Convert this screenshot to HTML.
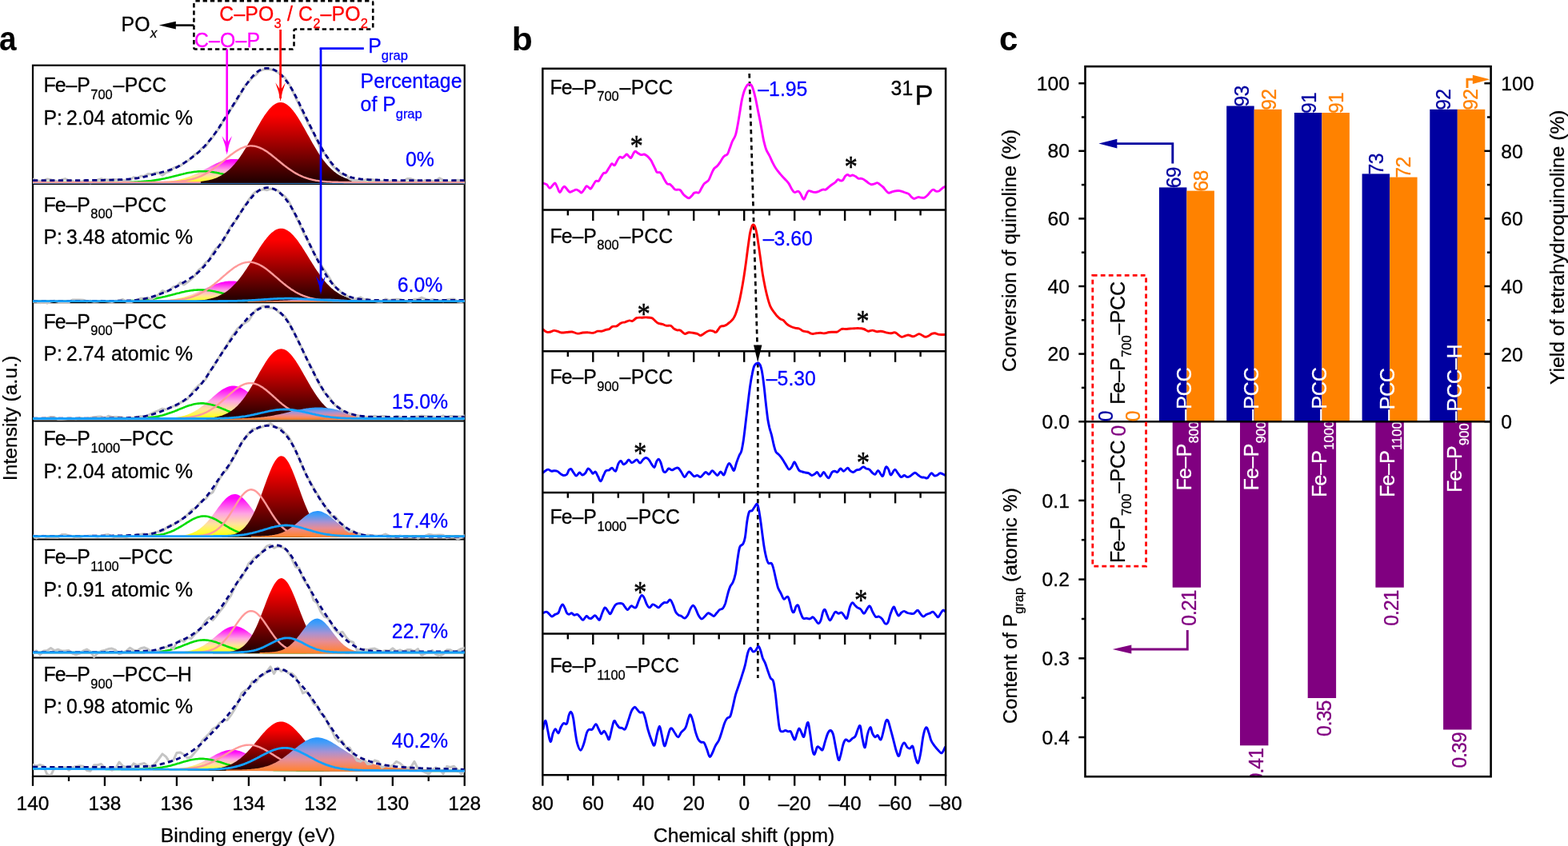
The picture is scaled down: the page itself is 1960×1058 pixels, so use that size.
<!DOCTYPE html>
<html lang="en"><head><meta charset="utf-8"><title>Figure</title>
<style>
html,body{margin:0;padding:0;background:#fff;}
body{width:1960px;height:1058px;overflow:hidden;}
svg{display:block;font-family:"Liberation Sans",Arial,Helvetica,sans-serif;}
svg text{stroke-linejoin:round;}
</style></head><body>
<svg xmlns="http://www.w3.org/2000/svg" width="1960" height="1058" viewBox="0 0 1960 1058">
<defs><linearGradient id="gR" x1="0" y1="0" x2="0" y2="1"><stop offset="0" stop-color="#ff0000"/><stop offset="0.15" stop-color="#ff0000"/><stop offset="1" stop-color="#1c0000"/></linearGradient>
<linearGradient id="gM" x1="0" y1="0" x2="0" y2="1"><stop offset="0" stop-color="#ff00ff"/><stop offset="0.1" stop-color="#ff08fa"/><stop offset="0.45" stop-color="#ffa4e2"/><stop offset="0.7" stop-color="#ffe49a"/><stop offset="0.88" stop-color="#ffff38"/><stop offset="1" stop-color="#ffff00"/></linearGradient>
<linearGradient id="gB" x1="0" y1="0" x2="0" y2="1"><stop offset="0" stop-color="#2496ff"/><stop offset="0.15" stop-color="#469cf8"/><stop offset="0.42" stop-color="#a892d2"/><stop offset="0.66" stop-color="#e88c92"/><stop offset="0.86" stop-color="#fa8650"/><stop offset="1" stop-color="#ff8228"/></linearGradient>
<clipPath id="clipA"><rect x="41" y="82.8" width="539.7" height="886.9"/></clipPath>
<clipPath id="clipB"><rect x="678.3" y="85.8" width="503.8" height="883.4"/></clipPath>
<clipPath id="clipC"><rect x="1356.5" y="83.1" width="507.1" height="886.9"/></clipPath></defs>
<rect width="1960" height="1058" fill="#fff"/>
<rect x="41" y="81.7" width="539.7" height="889.1" fill="none" stroke="#000" stroke-width="2.2"/>
<line x1="41" y1="229.9" x2="580.7" y2="229.9" stroke="#000" stroke-width="2.2"/>
<line x1="41" y1="378.2" x2="580.7" y2="378.2" stroke="#000" stroke-width="2.2"/>
<line x1="41" y1="526.5" x2="580.7" y2="526.5" stroke="#000" stroke-width="2.2"/>
<line x1="41" y1="674.5" x2="580.7" y2="674.5" stroke="#000" stroke-width="2.2"/>
<line x1="41" y1="822.5" x2="580.7" y2="822.5" stroke="#000" stroke-width="2.2"/>
<g id="panel-a" clip-path="url(#clipA)">
<path d="M170 229.3 L170 228.1 L171.5 228.1 L173 228.1 L174.5 228 L176 228 L177.5 228 L179 228 L180.5 228 L182 228 L183.5 228 L185 227.9 L186.5 227.9 L188 227.9 L189.5 227.9 L191 227.8 L192.5 227.8 L194 227.7 L195.5 227.7 L197 227.6 L198.5 227.6 L200 227.5 L201.5 227.4 L203 227.3 L204.5 227.2 L206 227.1 L207.5 227 L209 226.8 L210.5 226.7 L212 226.5 L213.5 226.3 L215 226.1 L216.5 225.9 L218 225.7 L219.5 225.4 L221 225.2 L222.5 224.9 L224 224.5 L225.5 224.2 L227 223.8 L228.5 223.4 L230 223 L231.5 222.6 L233 222.1 L234.5 221.6 L236 221.1 L237.5 220.5 L239 219.9 L240.5 219.3 L242 218.7 L243.5 218.1 L245 217.4 L246.5 216.7 L248 215.9 L249.5 215.2 L251 214.5 L252.5 213.7 L254 212.9 L255.5 212.1 L257 211.3 L258.5 210.5 L260 209.7 L261.5 208.9 L263 208.1 L264.5 207.3 L266 206.5 L267.5 205.8 L269 205.1 L270.5 204.3 L272 203.7 L273.5 203 L275 202.4 L276.5 201.8 L278 201.3 L279.5 200.8 L281 200.4 L282.5 200 L284 199.7 L285.5 199.4 L287 199.2 L288.5 199 L290 198.9 L291.5 198.9 L293 198.9 L294.5 199 L296 199.1 L297.5 199.3 L299 199.6 L300.5 199.9 L302 200.3 L303.5 200.7 L305 201.2 L306.5 201.7 L308 202.3 L309.5 202.9 L311 203.5 L312.5 204.2 L314 204.9 L315.5 205.6 L317 206.3 L318.5 207.1 L320 207.9 L321.5 208.7 L323 209.5 L324.5 210.3 L326 211.1 L327.5 211.9 L329 212.7 L330.5 213.5 L332 214.2 L333.5 215 L335 215.8 L336.5 216.5 L338 217.2 L339.5 217.9 L341 218.5 L342.5 219.2 L344 219.8 L345.5 220.4 L347 220.9 L348.5 221.5 L350 222 L351.5 222.4 L353 222.9 L354.5 223.3 L356 223.7 L357.5 224.1 L359 224.5 L360.5 224.8 L362 225.1 L363.5 225.4 L365 225.6 L366.5 225.9 L368 226.1 L369.5 226.3 L371 226.5 L372.5 226.6 L374 226.8 L375.5 226.9 L377 227.1 L378.5 227.2 L380 227.3 L381.5 227.4 L383 227.5 L384.5 227.5 L386 227.6 L387.5 227.7 L389 227.7 L390.5 227.8 L392 227.8 L393.5 227.8 L395 227.9 L396.5 227.9 L398 227.9 L399.5 228 L401 228 L402.5 228 L404 228 L405.5 228 L407 228 L408.5 228 L410 228.1 L411.5 228.1 L413 228.1 L413 229.3 Z" fill="url(#gM)"/>
<path d="M41 228.1 L42.5 228.1 L44 228.1 L45.5 228.1 L47 228.1 L48.5 228.1 L50 228.1 L51.5 228.1 L53 228.1 L54.5 228.1 L56 228.1 L57.5 228.1 L59 228.1 L60.5 228.1 L62 228.1 L63.5 228.1 L65 228.1 L66.5 228.1 L68 228.1 L69.5 228.1 L71 228.1 L72.5 228.1 L74 228.1 L75.5 228.1 L77 228.1 L78.5 228.1 L80 228.1 L81.5 228.1 L83 228.1 L84.5 228.1 L86 228.1 L87.5 228.1 L89 228.1 L90.5 228.1 L92 228.1 L93.5 228.1 L95 228.1 L96.5 228.1 L98 228.1 L99.5 228.1 L101 228.1 L102.5 228.1 L104 228.1 L105.5 228.1 L107 228.1 L108.5 228.1 L110 228.1 L111.5 228.1 L113 228.1 L114.5 228.1 L116 228.1 L117.5 228.1 L119 228.1 L120.5 228.1 L122 228.1 L123.5 228.1 L125 228.1 L126.5 228.1 L128 228.1 L129.5 228.1 L131 228.1 L132.5 228.1 L134 228.1 L135.5 228.1 L137 228.1 L138.5 228.1 L140 228.1 L141.5 228.1 L143 228 L144.5 228 L146 228 L147.5 228 L149 228 L150.5 228 L152 228 L153.5 228 L155 227.9 L156.5 227.9 L158 227.9 L159.5 227.9 L161 227.8 L162.5 227.8 L164 227.7 L165.5 227.7 L167 227.7 L168.5 227.6 L170 227.5 L171.5 227.5 L173 227.4 L174.5 227.3 L176 227.2 L177.5 227.1 L179 227 L180.5 226.9 L182 226.8 L183.5 226.6 L185 226.5 L186.5 226.3 L188 226.2 L189.5 226 L191 225.8 L192.5 225.6 L194 225.4 L195.5 225.1 L197 224.9 L198.5 224.6 L200 224.4 L201.5 224.1 L203 223.8 L204.5 223.5 L206 223.2 L207.5 222.8 L209 222.5 L210.5 222.2 L212 221.8 L213.5 221.4 L215 221.1 L216.5 220.7 L218 220.3 L219.5 219.9 L221 219.5 L222.5 219.2 L224 218.8 L225.5 218.4 L227 218 L228.5 217.7 L230 217.3 L231.5 217 L233 216.6 L234.5 216.3 L236 216 L237.5 215.7 L239 215.5 L240.5 215.2 L242 215 L243.5 214.8 L245 214.7 L246.5 214.5 L248 214.4 L249.5 214.3 L251 214.2 L252.5 214.2 L254 214.2 L255.5 214.2 L257 214.3 L258.5 214.4 L260 214.5 L261.5 214.6 L263 214.8 L264.5 215 L266 215.2 L267.5 215.4 L269 215.7 L270.5 215.9 L272 216.2 L273.5 216.5 L275 216.9 L276.5 217.2 L278 217.5 L279.5 217.9 L281 218.3 L282.5 218.7 L284 219 L285.5 219.4 L287 219.8 L288.5 220.2 L290 220.6 L291.5 220.9 L293 221.3 L294.5 221.7 L296 222 L297.5 222.4 L299 222.7 L300.5 223.1 L302 223.4 L303.5 223.7 L305 224 L306.5 224.3 L308 224.5 L309.5 224.8 L311 225.1 L312.5 225.3 L314 225.5 L315.5 225.7 L317 225.9 L318.5 226.1 L320 226.3 L321.5 226.4 L323 226.6 L324.5 226.7 L326 226.9 L327.5 227 L329 227.1 L330.5 227.2 L332 227.3 L333.5 227.4 L335 227.4 L336.5 227.5 L338 227.6 L339.5 227.6 L341 227.7 L342.5 227.7 L344 227.8 L345.5 227.8 L347 227.8 L348.5 227.9 L350 227.9 L351.5 227.9 L353 228 L354.5 228 L356 228 L357.5 228 L359 228 L360.5 228 L362 228 L363.5 228 L365 228.1 L366.5 228.1 L368 228.1 L369.5 228.1 L371 228.1 L372.5 228.1 L374 228.1 L375.5 228.1 L377 228.1 L378.5 228.1 L380 228.1 L381.5 228.1 L383 228.1 L384.5 228.1 L386 228.1 L387.5 228.1 L389 228.1 L390.5 228.1 L392 228.1 L393.5 228.1 L395 228.1 L396.5 228.1 L398 228.1 L399.5 228.1 L401 228.1 L402.5 228.1 L404 228.1 L405.5 228.1 L407 228.1 L408.5 228.1 L410 228.1 L411.5 228.1 L413 228.1 L414.5 228.1 L416 228.1 L417.5 228.1 L419 228.1 L420.5 228.1 L422 228.1 L423.5 228.1 L425 228.1 L426.5 228.1 L428 228.1 L429.5 228.1 L431 228.1 L432.5 228.1 L434 228.1 L435.5 228.1 L437 228.1 L438.5 228.1 L440 228.1 L441.5 228.1 L443 228.1 L444.5 228.1 L446 228.1 L447.5 228.1 L449 228.1 L450.5 228.1 L452 228.1 L453.5 228.1 L455 228.1 L456.5 228.1 L458 228.1 L459.5 228.1 L461 228.1 L462.5 228.1 L464 228.1 L465.5 228.1 L467 228.1 L468.5 228.1 L470 228.1 L471.5 228.1 L473 228.1 L474.5 228.1 L476 228.1 L477.5 228.1 L479 228.1 L480.5 228.1 L482 228.1 L483.5 228.1 L485 228.1 L486.5 228.1 L488 228.1 L489.5 228.1 L491 228.1 L492.5 228.1 L494 228.1 L495.5 228.1 L497 228.1 L498.5 228.1 L500 228.1 L501.5 228.1 L503 228.1 L504.5 228.1 L506 228.1 L507.5 228.1 L509 228.1 L510.5 228.1 L512 228.1 L513.5 228.1 L515 228.1 L516.5 228.1 L518 228.1 L519.5 228.1 L521 228.1 L522.5 228.1 L524 228.1 L525.5 228.1 L527 228.1 L528.5 228.1 L530 228.1 L531.5 228.1 L533 228.1 L534.5 228.1 L536 228.1 L537.5 228.1 L539 228.1 L540.5 228.1 L542 228.1 L543.5 228.1 L545 228.1 L546.5 228.1 L548 228.1 L549.5 228.1 L551 228.1 L552.5 228.1 L554 228.1 L555.5 228.1 L557 228.1 L558.5 228.1 L560 228.1 L561.5 228.1 L563 228.1 L564.5 228.1 L566 228.1 L567.5 228.1 L569 228.1 L570.5 228.1 L572 228.1 L573.5 228.1 L575 228.1 L576.5 228.1 L578 228.1 L579.5 228.1 L580.7 228.1" fill="none" stroke="#00dc00" stroke-width="2.6" stroke-linejoin="round" stroke-linecap="round"/>
<path d="M216.5 229.3 L216.5 228.1 L218 228.1 L219.5 228.1 L221 228 L222.5 228 L224 228 L225.5 228 L227 228 L228.5 228 L230 227.9 L231.5 227.9 L233 227.9 L234.5 227.9 L236 227.8 L237.5 227.8 L239 227.7 L240.5 227.7 L242 227.6 L243.5 227.5 L245 227.4 L246.5 227.3 L248 227.2 L249.5 227.1 L251 226.9 L252.5 226.7 L254 226.5 L255.5 226.3 L257 226.1 L258.5 225.8 L260 225.5 L261.5 225.2 L263 224.8 L264.5 224.4 L266 224 L267.5 223.5 L269 223 L270.5 222.4 L272 221.8 L273.5 221.1 L275 220.3 L276.5 219.5 L278 218.6 L279.5 217.6 L281 216.6 L282.5 215.5 L284 214.3 L285.5 213 L287 211.7 L288.5 210.2 L290 208.7 L291.5 207.1 L293 205.4 L294.5 203.6 L296 201.7 L297.5 199.7 L299 197.7 L300.5 195.5 L302 193.3 L303.5 191 L305 188.6 L306.5 186.2 L308 183.7 L309.5 181.1 L311 178.5 L312.5 175.9 L314 173.2 L315.5 170.5 L317 167.7 L318.5 165 L320 162.3 L321.5 159.6 L323 157 L324.5 154.4 L326 151.8 L327.5 149.3 L329 146.9 L330.5 144.6 L332 142.4 L333.5 140.4 L335 138.4 L336.5 136.6 L338 134.9 L339.5 133.4 L341 132.1 L342.5 131 L344 130 L345.5 129.2 L347 128.6 L348.5 128.2 L350 128 L351.5 128 L353 128.2 L354.5 128.6 L356 129.2 L357.5 130 L359 131 L360.5 132.2 L362 133.5 L363.5 135 L365 136.7 L366.5 138.5 L368 140.5 L369.5 142.6 L371 144.8 L372.5 147.1 L374 149.5 L375.5 152 L377 154.5 L378.5 157.2 L380 159.8 L381.5 162.5 L383 165.2 L384.5 167.9 L386 170.6 L387.5 173.3 L389 176 L390.5 178.7 L392 181.3 L393.5 183.8 L395 186.3 L396.5 188.8 L398 191.2 L399.5 193.5 L401 195.7 L402.5 197.8 L404 199.9 L405.5 201.8 L407 203.7 L408.5 205.5 L410 207.2 L411.5 208.8 L413 210.3 L414.5 211.8 L416 213.1 L417.5 214.4 L419 215.6 L420.5 216.7 L422 217.7 L423.5 218.7 L425 219.5 L426.5 220.4 L428 221.1 L429.5 221.8 L431 222.4 L432.5 223 L434 223.6 L435.5 224 L437 224.5 L438.5 224.9 L440 225.2 L441.5 225.6 L443 225.9 L444.5 226.1 L446 226.3 L447.5 226.6 L449 226.7 L450.5 226.9 L452 227.1 L453.5 227.2 L455 227.3 L456.5 227.4 L458 227.5 L459.5 227.6 L461 227.7 L462.5 227.7 L464 227.8 L465.5 227.8 L467 227.9 L468.5 227.9 L470 227.9 L471.5 227.9 L473 228 L474.5 228 L476 228 L477.5 228 L479 228 L480.5 228 L482 228.1 L483.5 228.1 L485 228.1 L485 229.3 Z" fill="url(#gR)"/>
<path d="M41 228.1 L42.5 228.1 L44 228.1 L45.5 228.1 L47 228.1 L48.5 228.1 L50 228.1 L51.5 228.1 L53 228.1 L54.5 228.1 L56 228.1 L57.5 228.1 L59 228.1 L60.5 228.1 L62 228.1 L63.5 228.1 L65 228.1 L66.5 228.1 L68 228.1 L69.5 228.1 L71 228.1 L72.5 228.1 L74 228.1 L75.5 228.1 L77 228.1 L78.5 228.1 L80 228.1 L81.5 228.1 L83 228.1 L84.5 228.1 L86 228.1 L87.5 228.1 L89 228.1 L90.5 228.1 L92 228.1 L93.5 228.1 L95 228.1 L96.5 228.1 L98 228.1 L99.5 228.1 L101 228.1 L102.5 228.1 L104 228.1 L105.5 228.1 L107 228.1 L108.5 228.1 L110 228.1 L111.5 228.1 L113 228.1 L114.5 228.1 L116 228.1 L117.5 228.1 L119 228.1 L120.5 228.1 L122 228.1 L123.5 228.1 L125 228.1 L126.5 228.1 L128 228.1 L129.5 228.1 L131 228.1 L132.5 228.1 L134 228.1 L135.5 228.1 L137 228.1 L138.5 228.1 L140 228.1 L141.5 228.1 L143 228.1 L144.5 228.1 L146 228.1 L147.5 228.1 L149 228.1 L150.5 228.1 L152 228.1 L153.5 228.1 L155 228.1 L156.5 228.1 L158 228.1 L159.5 228.1 L161 228.1 L162.5 228.1 L164 228.1 L165.5 228.1 L167 228.1 L168.5 228.1 L170 228.1 L171.5 228.1 L173 228.1 L174.5 228.1 L176 228.1 L177.5 228.1 L179 228.1 L180.5 228.1 L182 228.1 L183.5 228.1 L185 228.1 L186.5 228.1 L188 228.1 L189.5 228.1 L191 228 L192.5 228 L194 228 L195.5 228 L197 228 L198.5 228 L200 228 L201.5 227.9 L203 227.9 L204.5 227.9 L206 227.8 L207.5 227.8 L209 227.8 L210.5 227.7 L212 227.7 L213.5 227.6 L215 227.5 L216.5 227.4 L218 227.3 L219.5 227.2 L221 227.1 L222.5 227 L224 226.9 L225.5 226.7 L227 226.5 L228.5 226.3 L230 226.1 L231.5 225.9 L233 225.6 L234.5 225.3 L236 225 L237.5 224.7 L239 224.3 L240.5 224 L242 223.5 L243.5 223.1 L245 222.6 L246.5 222.1 L248 221.5 L249.5 220.9 L251 220.3 L252.5 219.6 L254 218.9 L255.5 218.1 L257 217.3 L258.5 216.5 L260 215.6 L261.5 214.7 L263 213.7 L264.5 212.7 L266 211.7 L267.5 210.6 L269 209.5 L270.5 208.4 L272 207.2 L273.5 206 L275 204.8 L276.5 203.6 L278 202.4 L279.5 201.1 L281 199.9 L282.5 198.6 L284 197.4 L285.5 196.2 L287 195 L288.5 193.8 L290 192.7 L291.5 191.6 L293 190.5 L294.5 189.5 L296 188.5 L297.5 187.6 L299 186.7 L300.5 185.9 L302 185.2 L303.5 184.6 L305 184 L306.5 183.5 L308 183.1 L309.5 182.8 L311 182.6 L312.5 182.4 L314 182.4 L315.5 182.5 L317 182.6 L318.5 182.8 L320 183.2 L321.5 183.6 L323 184.1 L324.5 184.6 L326 185.3 L327.5 186 L329 186.8 L330.5 187.7 L332 188.6 L333.5 189.6 L335 190.6 L336.5 191.7 L338 192.8 L339.5 194 L341 195.2 L342.5 196.4 L344 197.6 L345.5 198.8 L347 200.1 L348.5 201.3 L350 202.5 L351.5 203.8 L353 205 L354.5 206.2 L356 207.4 L357.5 208.5 L359 209.6 L360.5 210.7 L362 211.8 L363.5 212.8 L365 213.8 L366.5 214.8 L368 215.7 L369.5 216.6 L371 217.4 L372.5 218.2 L374 219 L375.5 219.7 L377 220.3 L378.5 221 L380 221.6 L381.5 222.1 L383 222.7 L384.5 223.1 L386 223.6 L387.5 224 L389 224.4 L390.5 224.8 L392 225.1 L393.5 225.4 L395 225.7 L396.5 225.9 L398 226.1 L399.5 226.4 L401 226.5 L402.5 226.7 L404 226.9 L405.5 227 L407 227.1 L408.5 227.3 L410 227.4 L411.5 227.4 L413 227.5 L414.5 227.6 L416 227.7 L417.5 227.7 L419 227.8 L420.5 227.8 L422 227.8 L423.5 227.9 L425 227.9 L426.5 227.9 L428 228 L429.5 228 L431 228 L432.5 228 L434 228 L435.5 228 L437 228 L438.5 228.1 L440 228.1 L441.5 228.1 L443 228.1 L444.5 228.1 L446 228.1 L447.5 228.1 L449 228.1 L450.5 228.1 L452 228.1 L453.5 228.1 L455 228.1 L456.5 228.1 L458 228.1 L459.5 228.1 L461 228.1 L462.5 228.1 L464 228.1 L465.5 228.1 L467 228.1 L468.5 228.1 L470 228.1 L471.5 228.1 L473 228.1 L474.5 228.1 L476 228.1 L477.5 228.1 L479 228.1 L480.5 228.1 L482 228.1 L483.5 228.1 L485 228.1 L486.5 228.1 L488 228.1 L489.5 228.1 L491 228.1 L492.5 228.1 L494 228.1 L495.5 228.1 L497 228.1 L498.5 228.1 L500 228.1 L501.5 228.1 L503 228.1 L504.5 228.1 L506 228.1 L507.5 228.1 L509 228.1 L510.5 228.1 L512 228.1 L513.5 228.1 L515 228.1 L516.5 228.1 L518 228.1 L519.5 228.1 L521 228.1 L522.5 228.1 L524 228.1 L525.5 228.1 L527 228.1 L528.5 228.1 L530 228.1 L531.5 228.1 L533 228.1 L534.5 228.1 L536 228.1 L537.5 228.1 L539 228.1 L540.5 228.1 L542 228.1 L543.5 228.1 L545 228.1 L546.5 228.1 L548 228.1 L549.5 228.1 L551 228.1 L552.5 228.1 L554 228.1 L555.5 228.1 L557 228.1 L558.5 228.1 L560 228.1 L561.5 228.1 L563 228.1 L564.5 228.1 L566 228.1 L567.5 228.1 L569 228.1 L570.5 228.1 L572 228.1 L573.5 228.1 L575 228.1 L576.5 228.1 L578 228.1 L579.5 228.1 L580.7 228.1" fill="none" stroke="#ff9a9a" stroke-width="2.4" stroke-linejoin="round" stroke-linecap="round"/>
<path d="M41 224.1 L45.5 225.5 L50 226.9 L54.5 225.6 L59 223.9 L63.5 224.8 L68 225.9 L72.5 227.2 L77 224.8 L81.5 223.6 L86 225.7 L90.5 226.3 L95 227.9 L99.5 227.9 L104 226.5 L108.5 225.6 L113 228.8 L117.5 226.6 L122 224.9 L126.5 223.6 L131 224.6 L135.5 225.1 L140 224.6 L144.5 224.6 L149 224.9 L153.5 225.5 L158 226.1 L162.5 225 L167 221.6 L171.5 222.9 L176 220.2 L180.5 220 L185 217.6 L189.5 217.8 L194 216.2 L198.5 216 L203 219.3 L207.5 215.8 L212 214.6 L216.5 210.3 L221 208.4 L225.5 207.3 L230 204 L234.5 201.3 L239 197.9 L243.5 193.1 L248 190.8 L252.5 185.3 L257 183.4 L261.5 176.4 L266 171.5 L270.5 164.8 L275 159.1 L279.5 150.3 L284 144.5 L288.5 136.4 L293 130.6 L297.5 123.1 L302 115.3 L306.5 107.1 L311 102.2 L315.5 96.8 L320 93.8 L324.5 88.6 L329 87 L333.5 86.5 L338 86.7 L342.5 88 L347 90.5 L351.5 93.2 L356 97.1 L360.5 103.5 L365 112.1 L369.5 122.2 L374 131.4 L378.5 140.9 L383 149.9 L387.5 158.7 L392 166.9 L396.5 176.2 L401 186.2 L405.5 191.9 L410 197.4 L414.5 206.3 L419 210.4 L423.5 215.2 L428 218.7 L432.5 218.7 L437 224 L441.5 226 L446 225.2 L450.5 225.7 L455 225.4 L459.5 224 L464 224.4 L468.5 225.3 L473 226.6 L477.5 226.8 L482 226.1 L486.5 227.5 L491 225.4 L495.5 226.6 L500 227.5 L504.5 226.2 L509 223.6 L513.5 223.6 L518 225.1 L522.5 226.1 L527 227.9 L531.5 225.4 L536 225.6 L540.5 226.5 L545 225.8 L549.5 222.7 L554 225.4 L558.5 228.6 L563 228.3 L567.5 225.7 L572 225.2 L576.5 225.7 L580.7 229" fill="none" stroke="#c4c4c4" stroke-width="3" stroke-linejoin="round" stroke-linecap="round"/>
<path d="M41 225.7 L42.5 225.7 L44 225.7 L45.5 225.7 L47 225.7 L48.5 225.7 L50 225.7 L51.5 225.7 L53 225.7 L54.5 225.7 L56 225.7 L57.5 225.7 L59 225.7 L60.5 225.7 L62 225.7 L63.5 225.7 L65 225.7 L66.5 225.7 L68 225.7 L69.5 225.7 L71 225.7 L72.5 225.7 L74 225.7 L75.5 225.7 L77 225.7 L78.5 225.7 L80 225.7 L81.5 225.7 L83 225.7 L84.5 225.7 L86 225.7 L87.5 225.7 L89 225.7 L90.5 225.7 L92 225.6 L93.5 225.6 L95 225.6 L96.5 225.6 L98 225.6 L99.5 225.6 L101 225.6 L102.5 225.6 L104 225.6 L105.5 225.6 L107 225.5 L108.5 225.5 L110 225.5 L111.5 225.5 L113 225.5 L114.5 225.5 L116 225.4 L117.5 225.4 L119 225.4 L120.5 225.4 L122 225.4 L123.5 225.4 L125 225.3 L126.5 225.3 L128 225.3 L129.5 225.3 L131 225.2 L132.5 225.2 L134 225.2 L135.5 225.2 L137 225.1 L138.5 225.1 L140 225.1 L141.5 225 L143 225 L144.5 224.9 L146 224.9 L147.5 224.8 L149 224.7 L150.5 224.7 L152 224.6 L153.5 224.5 L155 224.4 L156.5 224.3 L158 224.2 L159.5 224.1 L161 224 L162.5 223.8 L164 223.7 L165.5 223.6 L167 223.4 L168.5 223.2 L170 223 L171.5 222.8 L173 222.6 L174.5 222.3 L176 222 L177.5 221.7 L179 221.4 L180.5 221.1 L182 220.7 L183.5 220.4 L185 220 L186.5 219.6 L188 219.2 L189.5 218.8 L191 218.4 L192.5 218 L194 217.6 L195.5 217.2 L197 216.8 L198.5 216.4 L200 216 L201.5 215.6 L203 215.2 L204.5 214.8 L206 214.4 L207.5 214 L209 213.6 L210.5 213.2 L212 212.7 L213.5 212.2 L215 211.7 L216.5 211.1 L218 210.5 L219.5 209.9 L221 209.2 L222.5 208.4 L224 207.6 L225.5 206.8 L227 205.9 L228.5 204.9 L230 203.9 L231.5 202.9 L233 201.8 L234.5 200.8 L236 199.7 L237.5 198.7 L239 197.6 L240.5 196.5 L242 195.3 L243.5 194.2 L245 193 L246.5 191.8 L248 190.5 L249.5 189.2 L251 187.8 L252.5 186.3 L254 184.7 L255.5 183.1 L257 181.4 L258.5 179.7 L260 177.9 L261.5 176.1 L263 174.3 L264.5 172.4 L266 170.5 L267.5 168.5 L269 166.5 L270.5 164.4 L272 162.2 L273.5 160 L275 157.6 L276.5 155.3 L278 152.9 L279.5 150.5 L281 148.1 L282.5 145.7 L284 143.3 L285.5 140.9 L287 138.4 L288.5 136 L290 133.6 L291.5 131.2 L293 128.8 L294.5 126.3 L296 123.9 L297.5 121.5 L299 119 L300.5 116.7 L302 114.4 L303.5 112.1 L305 109.8 L306.5 107.7 L308 105.5 L309.5 103.5 L311 101.5 L312.5 99.5 L314 97.7 L315.5 95.9 L317 94.2 L318.5 92.7 L320 91.3 L321.5 90 L323 88.9 L324.5 88 L326 87.2 L327.5 86.5 L329 86 L330.5 85.7 L332 85.4 L333.5 85.3 L335 85.4 L336.5 85.5 L338 85.8 L339.5 86.2 L341 86.7 L342.5 87.3 L344 88 L345.5 88.9 L347 90 L348.5 91.1 L350 92.4 L351.5 93.7 L353 95.3 L354.5 96.9 L356 98.7 L357.5 100.6 L359 102.6 L360.5 104.7 L362 107 L363.5 109.3 L365 111.8 L366.5 114.5 L368 117.3 L369.5 120.2 L371 123.1 L372.5 126.1 L374 129.2 L375.5 132.3 L377 135.4 L378.5 138.5 L380 141.6 L381.5 144.8 L383 147.8 L384.5 150.9 L386 153.9 L387.5 156.9 L389 159.9 L390.5 162.9 L392 165.9 L393.5 168.9 L395 171.8 L396.5 174.7 L398 177.6 L399.5 180.4 L401 183.2 L402.5 185.9 L404 188.5 L405.5 191 L407 193.4 L408.5 195.7 L410 197.9 L411.5 200 L413 202 L414.5 204 L416 205.8 L417.5 207.5 L419 209.1 L420.5 210.6 L422 212 L423.5 213.3 L425 214.5 L426.5 215.6 L428 216.7 L429.5 217.6 L431 218.5 L432.5 219.3 L434 220 L435.5 220.6 L437 221.1 L438.5 221.6 L440 222.1 L441.5 222.4 L443 222.8 L444.5 223.1 L446 223.3 L447.5 223.5 L449 223.7 L450.5 223.9 L452 224.1 L453.5 224.2 L455 224.4 L456.5 224.5 L458 224.6 L459.5 224.7 L461 224.8 L462.5 224.8 L464 224.9 L465.5 224.9 L467 224.9 L468.5 225 L470 225 L471.5 225 L473 225.1 L474.5 225.1 L476 225.1 L477.5 225.2 L479 225.2 L480.5 225.2 L482 225.3 L483.5 225.3 L485 225.3 L486.5 225.4 L488 225.4 L489.5 225.4 L491 225.5 L492.5 225.5 L494 225.5 L495.5 225.6 L497 225.6 L498.5 225.6 L500 225.6 L501.5 225.6 L503 225.7 L504.5 225.7 L506 225.7 L507.5 225.7 L509 225.7 L510.5 225.7 L512 225.7 L513.5 225.7 L515 225.7 L516.5 225.7 L518 225.7 L519.5 225.7 L521 225.7 L522.5 225.7 L524 225.7 L525.5 225.7 L527 225.7 L528.5 225.7 L530 225.7 L531.5 225.7 L533 225.7 L534.5 225.7 L536 225.7 L537.5 225.7 L539 225.7 L540.5 225.7 L542 225.7 L543.5 225.7 L545 225.7 L546.5 225.7 L548 225.7 L549.5 225.7 L551 225.7 L552.5 225.7 L554 225.7 L555.5 225.7 L557 225.7 L558.5 225.7 L560 225.7 L561.5 225.7 L563 225.7 L564.5 225.7 L566 225.7 L567.5 225.7 L569 225.7 L570.5 225.7 L572 225.7 L573.5 225.7 L575 225.7 L576.5 225.7 L578 225.7 L579.5 225.7 L580.7 225.7" fill="none" stroke="#000080" stroke-width="2.8" stroke-linejoin="round" stroke-linecap="butt" stroke-dasharray="6.2 4.4"/>
<path d="M41 229.4 L580.7 229.4" fill="none" stroke="#3a7fd0" stroke-width="1" stroke-linejoin="round" stroke-linecap="round"/>
<path d="M41 228.1 L250 228.1" fill="none" stroke="#ff9a9a" stroke-width="2.4" stroke-linejoin="round" stroke-linecap="round"/>
<path d="M430 228.1 L580.7 228.1" fill="none" stroke="#ff9a9a" stroke-width="2.4" stroke-linejoin="round" stroke-linecap="round"/>
<path d="M168.5 377.8 L168.5 376.6 L170 376.6 L171.5 376.6 L173 376.5 L174.5 376.5 L176 376.5 L177.5 376.5 L179 376.5 L180.5 376.5 L182 376.5 L183.5 376.4 L185 376.4 L186.5 376.4 L188 376.4 L189.5 376.3 L191 376.3 L192.5 376.2 L194 376.2 L195.5 376.1 L197 376.1 L198.5 376 L200 375.9 L201.5 375.8 L203 375.7 L204.5 375.6 L206 375.5 L207.5 375.4 L209 375.2 L210.5 375.1 L212 374.9 L213.5 374.7 L215 374.5 L216.5 374.3 L218 374.1 L219.5 373.8 L221 373.5 L222.5 373.2 L224 372.9 L225.5 372.6 L227 372.2 L228.5 371.8 L230 371.4 L231.5 371 L233 370.5 L234.5 370.1 L236 369.6 L237.5 369 L239 368.5 L240.5 367.9 L242 367.3 L243.5 366.7 L245 366.1 L246.5 365.5 L248 364.8 L249.5 364.2 L251 363.5 L252.5 362.8 L254 362.1 L255.5 361.4 L257 360.7 L258.5 360 L260 359.3 L261.5 358.7 L263 358 L264.5 357.3 L266 356.7 L267.5 356.1 L269 355.5 L270.5 355 L272 354.4 L273.5 353.9 L275 353.5 L276.5 353.1 L278 352.7 L279.5 352.4 L281 352.1 L282.5 351.8 L284 351.7 L285.5 351.5 L287 351.4 L288.5 351.4 L290 351.4 L291.5 351.5 L293 351.6 L294.5 351.8 L296 352 L297.5 352.3 L299 352.6 L300.5 353 L302 353.4 L303.5 353.8 L305 354.3 L306.5 354.8 L308 355.4 L309.5 355.9 L311 356.5 L312.5 357.2 L314 357.8 L315.5 358.5 L317 359.2 L318.5 359.8 L320 360.5 L321.5 361.2 L323 361.9 L324.5 362.6 L326 363.3 L327.5 364 L329 364.6 L330.5 365.3 L332 365.9 L333.5 366.6 L335 367.2 L336.5 367.8 L338 368.3 L339.5 368.9 L341 369.4 L342.5 369.9 L344 370.4 L345.5 370.9 L347 371.3 L348.5 371.7 L350 372.1 L351.5 372.5 L353 372.8 L354.5 373.1 L356 373.5 L357.5 373.7 L359 374 L360.5 374.2 L362 374.5 L363.5 374.7 L365 374.9 L366.5 375 L368 375.2 L369.5 375.3 L371 375.5 L372.5 375.6 L374 375.7 L375.5 375.8 L377 375.9 L378.5 376 L380 376.1 L381.5 376.1 L383 376.2 L384.5 376.2 L386 376.3 L387.5 376.3 L389 376.4 L390.5 376.4 L392 376.4 L393.5 376.4 L395 376.5 L396.5 376.5 L398 376.5 L399.5 376.5 L401 376.5 L402.5 376.5 L404 376.5 L405.5 376.6 L407 376.6 L408.5 376.6 L408.5 377.8 Z" fill="url(#gM)"/>
<path d="M41 376.6 L42.5 376.6 L44 376.6 L45.5 376.6 L47 376.6 L48.5 376.6 L50 376.6 L51.5 376.6 L53 376.6 L54.5 376.6 L56 376.6 L57.5 376.6 L59 376.6 L60.5 376.6 L62 376.6 L63.5 376.6 L65 376.6 L66.5 376.6 L68 376.6 L69.5 376.6 L71 376.6 L72.5 376.6 L74 376.6 L75.5 376.6 L77 376.6 L78.5 376.6 L80 376.6 L81.5 376.6 L83 376.6 L84.5 376.6 L86 376.6 L87.5 376.6 L89 376.6 L90.5 376.6 L92 376.6 L93.5 376.6 L95 376.6 L96.5 376.6 L98 376.6 L99.5 376.6 L101 376.6 L102.5 376.6 L104 376.6 L105.5 376.6 L107 376.6 L108.5 376.6 L110 376.6 L111.5 376.6 L113 376.6 L114.5 376.6 L116 376.6 L117.5 376.6 L119 376.6 L120.5 376.6 L122 376.6 L123.5 376.6 L125 376.6 L126.5 376.6 L128 376.6 L129.5 376.6 L131 376.6 L132.5 376.6 L134 376.6 L135.5 376.6 L137 376.6 L138.5 376.6 L140 376.5 L141.5 376.5 L143 376.5 L144.5 376.5 L146 376.5 L147.5 376.5 L149 376.5 L150.5 376.5 L152 376.4 L153.5 376.4 L155 376.4 L156.5 376.4 L158 376.3 L159.5 376.3 L161 376.2 L162.5 376.2 L164 376.1 L165.5 376.1 L167 376 L168.5 376 L170 375.9 L171.5 375.8 L173 375.7 L174.5 375.6 L176 375.5 L177.5 375.4 L179 375.2 L180.5 375.1 L182 375 L183.5 374.8 L185 374.6 L186.5 374.4 L188 374.2 L189.5 374 L191 373.8 L192.5 373.6 L194 373.3 L195.5 373.1 L197 372.8 L198.5 372.5 L200 372.2 L201.5 371.9 L203 371.6 L204.5 371.2 L206 370.9 L207.5 370.5 L209 370.2 L210.5 369.8 L212 369.4 L213.5 369.1 L215 368.7 L216.5 368.3 L218 367.9 L219.5 367.5 L221 367.1 L222.5 366.7 L224 366.4 L225.5 366 L227 365.6 L228.5 365.3 L230 365 L231.5 364.6 L233 364.3 L234.5 364 L236 363.8 L237.5 363.5 L239 363.3 L240.5 363.1 L242 362.9 L243.5 362.8 L245 362.7 L246.5 362.6 L248 362.5 L249.5 362.5 L251 362.5 L252.5 362.5 L254 362.6 L255.5 362.7 L257 362.8 L258.5 362.9 L260 363.1 L261.5 363.3 L263 363.5 L264.5 363.7 L266 364 L267.5 364.3 L269 364.6 L270.5 364.9 L272 365.2 L273.5 365.6 L275 365.9 L276.5 366.3 L278 366.7 L279.5 367 L281 367.4 L282.5 367.8 L284 368.2 L285.5 368.6 L287 369 L288.5 369.4 L290 369.7 L291.5 370.1 L293 370.5 L294.5 370.8 L296 371.2 L297.5 371.5 L299 371.8 L300.5 372.1 L302 372.4 L303.5 372.7 L305 373 L306.5 373.3 L308 373.5 L309.5 373.8 L311 374 L312.5 374.2 L314 374.4 L315.5 374.6 L317 374.8 L318.5 374.9 L320 375.1 L321.5 375.2 L323 375.3 L324.5 375.5 L326 375.6 L327.5 375.7 L329 375.8 L330.5 375.9 L332 375.9 L333.5 376 L335 376.1 L336.5 376.1 L338 376.2 L339.5 376.2 L341 376.3 L342.5 376.3 L344 376.3 L345.5 376.4 L347 376.4 L348.5 376.4 L350 376.5 L351.5 376.5 L353 376.5 L354.5 376.5 L356 376.5 L357.5 376.5 L359 376.5 L360.5 376.5 L362 376.6 L363.5 376.6 L365 376.6 L366.5 376.6 L368 376.6 L369.5 376.6 L371 376.6 L372.5 376.6 L374 376.6 L375.5 376.6 L377 376.6 L378.5 376.6 L380 376.6 L381.5 376.6 L383 376.6 L384.5 376.6 L386 376.6 L387.5 376.6 L389 376.6 L390.5 376.6 L392 376.6 L393.5 376.6 L395 376.6 L396.5 376.6 L398 376.6 L399.5 376.6 L401 376.6 L402.5 376.6 L404 376.6 L405.5 376.6 L407 376.6 L408.5 376.6 L410 376.6 L411.5 376.6 L413 376.6 L414.5 376.6 L416 376.6 L417.5 376.6 L419 376.6 L420.5 376.6 L422 376.6 L423.5 376.6 L425 376.6 L426.5 376.6 L428 376.6 L429.5 376.6 L431 376.6 L432.5 376.6 L434 376.6 L435.5 376.6 L437 376.6 L438.5 376.6 L440 376.6 L441.5 376.6 L443 376.6 L444.5 376.6 L446 376.6 L447.5 376.6 L449 376.6 L450.5 376.6 L452 376.6 L453.5 376.6 L455 376.6 L456.5 376.6 L458 376.6 L459.5 376.6 L461 376.6 L462.5 376.6 L464 376.6 L465.5 376.6 L467 376.6 L468.5 376.6 L470 376.6 L471.5 376.6 L473 376.6 L474.5 376.6 L476 376.6 L477.5 376.6 L479 376.6 L480.5 376.6 L482 376.6 L483.5 376.6 L485 376.6 L486.5 376.6 L488 376.6 L489.5 376.6 L491 376.6 L492.5 376.6 L494 376.6 L495.5 376.6 L497 376.6 L498.5 376.6 L500 376.6 L501.5 376.6 L503 376.6 L504.5 376.6 L506 376.6 L507.5 376.6 L509 376.6 L510.5 376.6 L512 376.6 L513.5 376.6 L515 376.6 L516.5 376.6 L518 376.6 L519.5 376.6 L521 376.6 L522.5 376.6 L524 376.6 L525.5 376.6 L527 376.6 L528.5 376.6 L530 376.6 L531.5 376.6 L533 376.6 L534.5 376.6 L536 376.6 L537.5 376.6 L539 376.6 L540.5 376.6 L542 376.6 L543.5 376.6 L545 376.6 L546.5 376.6 L548 376.6 L549.5 376.6 L551 376.6 L552.5 376.6 L554 376.6 L555.5 376.6 L557 376.6 L558.5 376.6 L560 376.6 L561.5 376.6 L563 376.6 L564.5 376.6 L566 376.6 L567.5 376.6 L569 376.6 L570.5 376.6 L572 376.6 L573.5 376.6 L575 376.6 L576.5 376.6 L578 376.6 L579.5 376.6 L580.7 376.6" fill="none" stroke="#00dc00" stroke-width="2.6" stroke-linejoin="round" stroke-linecap="round"/>
<path d="M216.5 377.8 L216.5 376.6 L218 376.6 L219.5 376.6 L221 376.5 L222.5 376.5 L224 376.5 L225.5 376.5 L227 376.5 L228.5 376.5 L230 376.4 L231.5 376.4 L233 376.4 L234.5 376.4 L236 376.3 L237.5 376.3 L239 376.2 L240.5 376.2 L242 376.1 L243.5 376 L245 375.9 L246.5 375.8 L248 375.7 L249.5 375.6 L251 375.4 L252.5 375.3 L254 375.1 L255.5 374.9 L257 374.7 L258.5 374.4 L260 374.1 L261.5 373.8 L263 373.5 L264.5 373.1 L266 372.7 L267.5 372.3 L269 371.8 L270.5 371.2 L272 370.7 L273.5 370 L275 369.3 L276.5 368.6 L278 367.8 L279.5 366.9 L281 365.9 L282.5 364.9 L284 363.9 L285.5 362.7 L287 361.5 L288.5 360.2 L290 358.8 L291.5 357.3 L293 355.8 L294.5 354.2 L296 352.5 L297.5 350.7 L299 348.9 L300.5 347 L302 345 L303.5 342.9 L305 340.8 L306.5 338.6 L308 336.4 L309.5 334.1 L311 331.7 L312.5 329.4 L314 327 L315.5 324.5 L317 322.1 L318.5 319.7 L320 317.3 L321.5 314.9 L323 312.5 L324.5 310.1 L326 307.8 L327.5 305.6 L329 303.4 L330.5 301.3 L332 299.4 L333.5 297.5 L335 295.7 L336.5 294 L338 292.5 L339.5 291.1 L341 289.9 L342.5 288.8 L344 287.8 L345.5 287.1 L347 286.5 L348.5 286 L350 285.8 L351.5 285.7 L353 285.8 L354.5 286.1 L356 286.5 L357.5 287.2 L359 287.9 L360.5 288.9 L362 290 L363.5 291.3 L365 292.7 L366.5 294.2 L368 295.9 L369.5 297.7 L371 299.6 L372.5 301.6 L374 303.7 L375.5 305.9 L377 308.1 L378.5 310.4 L380 312.8 L381.5 315.2 L383 317.6 L384.5 320 L386 322.4 L387.5 324.9 L389 327.3 L390.5 329.7 L392 332 L393.5 334.4 L395 336.7 L396.5 338.9 L398 341.1 L399.5 343.2 L401 345.2 L402.5 347.2 L404 349.1 L405.5 351 L407 352.7 L408.5 354.4 L410 356 L411.5 357.5 L413 359 L414.5 360.4 L416 361.6 L417.5 362.9 L419 364 L420.5 365.1 L422 366.1 L423.5 367 L425 367.9 L426.5 368.7 L428 369.4 L429.5 370.1 L431 370.7 L432.5 371.3 L434 371.8 L435.5 372.3 L437 372.8 L438.5 373.2 L440 373.6 L441.5 373.9 L443 374.2 L444.5 374.5 L446 374.7 L447.5 374.9 L449 375.1 L450.5 375.3 L452 375.5 L453.5 375.6 L455 375.7 L456.5 375.8 L458 375.9 L459.5 376 L461 376.1 L462.5 376.2 L464 376.2 L465.5 376.3 L467 376.3 L468.5 376.4 L470 376.4 L471.5 376.4 L473 376.4 L474.5 376.5 L476 376.5 L477.5 376.5 L479 376.5 L480.5 376.5 L482 376.5 L483.5 376.6 L485 376.6 L486.5 376.6 L486.5 377.8 Z" fill="url(#gR)"/>
<path d="M41 376.6 L42.5 376.6 L44 376.6 L45.5 376.6 L47 376.6 L48.5 376.6 L50 376.6 L51.5 376.6 L53 376.6 L54.5 376.6 L56 376.6 L57.5 376.6 L59 376.6 L60.5 376.6 L62 376.6 L63.5 376.6 L65 376.6 L66.5 376.6 L68 376.6 L69.5 376.6 L71 376.6 L72.5 376.6 L74 376.6 L75.5 376.6 L77 376.6 L78.5 376.6 L80 376.6 L81.5 376.6 L83 376.6 L84.5 376.6 L86 376.6 L87.5 376.6 L89 376.6 L90.5 376.6 L92 376.6 L93.5 376.6 L95 376.6 L96.5 376.6 L98 376.6 L99.5 376.6 L101 376.6 L102.5 376.6 L104 376.6 L105.5 376.6 L107 376.6 L108.5 376.6 L110 376.6 L111.5 376.6 L113 376.6 L114.5 376.6 L116 376.6 L117.5 376.6 L119 376.6 L120.5 376.6 L122 376.6 L123.5 376.6 L125 376.6 L126.5 376.6 L128 376.6 L129.5 376.6 L131 376.6 L132.5 376.6 L134 376.6 L135.5 376.6 L137 376.6 L138.5 376.6 L140 376.6 L141.5 376.6 L143 376.6 L144.5 376.6 L146 376.6 L147.5 376.6 L149 376.6 L150.5 376.6 L152 376.6 L153.5 376.6 L155 376.6 L156.5 376.6 L158 376.6 L159.5 376.6 L161 376.6 L162.5 376.6 L164 376.6 L165.5 376.6 L167 376.6 L168.5 376.6 L170 376.6 L171.5 376.6 L173 376.6 L174.5 376.6 L176 376.6 L177.5 376.6 L179 376.6 L180.5 376.6 L182 376.6 L183.5 376.6 L185 376.6 L186.5 376.5 L188 376.5 L189.5 376.5 L191 376.5 L192.5 376.5 L194 376.5 L195.5 376.5 L197 376.4 L198.5 376.4 L200 376.4 L201.5 376.3 L203 376.3 L204.5 376.3 L206 376.2 L207.5 376.2 L209 376.1 L210.5 376 L212 375.9 L213.5 375.8 L215 375.7 L216.5 375.6 L218 375.5 L219.5 375.4 L221 375.2 L222.5 375 L224 374.8 L225.5 374.6 L227 374.4 L228.5 374.1 L230 373.9 L231.5 373.6 L233 373.2 L234.5 372.9 L236 372.5 L237.5 372.1 L239 371.6 L240.5 371.1 L242 370.6 L243.5 370 L245 369.4 L246.5 368.8 L248 368.1 L249.5 367.4 L251 366.6 L252.5 365.8 L254 365 L255.5 364.1 L257 363.2 L258.5 362.2 L260 361.2 L261.5 360.1 L263 359 L264.5 357.9 L266 356.7 L267.5 355.6 L269 354.3 L270.5 353.1 L272 351.8 L273.5 350.6 L275 349.3 L276.5 348 L278 346.7 L279.5 345.3 L281 344.1 L282.5 342.8 L284 341.5 L285.5 340.3 L287 339 L288.5 337.9 L290 336.7 L291.5 335.6 L293 334.6 L294.5 333.6 L296 332.7 L297.5 331.8 L299 331 L300.5 330.3 L302 329.7 L303.5 329.2 L305 328.7 L306.5 328.3 L308 328.1 L309.5 327.9 L311 327.8 L312.5 327.8 L314 327.9 L315.5 328.1 L317 328.4 L318.5 328.8 L320 329.3 L321.5 329.8 L323 330.5 L324.5 331.2 L326 332 L327.5 332.9 L329 333.8 L330.5 334.8 L332 335.8 L333.5 336.9 L335 338.1 L336.5 339.3 L338 340.5 L339.5 341.8 L341 343 L342.5 344.3 L344 345.6 L345.5 346.9 L347 348.2 L348.5 349.5 L350 350.8 L351.5 352.1 L353 353.3 L354.5 354.6 L356 355.8 L357.5 357 L359 358.1 L360.5 359.3 L362 360.3 L363.5 361.4 L365 362.4 L366.5 363.3 L368 364.3 L369.5 365.2 L371 366 L372.5 366.8 L374 367.5 L375.5 368.3 L377 368.9 L378.5 369.6 L380 370.1 L381.5 370.7 L383 371.2 L384.5 371.7 L386 372.1 L387.5 372.6 L389 372.9 L390.5 373.3 L392 373.6 L393.5 373.9 L395 374.2 L396.5 374.4 L398 374.7 L399.5 374.9 L401 375.1 L402.5 375.2 L404 375.4 L405.5 375.5 L407 375.6 L408.5 375.8 L410 375.9 L411.5 375.9 L413 376 L414.5 376.1 L416 376.2 L417.5 376.2 L419 376.3 L420.5 376.3 L422 376.3 L423.5 376.4 L425 376.4 L426.5 376.4 L428 376.5 L429.5 376.5 L431 376.5 L432.5 376.5 L434 376.5 L435.5 376.5 L437 376.5 L438.5 376.6 L440 376.6 L441.5 376.6 L443 376.6 L444.5 376.6 L446 376.6 L447.5 376.6 L449 376.6 L450.5 376.6 L452 376.6 L453.5 376.6 L455 376.6 L456.5 376.6 L458 376.6 L459.5 376.6 L461 376.6 L462.5 376.6 L464 376.6 L465.5 376.6 L467 376.6 L468.5 376.6 L470 376.6 L471.5 376.6 L473 376.6 L474.5 376.6 L476 376.6 L477.5 376.6 L479 376.6 L480.5 376.6 L482 376.6 L483.5 376.6 L485 376.6 L486.5 376.6 L488 376.6 L489.5 376.6 L491 376.6 L492.5 376.6 L494 376.6 L495.5 376.6 L497 376.6 L498.5 376.6 L500 376.6 L501.5 376.6 L503 376.6 L504.5 376.6 L506 376.6 L507.5 376.6 L509 376.6 L510.5 376.6 L512 376.6 L513.5 376.6 L515 376.6 L516.5 376.6 L518 376.6 L519.5 376.6 L521 376.6 L522.5 376.6 L524 376.6 L525.5 376.6 L527 376.6 L528.5 376.6 L530 376.6 L531.5 376.6 L533 376.6 L534.5 376.6 L536 376.6 L537.5 376.6 L539 376.6 L540.5 376.6 L542 376.6 L543.5 376.6 L545 376.6 L546.5 376.6 L548 376.6 L549.5 376.6 L551 376.6 L552.5 376.6 L554 376.6 L555.5 376.6 L557 376.6 L558.5 376.6 L560 376.6 L561.5 376.6 L563 376.6 L564.5 376.6 L566 376.6 L567.5 376.6 L569 376.6 L570.5 376.6 L572 376.6 L573.5 376.6 L575 376.6 L576.5 376.6 L578 376.6 L579.5 376.6 L580.7 376.6" fill="none" stroke="#ff9a9a" stroke-width="2.4" stroke-linejoin="round" stroke-linecap="round"/>
<path d="M309.5 377.8 L309.5 376.6 L311 376.6 L312.5 376.6 L314 376.6 L315.5 376.5 L317 376.5 L318.5 376.5 L320 376.5 L321.5 376.5 L323 376.5 L324.5 376.5 L326 376.5 L327.5 376.4 L329 376.4 L330.5 376.4 L332 376.4 L333.5 376.3 L335 376.3 L336.5 376.3 L338 376.2 L339.5 376.2 L341 376.2 L342.5 376.1 L344 376.1 L345.5 376 L347 376 L348.5 375.9 L350 375.8 L351.5 375.8 L353 375.7 L354.5 375.6 L356 375.6 L357.5 375.5 L359 375.4 L360.5 375.3 L362 375.2 L363.5 375.1 L365 375 L366.5 374.9 L368 374.9 L369.5 374.8 L371 374.7 L372.5 374.6 L374 374.5 L375.5 374.4 L377 374.3 L378.5 374.2 L380 374.1 L381.5 374 L383 373.9 L384.5 373.8 L386 373.8 L387.5 373.7 L389 373.6 L390.5 373.6 L392 373.5 L393.5 373.5 L395 373.5 L396.5 373.4 L398 373.4 L399.5 373.4 L401 373.4 L402.5 373.4 L404 373.4 L405.5 373.4 L407 373.5 L408.5 373.5 L410 373.5 L411.5 373.6 L413 373.6 L414.5 373.7 L416 373.8 L417.5 373.8 L419 373.9 L420.5 374 L422 374.1 L423.5 374.2 L425 374.3 L426.5 374.4 L428 374.5 L429.5 374.6 L431 374.7 L432.5 374.8 L434 374.9 L435.5 374.9 L437 375 L438.5 375.1 L440 375.2 L441.5 375.3 L443 375.4 L444.5 375.5 L446 375.6 L447.5 375.6 L449 375.7 L450.5 375.8 L452 375.8 L453.5 375.9 L455 376 L456.5 376 L458 376.1 L459.5 376.1 L461 376.2 L462.5 376.2 L464 376.2 L465.5 376.3 L467 376.3 L468.5 376.3 L470 376.4 L471.5 376.4 L473 376.4 L474.5 376.4 L476 376.5 L477.5 376.5 L479 376.5 L480.5 376.5 L482 376.5 L483.5 376.5 L485 376.5 L486.5 376.5 L488 376.6 L489.5 376.6 L491 376.6 L492.5 376.6 L492.5 377.8 Z" fill="url(#gB)"/>
<path d="M41 377.3 L45.5 377.1 L50 378.7 L54.5 377.4 L59 379.2 L63.5 377 L68 376.2 L72.5 377.3 L77 378.6 L81.5 378.3 L86 377.8 L90.5 374.9 L95 375 L99.5 375.1 L104 375.3 L108.5 376.7 L113 376.2 L117.5 377.3 L122 377 L126.5 376.3 L131 376.5 L135.5 376.9 L140 377.6 L144.5 376.3 L149 375.9 L153.5 374.4 L158 377.2 L162.5 378.2 L167 376.5 L171.5 375 L176 373 L180.5 373.2 L185 372.6 L189.5 374 L194 371.4 L198.5 368.1 L203 363.5 L207.5 365.1 L212 363.2 L216.5 358.8 L221 357.6 L225.5 353.4 L230 356.1 L234.5 352.9 L239 349.1 L243.5 344.7 L248 338 L252.5 334.7 L257 328.4 L261.5 324.8 L266 316.4 L270.5 310.4 L275 306.3 L279.5 301.1 L284 291.4 L288.5 282.7 L293 277.8 L297.5 271.8 L302 263.3 L306.5 256.3 L311 249.9 L315.5 243.7 L320 239.4 L324.5 238.4 L329 236.7 L333.5 237.7 L338 236.3 L342.5 237 L347 238.2 L351.5 242.2 L356 245.7 L360.5 250.5 L365 260.1 L369.5 270.2 L374 279.2 L378.5 289.3 L383 298 L387.5 306 L392 315.5 L396.5 323.9 L401 331.2 L405.5 337.8 L410 344.5 L414.5 352.3 L419 358.3 L423.5 362.2 L428 367.6 L432.5 369.7 L437 372 L441.5 374.4 L446 373.4 L450.5 371.8 L455 374.5 L459.5 374.1 L464 376.4 L468.5 376.4 L473 377.2 L477.5 377.2 L482 373.9 L486.5 375.7 L491 374.8 L495.5 374.3 L500 374.4 L504.5 375.9 L509 376.8 L513.5 377.3 L518 374.3 L522.5 374.3 L527 372.1 L531.5 373.8 L536 375.5 L540.5 374.6 L545 375.4 L549.5 375.7 L554 376.8 L558.5 375.1 L563 374.3 L567.5 374.1 L572 377 L576.5 377.5 L580.7 376.2" fill="none" stroke="#c4c4c4" stroke-width="3" stroke-linejoin="round" stroke-linecap="round"/>
<path d="M41 376.6 L42.5 376.6 L44 376.6 L45.5 376.6 L47 376.6 L48.5 376.6 L50 376.6 L51.5 376.6 L53 376.6 L54.5 376.6 L56 376.6 L57.5 376.6 L59 376.6 L60.5 376.6 L62 376.6 L63.5 376.6 L65 376.6 L66.5 376.6 L68 376.6 L69.5 376.6 L71 376.6 L72.5 376.6 L74 376.6 L75.5 376.6 L77 376.6 L78.5 376.6 L80 376.6 L81.5 376.6 L83 376.6 L84.5 376.6 L86 376.6 L87.5 376.6 L89 376.6 L90.5 376.6 L92 376.6 L93.5 376.6 L95 376.6 L96.5 376.6 L98 376.6 L99.5 376.6 L101 376.6 L102.5 376.6 L104 376.6 L105.5 376.6 L107 376.6 L108.5 376.6 L110 376.6 L111.5 376.6 L113 376.6 L114.5 376.5 L116 376.5 L117.5 376.5 L119 376.5 L120.5 376.5 L122 376.5 L123.5 376.5 L125 376.5 L126.5 376.5 L128 376.5 L129.5 376.5 L131 376.4 L132.5 376.4 L134 376.4 L135.5 376.4 L137 376.4 L138.5 376.4 L140 376.4 L141.5 376.3 L143 376.3 L144.5 376.3 L146 376.3 L147.5 376.2 L149 376.2 L150.5 376.2 L152 376.2 L153.5 376.1 L155 376.1 L156.5 376.1 L158 376.1 L159.5 376 L161 376 L162.5 375.9 L164 375.8 L165.5 375.8 L167 375.7 L168.5 375.5 L170 375.4 L171.5 375.2 L173 375 L174.5 374.8 L176 374.6 L177.5 374.3 L179 374 L180.5 373.7 L182 373.3 L183.5 373 L185 372.6 L186.5 372.2 L188 371.8 L189.5 371.3 L191 370.9 L192.5 370.4 L194 369.9 L195.5 369.4 L197 368.9 L198.5 368.3 L200 367.8 L201.5 367.2 L203 366.6 L204.5 366 L206 365.4 L207.5 364.8 L209 364.1 L210.5 363.5 L212 362.8 L213.5 362.1 L215 361.4 L216.5 360.6 L218 359.8 L219.5 359 L221 358.2 L222.5 357.4 L224 356.5 L225.5 355.6 L227 354.7 L228.5 353.8 L230 352.9 L231.5 352 L233 351.1 L234.5 350.1 L236 349.2 L237.5 348.2 L239 347.2 L240.5 346.2 L242 345.1 L243.5 344 L245 342.8 L246.5 341.6 L248 340.3 L249.5 338.9 L251 337.4 L252.5 335.8 L254 334.2 L255.5 332.6 L257 330.8 L258.5 329 L260 327.1 L261.5 325.2 L263 323.2 L264.5 321.2 L266 319.1 L267.5 317 L269 314.9 L270.5 312.7 L272 310.5 L273.5 308.2 L275 305.9 L276.5 303.6 L278 301.3 L279.5 298.9 L281 296.6 L282.5 294.2 L284 291.9 L285.5 289.5 L287 287.1 L288.5 284.7 L290 282.4 L291.5 280 L293 277.7 L294.5 275.4 L296 273 L297.5 270.8 L299 268.5 L300.5 266.2 L302 264 L303.5 261.8 L305 259.6 L306.5 257.4 L308 255.3 L309.5 253.3 L311 251.3 L312.5 249.4 L314 247.5 L315.5 245.8 L317 244.1 L318.5 242.6 L320 241.2 L321.5 239.9 L323 238.7 L324.5 237.7 L326 236.8 L327.5 236.1 L329 235.5 L330.5 235.1 L332 234.8 L333.5 234.7 L335 234.7 L336.5 234.8 L338 235.1 L339.5 235.5 L341 236 L342.5 236.6 L344 237.3 L345.5 238.2 L347 239.2 L348.5 240.2 L350 241.4 L351.5 242.8 L353 244.2 L354.5 245.8 L356 247.5 L357.5 249.4 L359 251.4 L360.5 253.5 L362 255.7 L363.5 258.1 L365 260.6 L366.5 263.2 L368 265.9 L369.5 268.7 L371 271.5 L372.5 274.5 L374 277.5 L375.5 280.6 L377 283.7 L378.5 286.9 L380 290.2 L381.5 293.4 L383 296.6 L384.5 299.9 L386 303.1 L387.5 306.3 L389 309.4 L390.5 312.5 L392 315.6 L393.5 318.5 L395 321.5 L396.5 324.4 L398 327.2 L399.5 330 L401 332.7 L402.5 335.4 L404 338 L405.5 340.5 L407 342.9 L408.5 345.3 L410 347.5 L411.5 349.7 L413 351.7 L414.5 353.7 L416 355.5 L417.5 357.2 L419 358.8 L420.5 360.2 L422 361.6 L423.5 362.9 L425 364.1 L426.5 365.2 L428 366.3 L429.5 367.2 L431 368.1 L432.5 368.9 L434 369.6 L435.5 370.3 L437 371 L438.5 371.5 L440 372 L441.5 372.5 L443 372.9 L444.5 373.2 L446 373.5 L447.5 373.8 L449 374 L450.5 374.2 L452 374.4 L453.5 374.6 L455 374.7 L456.5 374.8 L458 374.9 L459.5 375 L461 375.1 L462.5 375.2 L464 375.3 L465.5 375.3 L467 375.4 L468.5 375.4 L470 375.5 L471.5 375.5 L473 375.5 L474.5 375.6 L476 375.6 L477.5 375.6 L479 375.6 L480.5 375.6 L482 375.6 L483.5 375.6 L485 375.6 L486.5 375.6 L488 375.6 L489.5 375.6 L491 375.6 L492.5 375.6 L494 375.6 L495.5 375.5 L497 375.5 L498.5 375.5 L500 375.5 L501.5 375.5 L503 375.5 L504.5 375.5 L506 375.5 L507.5 375.5 L509 375.5 L510.5 375.5 L512 375.5 L513.5 375.5 L515 375.5 L516.5 375.5 L518 375.5 L519.5 375.5 L521 375.5 L522.5 375.5 L524 375.5 L525.5 375.5 L527 375.5 L528.5 375.5 L530 375.5 L531.5 375.5 L533 375.5 L534.5 375.5 L536 375.5 L537.5 375.5 L539 375.5 L540.5 375.5 L542 375.5 L543.5 375.5 L545 375.5 L546.5 375.5 L548 375.5 L549.5 375.5 L551 375.5 L552.5 375.5 L554 375.5 L555.5 375.5 L557 375.5 L558.5 375.5 L560 375.5 L561.5 375.5 L563 375.5 L564.5 375.5 L566 375.5 L567.5 375.5 L569 375.5 L570.5 375.5 L572 375.5 L573.5 375.5 L575 375.5 L576.5 375.5 L578 375.5 L579.5 375.5 L580.7 375.5" fill="none" stroke="#000080" stroke-width="2.8" stroke-linejoin="round" stroke-linecap="butt" stroke-dasharray="6.2 4.4"/>
<path d="M41 376.6 L42.5 376.6 L44 376.6 L45.5 376.6 L47 376.6 L48.5 376.6 L50 376.6 L51.5 376.6 L53 376.6 L54.5 376.6 L56 376.6 L57.5 376.6 L59 376.6 L60.5 376.6 L62 376.6 L63.5 376.6 L65 376.6 L66.5 376.6 L68 376.6 L69.5 376.6 L71 376.6 L72.5 376.6 L74 376.6 L75.5 376.6 L77 376.6 L78.5 376.6 L80 376.6 L81.5 376.6 L83 376.6 L84.5 376.6 L86 376.6 L87.5 376.6 L89 376.6 L90.5 376.6 L92 376.6 L93.5 376.6 L95 376.6 L96.5 376.6 L98 376.6 L99.5 376.6 L101 376.6 L102.5 376.6 L104 376.6 L105.5 376.6 L107 376.6 L108.5 376.6 L110 376.6 L111.5 376.6 L113 376.6 L114.5 376.6 L116 376.6 L117.5 376.6 L119 376.6 L120.5 376.6 L122 376.6 L123.5 376.6 L125 376.6 L126.5 376.6 L128 376.6 L129.5 376.6 L131 376.6 L132.5 376.6 L134 376.6 L135.5 376.6 L137 376.6 L138.5 376.6 L140 376.6 L141.5 376.6 L143 376.6 L144.5 376.6 L146 376.6 L147.5 376.6 L149 376.6 L150.5 376.6 L152 376.6 L153.5 376.6 L155 376.6 L156.5 376.6 L158 376.6 L159.5 376.6 L161 376.6 L162.5 376.6 L164 376.6 L165.5 376.6 L167 376.6 L168.5 376.6 L170 376.6 L171.5 376.6 L173 376.6 L174.5 376.6 L176 376.6 L177.5 376.6 L179 376.6 L180.5 376.6 L182 376.6 L183.5 376.6 L185 376.6 L186.5 376.6 L188 376.6 L189.5 376.6 L191 376.6 L192.5 376.6 L194 376.6 L195.5 376.6 L197 376.6 L198.5 376.6 L200 376.6 L201.5 376.6 L203 376.6 L204.5 376.6 L206 376.6 L207.5 376.6 L209 376.6 L210.5 376.6 L212 376.6 L213.5 376.6 L215 376.6 L216.5 376.6 L218 376.6 L219.5 376.6 L221 376.6 L222.5 376.6 L224 376.6 L225.5 376.6 L227 376.6 L228.5 376.6 L230 376.6 L231.5 376.6 L233 376.6 L234.5 376.6 L236 376.6 L237.5 376.6 L239 376.6 L240.5 376.6 L242 376.6 L243.5 376.6 L245 376.6 L246.5 376.6 L248 376.6 L249.5 376.6 L251 376.6 L252.5 376.6 L254 376.6 L255.5 376.6 L257 376.6 L258.5 376.6 L260 376.6 L261.5 376.6 L263 376.6 L264.5 376.6 L266 376.6 L267.5 376.6 L269 376.6 L270.5 376.6 L272 376.6 L273.5 376.5 L275 376.5 L276.5 376.5 L278 376.5 L279.5 376.5 L281 376.5 L282.5 376.5 L284 376.5 L285.5 376.4 L287 376.4 L288.5 376.4 L290 376.4 L291.5 376.3 L293 376.3 L294.5 376.3 L296 376.3 L297.5 376.2 L299 376.2 L300.5 376.1 L302 376.1 L303.5 376 L305 376 L306.5 375.9 L308 375.8 L309.5 375.8 L311 375.7 L312.5 375.6 L314 375.6 L315.5 375.5 L317 375.4 L318.5 375.3 L320 375.2 L321.5 375.1 L323 375 L324.5 374.9 L326 374.8 L327.5 374.7 L329 374.6 L330.5 374.5 L332 374.4 L333.5 374.3 L335 374.2 L336.5 374.1 L338 374 L339.5 373.9 L341 373.8 L342.5 373.7 L344 373.7 L345.5 373.6 L347 373.5 L348.5 373.4 L350 373.4 L351.5 373.3 L353 373.3 L354.5 373.3 L356 373.2 L357.5 373.2 L359 373.2 L360.5 373.2 L362 373.2 L363.5 373.2 L365 373.2 L366.5 373.3 L368 373.3 L369.5 373.4 L371 373.4 L372.5 373.5 L374 373.6 L375.5 373.6 L377 373.7 L378.5 373.8 L380 373.9 L381.5 374 L383 374.1 L384.5 374.2 L386 374.3 L387.5 374.4 L389 374.5 L390.5 374.6 L392 374.7 L393.5 374.8 L395 374.9 L396.5 375 L398 375.1 L399.5 375.2 L401 375.3 L402.5 375.4 L404 375.4 L405.5 375.5 L407 375.6 L408.5 375.7 L410 375.8 L411.5 375.8 L413 375.9 L414.5 375.9 L416 376 L417.5 376.1 L419 376.1 L420.5 376.2 L422 376.2 L423.5 376.2 L425 376.3 L426.5 376.3 L428 376.3 L429.5 376.4 L431 376.4 L432.5 376.4 L434 376.4 L435.5 376.5 L437 376.5 L438.5 376.5 L440 376.5 L441.5 376.5 L443 376.5 L444.5 376.5 L446 376.5 L447.5 376.6 L449 376.6 L450.5 376.6 L452 376.6 L453.5 376.6 L455 376.6 L456.5 376.6 L458 376.6 L459.5 376.6 L461 376.6 L462.5 376.6 L464 376.6 L465.5 376.6 L467 376.6 L468.5 376.6 L470 376.6 L471.5 376.6 L473 376.6 L474.5 376.6 L476 376.6 L477.5 376.6 L479 376.6 L480.5 376.6 L482 376.6 L483.5 376.6 L485 376.6 L486.5 376.6 L488 376.6 L489.5 376.6 L491 376.6 L492.5 376.6 L494 376.6 L495.5 376.6 L497 376.6 L498.5 376.6 L500 376.6 L501.5 376.6 L503 376.6 L504.5 376.6 L506 376.6 L507.5 376.6 L509 376.6 L510.5 376.6 L512 376.6 L513.5 376.6 L515 376.6 L516.5 376.6 L518 376.6 L519.5 376.6 L521 376.6 L522.5 376.6 L524 376.6 L525.5 376.6 L527 376.6 L528.5 376.6 L530 376.6 L531.5 376.6 L533 376.6 L534.5 376.6 L536 376.6 L537.5 376.6 L539 376.6 L540.5 376.6 L542 376.6 L543.5 376.6 L545 376.6 L546.5 376.6 L548 376.6 L549.5 376.6 L551 376.6 L552.5 376.6 L554 376.6 L555.5 376.6 L557 376.6 L558.5 376.6 L560 376.6 L561.5 376.6 L563 376.6 L564.5 376.6 L566 376.6 L567.5 376.6 L569 376.6 L570.5 376.6 L572 376.6 L573.5 376.6 L575 376.6 L576.5 376.6 L578 376.6 L579.5 376.6 L580.7 376.6" fill="none" stroke="#14a0ff" stroke-width="2.8" stroke-linejoin="round" stroke-linecap="round"/>
<path d="M186.5 524.7 L186.5 523.5 L188 523.5 L189.5 523.4 L191 523.4 L192.5 523.4 L194 523.4 L195.5 523.4 L197 523.4 L198.5 523.3 L200 523.3 L201.5 523.3 L203 523.2 L204.5 523.2 L206 523.1 L207.5 523.1 L209 523 L210.5 522.9 L212 522.8 L213.5 522.7 L215 522.5 L216.5 522.4 L218 522.2 L219.5 522 L221 521.8 L222.5 521.6 L224 521.3 L225.5 521 L227 520.7 L228.5 520.3 L230 519.9 L231.5 519.4 L233 518.9 L234.5 518.4 L236 517.8 L237.5 517.2 L239 516.5 L240.5 515.8 L242 515 L243.5 514.2 L245 513.3 L246.5 512.4 L248 511.4 L249.5 510.3 L251 509.2 L252.5 508.1 L254 506.9 L255.5 505.7 L257 504.5 L258.5 503.2 L260 501.9 L261.5 500.6 L263 499.3 L264.5 497.9 L266 496.6 L267.5 495.3 L269 494 L270.5 492.7 L272 491.5 L273.5 490.3 L275 489.2 L276.5 488.1 L278 487.1 L279.5 486.2 L281 485.4 L282.5 484.7 L284 484 L285.5 483.5 L287 483.1 L288.5 482.8 L290 482.6 L291.5 482.5 L293 482.5 L294.5 482.7 L296 483 L297.5 483.4 L299 483.9 L300.5 484.5 L302 485.2 L303.5 486 L305 486.9 L306.5 487.8 L308 488.9 L309.5 490 L311 491.2 L312.5 492.4 L314 493.6 L315.5 494.9 L317 496.2 L318.5 497.6 L320 498.9 L321.5 500.2 L323 501.5 L324.5 502.9 L326 504.1 L327.5 505.4 L329 506.6 L330.5 507.8 L332 508.9 L333.5 510 L335 511.1 L336.5 512.1 L338 513.1 L339.5 514 L341 514.8 L342.5 515.6 L344 516.3 L345.5 517 L347 517.7 L348.5 518.3 L350 518.8 L351.5 519.3 L353 519.8 L354.5 520.2 L356 520.6 L357.5 520.9 L359 521.2 L360.5 521.5 L362 521.7 L363.5 522 L365 522.2 L366.5 522.3 L368 522.5 L369.5 522.6 L371 522.8 L372.5 522.9 L374 523 L375.5 523 L377 523.1 L378.5 523.2 L380 523.2 L381.5 523.3 L383 523.3 L384.5 523.3 L386 523.4 L387.5 523.4 L389 523.4 L390.5 523.4 L392 523.4 L393.5 523.4 L395 523.5 L396.5 523.5 L398 523.5 L398 524.7 Z" fill="url(#gM)"/>
<path d="M41 523.5 L42.5 523.5 L44 523.5 L45.5 523.5 L47 523.5 L48.5 523.5 L50 523.5 L51.5 523.5 L53 523.5 L54.5 523.5 L56 523.5 L57.5 523.5 L59 523.5 L60.5 523.5 L62 523.5 L63.5 523.5 L65 523.5 L66.5 523.5 L68 523.5 L69.5 523.5 L71 523.5 L72.5 523.5 L74 523.5 L75.5 523.5 L77 523.5 L78.5 523.5 L80 523.5 L81.5 523.5 L83 523.5 L84.5 523.5 L86 523.5 L87.5 523.5 L89 523.5 L90.5 523.5 L92 523.5 L93.5 523.5 L95 523.5 L96.5 523.5 L98 523.5 L99.5 523.5 L101 523.5 L102.5 523.5 L104 523.5 L105.5 523.5 L107 523.5 L108.5 523.5 L110 523.5 L111.5 523.5 L113 523.5 L114.5 523.5 L116 523.5 L117.5 523.5 L119 523.5 L120.5 523.5 L122 523.5 L123.5 523.5 L125 523.5 L126.5 523.5 L128 523.5 L129.5 523.5 L131 523.5 L132.5 523.5 L134 523.5 L135.5 523.5 L137 523.5 L138.5 523.5 L140 523.5 L141.5 523.5 L143 523.5 L144.5 523.5 L146 523.5 L147.5 523.5 L149 523.5 L150.5 523.5 L152 523.5 L153.5 523.5 L155 523.5 L156.5 523.4 L158 523.4 L159.5 523.4 L161 523.4 L162.5 523.4 L164 523.4 L165.5 523.3 L167 523.3 L168.5 523.3 L170 523.2 L171.5 523.2 L173 523.1 L174.5 523.1 L176 523 L177.5 522.9 L179 522.9 L180.5 522.8 L182 522.7 L183.5 522.5 L185 522.4 L186.5 522.3 L188 522.1 L189.5 521.9 L191 521.7 L192.5 521.5 L194 521.3 L195.5 521 L197 520.7 L198.5 520.4 L200 520.1 L201.5 519.7 L203 519.4 L204.5 519 L206 518.5 L207.5 518.1 L209 517.6 L210.5 517.1 L212 516.6 L213.5 516.1 L215 515.5 L216.5 514.9 L218 514.4 L219.5 513.8 L221 513.2 L222.5 512.5 L224 511.9 L225.5 511.3 L227 510.7 L228.5 510.1 L230 509.5 L231.5 508.9 L233 508.3 L234.5 507.8 L236 507.3 L237.5 506.8 L239 506.4 L240.5 505.9 L242 505.6 L243.5 505.3 L245 505 L246.5 504.8 L248 504.6 L249.5 504.5 L251 504.4 L252.5 504.4 L254 504.4 L255.5 504.5 L257 504.7 L258.5 504.9 L260 505.2 L261.5 505.5 L263 505.8 L264.5 506.2 L266 506.6 L267.5 507.1 L269 507.6 L270.5 508.1 L272 508.7 L273.5 509.3 L275 509.9 L276.5 510.5 L278 511.1 L279.5 511.7 L281 512.3 L282.5 512.9 L284 513.6 L285.5 514.2 L287 514.8 L288.5 515.3 L290 515.9 L291.5 516.4 L293 517 L294.5 517.5 L296 517.9 L297.5 518.4 L299 518.8 L300.5 519.2 L302 519.6 L303.5 520 L305 520.3 L306.5 520.6 L308 520.9 L309.5 521.2 L311 521.4 L312.5 521.6 L314 521.9 L315.5 522 L317 522.2 L318.5 522.4 L320 522.5 L321.5 522.6 L323 522.7 L324.5 522.8 L326 522.9 L327.5 523 L329 523.1 L330.5 523.1 L332 523.2 L333.5 523.2 L335 523.3 L336.5 523.3 L338 523.3 L339.5 523.4 L341 523.4 L342.5 523.4 L344 523.4 L345.5 523.4 L347 523.4 L348.5 523.4 L350 523.5 L351.5 523.5 L353 523.5 L354.5 523.5 L356 523.5 L357.5 523.5 L359 523.5 L360.5 523.5 L362 523.5 L363.5 523.5 L365 523.5 L366.5 523.5 L368 523.5 L369.5 523.5 L371 523.5 L372.5 523.5 L374 523.5 L375.5 523.5 L377 523.5 L378.5 523.5 L380 523.5 L381.5 523.5 L383 523.5 L384.5 523.5 L386 523.5 L387.5 523.5 L389 523.5 L390.5 523.5 L392 523.5 L393.5 523.5 L395 523.5 L396.5 523.5 L398 523.5 L399.5 523.5 L401 523.5 L402.5 523.5 L404 523.5 L405.5 523.5 L407 523.5 L408.5 523.5 L410 523.5 L411.5 523.5 L413 523.5 L414.5 523.5 L416 523.5 L417.5 523.5 L419 523.5 L420.5 523.5 L422 523.5 L423.5 523.5 L425 523.5 L426.5 523.5 L428 523.5 L429.5 523.5 L431 523.5 L432.5 523.5 L434 523.5 L435.5 523.5 L437 523.5 L438.5 523.5 L440 523.5 L441.5 523.5 L443 523.5 L444.5 523.5 L446 523.5 L447.5 523.5 L449 523.5 L450.5 523.5 L452 523.5 L453.5 523.5 L455 523.5 L456.5 523.5 L458 523.5 L459.5 523.5 L461 523.5 L462.5 523.5 L464 523.5 L465.5 523.5 L467 523.5 L468.5 523.5 L470 523.5 L471.5 523.5 L473 523.5 L474.5 523.5 L476 523.5 L477.5 523.5 L479 523.5 L480.5 523.5 L482 523.5 L483.5 523.5 L485 523.5 L486.5 523.5 L488 523.5 L489.5 523.5 L491 523.5 L492.5 523.5 L494 523.5 L495.5 523.5 L497 523.5 L498.5 523.5 L500 523.5 L501.5 523.5 L503 523.5 L504.5 523.5 L506 523.5 L507.5 523.5 L509 523.5 L510.5 523.5 L512 523.5 L513.5 523.5 L515 523.5 L516.5 523.5 L518 523.5 L519.5 523.5 L521 523.5 L522.5 523.5 L524 523.5 L525.5 523.5 L527 523.5 L528.5 523.5 L530 523.5 L531.5 523.5 L533 523.5 L534.5 523.5 L536 523.5 L537.5 523.5 L539 523.5 L540.5 523.5 L542 523.5 L543.5 523.5 L545 523.5 L546.5 523.5 L548 523.5 L549.5 523.5 L551 523.5 L552.5 523.5 L554 523.5 L555.5 523.5 L557 523.5 L558.5 523.5 L560 523.5 L561.5 523.5 L563 523.5 L564.5 523.5 L566 523.5 L567.5 523.5 L569 523.5 L570.5 523.5 L572 523.5 L573.5 523.5 L575 523.5 L576.5 523.5 L578 523.5 L579.5 523.5 L580.7 523.5" fill="none" stroke="#00dc00" stroke-width="2.6" stroke-linejoin="round" stroke-linecap="round"/>
<path d="M233 524.7 L233 523.5 L234.5 523.5 L236 523.5 L237.5 523.4 L239 523.4 L240.5 523.4 L242 523.4 L243.5 523.4 L245 523.4 L246.5 523.3 L248 523.3 L249.5 523.3 L251 523.2 L252.5 523.2 L254 523.1 L255.5 523 L257 522.9 L258.5 522.8 L260 522.7 L261.5 522.6 L263 522.5 L264.5 522.3 L266 522.1 L267.5 521.9 L269 521.6 L270.5 521.4 L272 521.1 L273.5 520.7 L275 520.3 L276.5 519.9 L278 519.4 L279.5 518.8 L281 518.2 L282.5 517.6 L284 516.9 L285.5 516.1 L287 515.2 L288.5 514.2 L290 513.2 L291.5 512.1 L293 510.9 L294.5 509.6 L296 508.2 L297.5 506.7 L299 505.1 L300.5 503.4 L302 501.6 L303.5 499.7 L305 497.8 L306.5 495.7 L308 493.5 L309.5 491.3 L311 488.9 L312.5 486.5 L314 484 L315.5 481.5 L317 478.9 L318.5 476.3 L320 473.6 L321.5 471 L323 468.3 L324.5 465.6 L326 463 L327.5 460.4 L329 457.9 L330.5 455.4 L332 453.1 L333.5 450.8 L335 448.6 L336.5 446.6 L338 444.7 L339.5 443 L341 441.5 L342.5 440.1 L344 439 L345.5 438 L347 437.3 L348.5 436.7 L350 436.4 L351.5 436.3 L353 436.4 L354.5 436.8 L356 437.3 L357.5 438.1 L359 439.1 L360.5 440.3 L362 441.7 L363.5 443.2 L365 445 L366.5 446.9 L368 448.9 L369.5 451.1 L371 453.4 L372.5 455.7 L374 458.2 L375.5 460.8 L377 463.4 L378.5 466 L380 468.7 L381.5 471.3 L383 474 L384.5 476.6 L386 479.3 L387.5 481.8 L389 484.4 L390.5 486.8 L392 489.2 L393.5 491.6 L395 493.8 L396.5 496 L398 498 L399.5 500 L401 501.9 L402.5 503.7 L404 505.3 L405.5 506.9 L407 508.4 L408.5 509.8 L410 511.1 L411.5 512.2 L413 513.4 L414.5 514.4 L416 515.3 L417.5 516.2 L419 517 L420.5 517.7 L422 518.3 L423.5 518.9 L425 519.5 L426.5 519.9 L428 520.4 L429.5 520.8 L431 521.1 L432.5 521.4 L434 521.7 L435.5 521.9 L437 522.1 L438.5 522.3 L440 522.5 L441.5 522.6 L443 522.8 L444.5 522.9 L446 523 L447.5 523 L449 523.1 L450.5 523.2 L452 523.2 L453.5 523.3 L455 523.3 L456.5 523.3 L458 523.4 L459.5 523.4 L461 523.4 L462.5 523.4 L464 523.4 L465.5 523.4 L467 523.5 L468.5 523.5 L470 523.5 L470 524.7 Z" fill="url(#gR)"/>
<path d="M41 523.5 L42.5 523.5 L44 523.5 L45.5 523.5 L47 523.5 L48.5 523.5 L50 523.5 L51.5 523.5 L53 523.5 L54.5 523.5 L56 523.5 L57.5 523.5 L59 523.5 L60.5 523.5 L62 523.5 L63.5 523.5 L65 523.5 L66.5 523.5 L68 523.5 L69.5 523.5 L71 523.5 L72.5 523.5 L74 523.5 L75.5 523.5 L77 523.5 L78.5 523.5 L80 523.5 L81.5 523.5 L83 523.5 L84.5 523.5 L86 523.5 L87.5 523.5 L89 523.5 L90.5 523.5 L92 523.5 L93.5 523.5 L95 523.5 L96.5 523.5 L98 523.5 L99.5 523.5 L101 523.5 L102.5 523.5 L104 523.5 L105.5 523.5 L107 523.5 L108.5 523.5 L110 523.5 L111.5 523.5 L113 523.5 L114.5 523.5 L116 523.5 L117.5 523.5 L119 523.5 L120.5 523.5 L122 523.5 L123.5 523.5 L125 523.5 L126.5 523.5 L128 523.5 L129.5 523.5 L131 523.5 L132.5 523.5 L134 523.5 L135.5 523.5 L137 523.5 L138.5 523.5 L140 523.5 L141.5 523.5 L143 523.5 L144.5 523.5 L146 523.5 L147.5 523.5 L149 523.5 L150.5 523.5 L152 523.5 L153.5 523.5 L155 523.5 L156.5 523.5 L158 523.5 L159.5 523.5 L161 523.5 L162.5 523.5 L164 523.5 L165.5 523.5 L167 523.5 L168.5 523.5 L170 523.5 L171.5 523.5 L173 523.5 L174.5 523.5 L176 523.5 L177.5 523.5 L179 523.5 L180.5 523.5 L182 523.5 L183.5 523.5 L185 523.5 L186.5 523.5 L188 523.5 L189.5 523.5 L191 523.5 L192.5 523.5 L194 523.5 L195.5 523.5 L197 523.5 L198.5 523.5 L200 523.5 L201.5 523.5 L203 523.5 L204.5 523.4 L206 523.4 L207.5 523.4 L209 523.4 L210.5 523.4 L212 523.4 L213.5 523.3 L215 523.3 L216.5 523.3 L218 523.2 L219.5 523.2 L221 523.1 L222.5 523.1 L224 523 L225.5 522.9 L227 522.8 L228.5 522.7 L230 522.6 L231.5 522.5 L233 522.3 L234.5 522.1 L236 522 L237.5 521.7 L239 521.5 L240.5 521.2 L242 521 L243.5 520.6 L245 520.3 L246.5 519.9 L248 519.5 L249.5 519 L251 518.5 L252.5 517.9 L254 517.3 L255.5 516.7 L257 516 L258.5 515.3 L260 514.5 L261.5 513.6 L263 512.7 L264.5 511.8 L266 510.8 L267.5 509.8 L269 508.7 L270.5 507.6 L272 506.4 L273.5 505.2 L275 503.9 L276.5 502.6 L278 501.3 L279.5 500 L281 498.7 L282.5 497.3 L284 495.9 L285.5 494.6 L287 493.2 L288.5 491.9 L290 490.6 L291.5 489.3 L293 488.1 L294.5 486.9 L296 485.8 L297.5 484.8 L299 483.8 L300.5 482.9 L302 482 L303.5 481.3 L305 480.7 L306.5 480.2 L308 479.7 L309.5 479.4 L311 479.2 L312.5 479.1 L314 479.1 L315.5 479.3 L317 479.5 L318.5 479.9 L320 480.3 L321.5 480.9 L323 481.5 L324.5 482.3 L326 483.2 L327.5 484.1 L329 485.1 L330.5 486.2 L332 487.3 L333.5 488.5 L335 489.8 L336.5 491 L338 492.3 L339.5 493.7 L341 495 L342.5 496.4 L344 497.7 L345.5 499.1 L347 500.4 L348.5 501.8 L350 503.1 L351.5 504.3 L353 505.6 L354.5 506.8 L356 507.9 L357.5 509 L359 510.1 L360.5 511.1 L362 512.1 L363.5 513 L365 513.9 L366.5 514.7 L368 515.5 L369.5 516.2 L371 516.9 L372.5 517.5 L374 518.1 L375.5 518.6 L377 519.1 L378.5 519.6 L380 520 L381.5 520.4 L383 520.7 L384.5 521.1 L386 521.3 L387.5 521.6 L389 521.8 L390.5 522 L392 522.2 L393.5 522.4 L395 522.5 L396.5 522.6 L398 522.8 L399.5 522.9 L401 522.9 L402.5 523 L404 523.1 L405.5 523.2 L407 523.2 L408.5 523.2 L410 523.3 L411.5 523.3 L413 523.3 L414.5 523.4 L416 523.4 L417.5 523.4 L419 523.4 L420.5 523.4 L422 523.4 L423.5 523.5 L425 523.5 L426.5 523.5 L428 523.5 L429.5 523.5 L431 523.5 L432.5 523.5 L434 523.5 L435.5 523.5 L437 523.5 L438.5 523.5 L440 523.5 L441.5 523.5 L443 523.5 L444.5 523.5 L446 523.5 L447.5 523.5 L449 523.5 L450.5 523.5 L452 523.5 L453.5 523.5 L455 523.5 L456.5 523.5 L458 523.5 L459.5 523.5 L461 523.5 L462.5 523.5 L464 523.5 L465.5 523.5 L467 523.5 L468.5 523.5 L470 523.5 L471.5 523.5 L473 523.5 L474.5 523.5 L476 523.5 L477.5 523.5 L479 523.5 L480.5 523.5 L482 523.5 L483.5 523.5 L485 523.5 L486.5 523.5 L488 523.5 L489.5 523.5 L491 523.5 L492.5 523.5 L494 523.5 L495.5 523.5 L497 523.5 L498.5 523.5 L500 523.5 L501.5 523.5 L503 523.5 L504.5 523.5 L506 523.5 L507.5 523.5 L509 523.5 L510.5 523.5 L512 523.5 L513.5 523.5 L515 523.5 L516.5 523.5 L518 523.5 L519.5 523.5 L521 523.5 L522.5 523.5 L524 523.5 L525.5 523.5 L527 523.5 L528.5 523.5 L530 523.5 L531.5 523.5 L533 523.5 L534.5 523.5 L536 523.5 L537.5 523.5 L539 523.5 L540.5 523.5 L542 523.5 L543.5 523.5 L545 523.5 L546.5 523.5 L548 523.5 L549.5 523.5 L551 523.5 L552.5 523.5 L554 523.5 L555.5 523.5 L557 523.5 L558.5 523.5 L560 523.5 L561.5 523.5 L563 523.5 L564.5 523.5 L566 523.5 L567.5 523.5 L569 523.5 L570.5 523.5 L572 523.5 L573.5 523.5 L575 523.5 L576.5 523.5 L578 523.5 L579.5 523.5 L580.7 523.5" fill="none" stroke="#ff9a9a" stroke-width="2.4" stroke-linejoin="round" stroke-linecap="round"/>
<path d="M275 524.7 L275 523.5 L276.5 523.5 L278 523.5 L279.5 523.5 L281 523.4 L282.5 523.4 L284 523.4 L285.5 523.4 L287 523.4 L288.5 523.4 L290 523.4 L291.5 523.4 L293 523.3 L294.5 523.3 L296 523.3 L297.5 523.3 L299 523.2 L300.5 523.2 L302 523.2 L303.5 523.1 L305 523.1 L306.5 523 L308 523 L309.5 522.9 L311 522.8 L312.5 522.8 L314 522.7 L315.5 522.6 L317 522.5 L318.5 522.4 L320 522.3 L321.5 522.2 L323 522 L324.5 521.9 L326 521.8 L327.5 521.6 L329 521.4 L330.5 521.2 L332 521.1 L333.5 520.9 L335 520.6 L336.5 520.4 L338 520.2 L339.5 519.9 L341 519.7 L342.5 519.4 L344 519.1 L345.5 518.8 L347 518.5 L348.5 518.2 L350 517.9 L351.5 517.6 L353 517.2 L354.5 516.9 L356 516.5 L357.5 516.2 L359 515.8 L360.5 515.5 L362 515.1 L363.5 514.7 L365 514.4 L366.5 514 L368 513.7 L369.5 513.3 L371 513 L372.5 512.6 L374 512.3 L375.5 512 L377 511.7 L378.5 511.4 L380 511.1 L381.5 510.9 L383 510.6 L384.5 510.4 L386 510.2 L387.5 510 L389 509.9 L390.5 509.8 L392 509.7 L393.5 509.6 L395 509.5 L396.5 509.5 L398 509.5 L399.5 509.5 L401 509.6 L402.5 509.6 L404 509.7 L405.5 509.9 L407 510 L408.5 510.2 L410 510.4 L411.5 510.6 L413 510.8 L414.5 511.1 L416 511.3 L417.5 511.6 L419 511.9 L420.5 512.2 L422 512.6 L423.5 512.9 L425 513.2 L426.5 513.6 L428 513.9 L429.5 514.3 L431 514.7 L432.5 515 L434 515.4 L435.5 515.8 L437 516.1 L438.5 516.5 L440 516.8 L441.5 517.2 L443 517.5 L444.5 517.8 L446 518.2 L447.5 518.5 L449 518.8 L450.5 519.1 L452 519.4 L453.5 519.6 L455 519.9 L456.5 520.1 L458 520.4 L459.5 520.6 L461 520.8 L462.5 521 L464 521.2 L465.5 521.4 L467 521.6 L468.5 521.7 L470 521.9 L471.5 522 L473 522.1 L474.5 522.3 L476 522.4 L477.5 522.5 L479 522.6 L480.5 522.7 L482 522.7 L483.5 522.8 L485 522.9 L486.5 523 L488 523 L489.5 523.1 L491 523.1 L492.5 523.2 L494 523.2 L495.5 523.2 L497 523.3 L498.5 523.3 L500 523.3 L501.5 523.3 L503 523.4 L504.5 523.4 L506 523.4 L507.5 523.4 L509 523.4 L510.5 523.4 L512 523.4 L513.5 523.4 L515 523.5 L516.5 523.5 L518 523.5 L519.5 523.5 L519.5 524.7 Z" fill="url(#gB)"/>
<path d="M41 523.5 L45.5 523.5 L50 523.6 L54.5 523.1 L59 522.8 L63.5 521.5 L68 521.7 L72.5 524.5 L77 524.5 L81.5 523.9 L86 523.3 L90.5 523.3 L95 523.7 L99.5 522.6 L104 523.2 L108.5 523.4 L113 522.4 L117.5 521.8 L122 521.3 L126.5 521 L131 523.2 L135.5 520.2 L140 521.4 L144.5 521.4 L149 521.4 L153.5 522.2 L158 523.7 L162.5 523.1 L167 522.3 L171.5 521.2 L176 520.8 L180.5 521.5 L185 519.6 L189.5 517.1 L194 515.1 L198.5 513.3 L203 511.2 L207.5 512.1 L212 510.6 L216.5 508 L221 507.6 L225.5 503.5 L230 501.7 L234.5 498.9 L239 492.4 L243.5 486.9 L248 482.2 L252.5 479.1 L257 474.5 L261.5 465.4 L266 460.1 L270.5 452.2 L275 444.9 L279.5 437.7 L284 431.1 L288.5 422.8 L293 416.7 L297.5 410.3 L302 406.4 L306.5 403.7 L311 400.7 L315.5 393.8 L320 387.4 L324.5 384.9 L329 382.6 L333.5 385.1 L338 385.3 L342.5 385.2 L347 389.1 L351.5 393 L356 395.6 L360.5 402.2 L365 410.4 L369.5 419.5 L374 429 L378.5 438 L383 447.9 L387.5 456.4 L392 464.7 L396.5 475.8 L401 483.6 L405.5 490.9 L410 494.9 L414.5 501 L419 507.1 L423.5 508.8 L428 513.8 L432.5 515.2 L437 517.5 L441.5 518.4 L446 519.7 L450.5 521.7 L455 520.9 L459.5 523 L464 521.2 L468.5 520.2 L473 521.8 L477.5 520.4 L482 520.6 L486.5 522.2 L491 523.3 L495.5 520.2 L500 521.5 L504.5 523.8 L509 524 L513.5 522.3 L518 521.2 L522.5 521 L527 519.9 L531.5 520.5 L536 520.8 L540.5 521 L545 522.7 L549.5 521.8 L554 519.9 L558.5 522 L563 520.5 L567.5 520.5 L572 520.9 L576.5 520.8 L580.7 520" fill="none" stroke="#c4c4c4" stroke-width="3" stroke-linejoin="round" stroke-linecap="round"/>
<path d="M41 523.2 L42.5 523.2 L44 523.2 L45.5 523.2 L47 523.2 L48.5 523.2 L50 523.2 L51.5 523.2 L53 523.2 L54.5 523.2 L56 523.2 L57.5 523.2 L59 523.2 L60.5 523.2 L62 523.2 L63.5 523.2 L65 523.2 L66.5 523.2 L68 523.2 L69.5 523.2 L71 523.2 L72.5 523.2 L74 523.2 L75.5 523.2 L77 523.2 L78.5 523.2 L80 523.2 L81.5 523.2 L83 523.2 L84.5 523.2 L86 523.2 L87.5 523.2 L89 523.2 L90.5 523.2 L92 523.2 L93.5 523.2 L95 523.2 L96.5 523.2 L98 523.2 L99.5 523.2 L101 523.2 L102.5 523.2 L104 523.2 L105.5 523.2 L107 523.2 L108.5 523.2 L110 523.2 L111.5 523.2 L113 523.2 L114.5 523.1 L116 523.1 L117.5 523.1 L119 523.1 L120.5 523.1 L122 523.1 L123.5 523.1 L125 523.1 L126.5 523.1 L128 523.1 L129.5 523.1 L131 523 L132.5 523 L134 523 L135.5 523 L137 523 L138.5 523 L140 523 L141.5 522.9 L143 522.9 L144.5 522.9 L146 522.9 L147.5 522.8 L149 522.8 L150.5 522.8 L152 522.8 L153.5 522.7 L155 522.7 L156.5 522.7 L158 522.6 L159.5 522.6 L161 522.5 L162.5 522.5 L164 522.4 L165.5 522.3 L167 522.2 L168.5 522.1 L170 522 L171.5 521.8 L173 521.7 L174.5 521.5 L176 521.3 L177.5 521.1 L179 520.8 L180.5 520.6 L182 520.3 L183.5 520 L185 519.7 L186.5 519.3 L188 518.9 L189.5 518.5 L191 518.1 L192.5 517.7 L194 517.2 L195.5 516.7 L197 516.2 L198.5 515.6 L200 515.1 L201.5 514.5 L203 513.9 L204.5 513.3 L206 512.6 L207.5 512 L209 511.4 L210.5 510.8 L212 510.1 L213.5 509.4 L215 508.8 L216.5 508.1 L218 507.4 L219.5 506.7 L221 505.9 L222.5 505.2 L224 504.4 L225.5 503.5 L227 502.7 L228.5 501.8 L230 500.8 L231.5 499.7 L233 498.7 L234.5 497.5 L236 496.3 L237.5 495 L239 493.7 L240.5 492.3 L242 490.8 L243.5 489.3 L245 487.7 L246.5 486.1 L248 484.4 L249.5 482.7 L251 480.9 L252.5 479 L254 477 L255.5 475 L257 472.9 L258.5 470.7 L260 468.4 L261.5 466.2 L263 463.8 L264.5 461.5 L266 459.2 L267.5 456.9 L269 454.5 L270.5 452.2 L272 449.9 L273.5 447.6 L275 445.4 L276.5 443.1 L278 440.8 L279.5 438.6 L281 436.3 L282.5 434.1 L284 431.9 L285.5 429.7 L287 427.5 L288.5 425.3 L290 423.2 L291.5 421.1 L293 419 L294.5 416.9 L296 414.9 L297.5 412.9 L299 410.9 L300.5 408.9 L302 407 L303.5 405.1 L305 403.2 L306.5 401.4 L308 399.7 L309.5 398 L311 396.4 L312.5 395 L314 393.6 L315.5 392.2 L317 391 L318.5 389.8 L320 388.7 L321.5 387.7 L323 386.8 L324.5 386 L326 385.3 L327.5 384.7 L329 384.3 L330.5 383.9 L332 383.6 L333.5 383.5 L335 383.5 L336.5 383.6 L338 383.8 L339.5 384.2 L341 384.8 L342.5 385.4 L344 386.2 L345.5 387.1 L347 388.1 L348.5 389.2 L350 390.5 L351.5 391.9 L353 393.5 L354.5 395.2 L356 397.1 L357.5 399.1 L359 401.2 L360.5 403.5 L362 406 L363.5 408.5 L365 411.2 L366.5 414 L368 416.9 L369.5 419.9 L371 422.9 L372.5 425.9 L374 429 L375.5 432.1 L377 435.3 L378.5 438.4 L380 441.6 L381.5 444.7 L383 447.8 L384.5 450.9 L386 454 L387.5 457.1 L389 460.1 L390.5 463.1 L392 466 L393.5 468.9 L395 471.8 L396.5 474.6 L398 477.3 L399.5 480 L401 482.6 L402.5 485.1 L404 487.5 L405.5 489.9 L407 492.2 L408.5 494.3 L410 496.4 L411.5 498.3 L413 500.2 L414.5 501.9 L416 503.5 L417.5 505 L419 506.5 L420.5 507.8 L422 509 L423.5 510.1 L425 511.2 L426.5 512.1 L428 513 L429.5 513.9 L431 514.6 L432.5 515.3 L434 516 L435.5 516.5 L437 517.1 L438.5 517.6 L440 518 L441.5 518.4 L443 518.8 L444.5 519.1 L446 519.4 L447.5 519.7 L449 520 L450.5 520.2 L452 520.4 L453.5 520.5 L455 520.7 L456.5 520.8 L458 520.9 L459.5 521 L461 521.1 L462.5 521.2 L464 521.2 L465.5 521.3 L467 521.3 L468.5 521.4 L470 521.4 L471.5 521.4 L473 521.5 L474.5 521.5 L476 521.5 L477.5 521.5 L479 521.5 L480.5 521.5 L482 521.5 L483.5 521.5 L485 521.5 L486.5 521.5 L488 521.5 L489.5 521.5 L491 521.5 L492.5 521.5 L494 521.5 L495.5 521.5 L497 521.5 L498.5 521.5 L500 521.5 L501.5 521.5 L503 521.5 L504.5 521.5 L506 521.5 L507.5 521.5 L509 521.5 L510.5 521.5 L512 521.5 L513.5 521.5 L515 521.5 L516.5 521.5 L518 521.5 L519.5 521.5 L521 521.5 L522.5 521.5 L524 521.5 L525.5 521.5 L527 521.5 L528.5 521.5 L530 521.5 L531.5 521.5 L533 521.5 L534.5 521.5 L536 521.5 L537.5 521.5 L539 521.5 L540.5 521.5 L542 521.5 L543.5 521.5 L545 521.5 L546.5 521.5 L548 521.5 L549.5 521.5 L551 521.5 L552.5 521.5 L554 521.5 L555.5 521.5 L557 521.5 L558.5 521.5 L560 521.5 L561.5 521.5 L563 521.5 L564.5 521.5 L566 521.5 L567.5 521.5 L569 521.5 L570.5 521.5 L572 521.5 L573.5 521.5 L575 521.5 L576.5 521.5 L578 521.5 L579.5 521.5 L580.7 521.5" fill="none" stroke="#000080" stroke-width="2.8" stroke-linejoin="round" stroke-linecap="butt" stroke-dasharray="6.2 4.4"/>
<path d="M41 523.5 L42.5 523.5 L44 523.5 L45.5 523.5 L47 523.5 L48.5 523.5 L50 523.5 L51.5 523.5 L53 523.5 L54.5 523.5 L56 523.5 L57.5 523.5 L59 523.5 L60.5 523.5 L62 523.5 L63.5 523.5 L65 523.5 L66.5 523.5 L68 523.5 L69.5 523.5 L71 523.5 L72.5 523.5 L74 523.5 L75.5 523.5 L77 523.5 L78.5 523.5 L80 523.5 L81.5 523.5 L83 523.5 L84.5 523.5 L86 523.5 L87.5 523.5 L89 523.5 L90.5 523.5 L92 523.5 L93.5 523.5 L95 523.5 L96.5 523.5 L98 523.5 L99.5 523.5 L101 523.5 L102.5 523.5 L104 523.5 L105.5 523.5 L107 523.5 L108.5 523.5 L110 523.5 L111.5 523.5 L113 523.5 L114.5 523.5 L116 523.5 L117.5 523.5 L119 523.5 L120.5 523.5 L122 523.5 L123.5 523.5 L125 523.5 L126.5 523.5 L128 523.5 L129.5 523.5 L131 523.5 L132.5 523.5 L134 523.5 L135.5 523.5 L137 523.5 L138.5 523.5 L140 523.5 L141.5 523.5 L143 523.5 L144.5 523.5 L146 523.5 L147.5 523.5 L149 523.5 L150.5 523.5 L152 523.5 L153.5 523.5 L155 523.5 L156.5 523.5 L158 523.5 L159.5 523.5 L161 523.5 L162.5 523.5 L164 523.5 L165.5 523.5 L167 523.5 L168.5 523.5 L170 523.5 L171.5 523.5 L173 523.5 L174.5 523.5 L176 523.5 L177.5 523.5 L179 523.5 L180.5 523.5 L182 523.5 L183.5 523.5 L185 523.5 L186.5 523.5 L188 523.5 L189.5 523.5 L191 523.5 L192.5 523.5 L194 523.5 L195.5 523.5 L197 523.5 L198.5 523.5 L200 523.5 L201.5 523.5 L203 523.5 L204.5 523.5 L206 523.5 L207.5 523.5 L209 523.5 L210.5 523.5 L212 523.5 L213.5 523.5 L215 523.5 L216.5 523.5 L218 523.5 L219.5 523.5 L221 523.5 L222.5 523.5 L224 523.5 L225.5 523.5 L227 523.5 L228.5 523.5 L230 523.5 L231.5 523.5 L233 523.5 L234.5 523.5 L236 523.5 L237.5 523.5 L239 523.5 L240.5 523.5 L242 523.5 L243.5 523.5 L245 523.5 L246.5 523.5 L248 523.5 L249.5 523.5 L251 523.5 L252.5 523.5 L254 523.5 L255.5 523.5 L257 523.5 L258.5 523.4 L260 523.4 L261.5 523.4 L263 523.4 L264.5 523.4 L266 523.4 L267.5 523.4 L269 523.3 L270.5 523.3 L272 523.3 L273.5 523.2 L275 523.2 L276.5 523.2 L278 523.1 L279.5 523.1 L281 523 L282.5 522.9 L284 522.9 L285.5 522.8 L287 522.7 L288.5 522.6 L290 522.5 L291.5 522.4 L293 522.2 L294.5 522.1 L296 521.9 L297.5 521.8 L299 521.6 L300.5 521.4 L302 521.2 L303.5 521 L305 520.8 L306.5 520.6 L308 520.3 L309.5 520 L311 519.8 L312.5 519.5 L314 519.2 L315.5 518.9 L317 518.6 L318.5 518.2 L320 517.9 L321.5 517.6 L323 517.2 L324.5 516.9 L326 516.5 L327.5 516.2 L329 515.8 L330.5 515.5 L332 515.1 L333.5 514.8 L335 514.5 L336.5 514.2 L338 513.9 L339.5 513.6 L341 513.4 L342.5 513.1 L344 512.9 L345.5 512.7 L347 512.5 L348.5 512.4 L350 512.2 L351.5 512.1 L353 512.1 L354.5 512 L356 512 L357.5 512 L359 512.1 L360.5 512.1 L362 512.2 L363.5 512.4 L365 512.5 L366.5 512.7 L368 512.9 L369.5 513.1 L371 513.4 L372.5 513.6 L374 513.9 L375.5 514.2 L377 514.5 L378.5 514.8 L380 515.1 L381.5 515.5 L383 515.8 L384.5 516.2 L386 516.5 L387.5 516.9 L389 517.2 L390.5 517.6 L392 517.9 L393.5 518.2 L395 518.6 L396.5 518.9 L398 519.2 L399.5 519.5 L401 519.8 L402.5 520 L404 520.3 L405.5 520.6 L407 520.8 L408.5 521 L410 521.2 L411.5 521.4 L413 521.6 L414.5 521.8 L416 521.9 L417.5 522.1 L419 522.2 L420.5 522.4 L422 522.5 L423.5 522.6 L425 522.7 L426.5 522.8 L428 522.9 L429.5 522.9 L431 523 L432.5 523.1 L434 523.1 L435.5 523.2 L437 523.2 L438.5 523.2 L440 523.3 L441.5 523.3 L443 523.3 L444.5 523.4 L446 523.4 L447.5 523.4 L449 523.4 L450.5 523.4 L452 523.4 L453.5 523.4 L455 523.5 L456.5 523.5 L458 523.5 L459.5 523.5 L461 523.5 L462.5 523.5 L464 523.5 L465.5 523.5 L467 523.5 L468.5 523.5 L470 523.5 L471.5 523.5 L473 523.5 L474.5 523.5 L476 523.5 L477.5 523.5 L479 523.5 L480.5 523.5 L482 523.5 L483.5 523.5 L485 523.5 L486.5 523.5 L488 523.5 L489.5 523.5 L491 523.5 L492.5 523.5 L494 523.5 L495.5 523.5 L497 523.5 L498.5 523.5 L500 523.5 L501.5 523.5 L503 523.5 L504.5 523.5 L506 523.5 L507.5 523.5 L509 523.5 L510.5 523.5 L512 523.5 L513.5 523.5 L515 523.5 L516.5 523.5 L518 523.5 L519.5 523.5 L521 523.5 L522.5 523.5 L524 523.5 L525.5 523.5 L527 523.5 L528.5 523.5 L530 523.5 L531.5 523.5 L533 523.5 L534.5 523.5 L536 523.5 L537.5 523.5 L539 523.5 L540.5 523.5 L542 523.5 L543.5 523.5 L545 523.5 L546.5 523.5 L548 523.5 L549.5 523.5 L551 523.5 L552.5 523.5 L554 523.5 L555.5 523.5 L557 523.5 L558.5 523.5 L560 523.5 L561.5 523.5 L563 523.5 L564.5 523.5 L566 523.5 L567.5 523.5 L569 523.5 L570.5 523.5 L572 523.5 L573.5 523.5 L575 523.5 L576.5 523.5 L578 523.5 L579.5 523.5 L580.7 523.5" fill="none" stroke="#14a0ff" stroke-width="2.8" stroke-linejoin="round" stroke-linecap="round"/>
<path d="M203 671.8 L203 670.6 L204.5 670.6 L206 670.6 L207.5 670.5 L209 670.5 L210.5 670.5 L212 670.5 L213.5 670.4 L215 670.4 L216.5 670.4 L218 670.3 L219.5 670.2 L221 670.2 L222.5 670.1 L224 669.9 L225.5 669.8 L227 669.6 L228.5 669.5 L230 669.2 L231.5 669 L233 668.7 L234.5 668.4 L236 668 L237.5 667.5 L239 667 L240.5 666.5 L242 665.8 L243.5 665.1 L245 664.4 L246.5 663.5 L248 662.5 L249.5 661.5 L251 660.3 L252.5 659.1 L254 657.8 L255.5 656.3 L257 654.8 L258.5 653.2 L260 651.5 L261.5 649.7 L263 647.9 L264.5 645.9 L266 644 L267.5 642 L269 639.9 L270.5 637.9 L272 635.8 L273.5 633.8 L275 631.9 L276.5 630 L278 628.1 L279.5 626.4 L281 624.8 L282.5 623.3 L284 622 L285.5 620.8 L287 619.9 L288.5 619.1 L290 618.5 L291.5 618.2 L293 618 L294.5 618.1 L296 618.3 L297.5 618.8 L299 619.5 L300.5 620.4 L302 621.5 L303.5 622.8 L305 624.2 L306.5 625.7 L308 627.4 L309.5 629.2 L311 631.1 L312.5 633 L314 635 L315.5 637.1 L317 639.1 L318.5 641.1 L320 643.2 L321.5 645.2 L323 647.1 L324.5 649 L326 650.8 L327.5 652.5 L329 654.2 L330.5 655.7 L332 657.2 L333.5 658.6 L335 659.9 L336.5 661 L338 662.1 L339.5 663.1 L341 664 L342.5 664.8 L344 665.6 L345.5 666.2 L347 666.8 L348.5 667.3 L350 667.8 L351.5 668.2 L353 668.6 L354.5 668.9 L356 669.1 L357.5 669.4 L359 669.6 L360.5 669.7 L362 669.9 L363.5 670 L365 670.1 L366.5 670.2 L368 670.3 L369.5 670.3 L371 670.4 L372.5 670.4 L374 670.5 L375.5 670.5 L377 670.5 L378.5 670.5 L380 670.5 L381.5 670.6 L383 670.6 L383 671.8 Z" fill="url(#gM)"/>
<path d="M41 670.6 L42.5 670.6 L44 670.6 L45.5 670.6 L47 670.6 L48.5 670.6 L50 670.6 L51.5 670.6 L53 670.6 L54.5 670.6 L56 670.6 L57.5 670.6 L59 670.6 L60.5 670.6 L62 670.6 L63.5 670.6 L65 670.6 L66.5 670.6 L68 670.6 L69.5 670.6 L71 670.6 L72.5 670.6 L74 670.6 L75.5 670.6 L77 670.6 L78.5 670.6 L80 670.6 L81.5 670.6 L83 670.6 L84.5 670.6 L86 670.6 L87.5 670.6 L89 670.6 L90.5 670.6 L92 670.6 L93.5 670.6 L95 670.6 L96.5 670.6 L98 670.6 L99.5 670.6 L101 670.6 L102.5 670.6 L104 670.6 L105.5 670.6 L107 670.6 L108.5 670.6 L110 670.6 L111.5 670.6 L113 670.6 L114.5 670.6 L116 670.6 L117.5 670.6 L119 670.6 L120.5 670.6 L122 670.6 L123.5 670.6 L125 670.6 L126.5 670.6 L128 670.6 L129.5 670.6 L131 670.6 L132.5 670.6 L134 670.6 L135.5 670.6 L137 670.6 L138.5 670.6 L140 670.6 L141.5 670.6 L143 670.6 L144.5 670.6 L146 670.6 L147.5 670.6 L149 670.6 L150.5 670.6 L152 670.6 L153.5 670.6 L155 670.6 L156.5 670.6 L158 670.6 L159.5 670.6 L161 670.6 L162.5 670.6 L164 670.6 L165.5 670.6 L167 670.6 L168.5 670.6 L170 670.6 L171.5 670.5 L173 670.5 L174.5 670.5 L176 670.5 L177.5 670.5 L179 670.4 L180.5 670.4 L182 670.4 L183.5 670.3 L185 670.2 L186.5 670.2 L188 670.1 L189.5 670 L191 669.9 L192.5 669.8 L194 669.6 L195.5 669.4 L197 669.2 L198.5 669 L200 668.8 L201.5 668.5 L203 668.2 L204.5 667.9 L206 667.5 L207.5 667.1 L209 666.6 L210.5 666.1 L212 665.6 L213.5 665 L215 664.3 L216.5 663.7 L218 663 L219.5 662.2 L221 661.4 L222.5 660.6 L224 659.7 L225.5 658.8 L227 657.9 L228.5 657 L230 656 L231.5 655.1 L233 654.1 L234.5 653.2 L236 652.3 L237.5 651.4 L239 650.5 L240.5 649.7 L242 648.9 L243.5 648.2 L245 647.6 L246.5 647 L248 646.5 L249.5 646.2 L251 645.8 L252.5 645.6 L254 645.5 L255.5 645.5 L257 645.6 L258.5 645.8 L260 646 L261.5 646.4 L263 646.9 L264.5 647.4 L266 648 L267.5 648.7 L269 649.4 L270.5 650.2 L272 651.1 L273.5 652 L275 652.9 L276.5 653.8 L278 654.7 L279.5 655.7 L281 656.6 L282.5 657.6 L284 658.5 L285.5 659.4 L287 660.3 L288.5 661.1 L290 661.9 L291.5 662.7 L293 663.4 L294.5 664.1 L296 664.8 L297.5 665.4 L299 665.9 L300.5 666.4 L302 666.9 L303.5 667.3 L305 667.7 L306.5 668.1 L308 668.4 L309.5 668.7 L311 669 L312.5 669.2 L314 669.4 L315.5 669.6 L317 669.7 L318.5 669.8 L320 670 L321.5 670.1 L323 670.1 L324.5 670.2 L326 670.3 L327.5 670.3 L329 670.4 L330.5 670.4 L332 670.5 L333.5 670.5 L335 670.5 L336.5 670.5 L338 670.5 L339.5 670.5 L341 670.6 L342.5 670.6 L344 670.6 L345.5 670.6 L347 670.6 L348.5 670.6 L350 670.6 L351.5 670.6 L353 670.6 L354.5 670.6 L356 670.6 L357.5 670.6 L359 670.6 L360.5 670.6 L362 670.6 L363.5 670.6 L365 670.6 L366.5 670.6 L368 670.6 L369.5 670.6 L371 670.6 L372.5 670.6 L374 670.6 L375.5 670.6 L377 670.6 L378.5 670.6 L380 670.6 L381.5 670.6 L383 670.6 L384.5 670.6 L386 670.6 L387.5 670.6 L389 670.6 L390.5 670.6 L392 670.6 L393.5 670.6 L395 670.6 L396.5 670.6 L398 670.6 L399.5 670.6 L401 670.6 L402.5 670.6 L404 670.6 L405.5 670.6 L407 670.6 L408.5 670.6 L410 670.6 L411.5 670.6 L413 670.6 L414.5 670.6 L416 670.6 L417.5 670.6 L419 670.6 L420.5 670.6 L422 670.6 L423.5 670.6 L425 670.6 L426.5 670.6 L428 670.6 L429.5 670.6 L431 670.6 L432.5 670.6 L434 670.6 L435.5 670.6 L437 670.6 L438.5 670.6 L440 670.6 L441.5 670.6 L443 670.6 L444.5 670.6 L446 670.6 L447.5 670.6 L449 670.6 L450.5 670.6 L452 670.6 L453.5 670.6 L455 670.6 L456.5 670.6 L458 670.6 L459.5 670.6 L461 670.6 L462.5 670.6 L464 670.6 L465.5 670.6 L467 670.6 L468.5 670.6 L470 670.6 L471.5 670.6 L473 670.6 L474.5 670.6 L476 670.6 L477.5 670.6 L479 670.6 L480.5 670.6 L482 670.6 L483.5 670.6 L485 670.6 L486.5 670.6 L488 670.6 L489.5 670.6 L491 670.6 L492.5 670.6 L494 670.6 L495.5 670.6 L497 670.6 L498.5 670.6 L500 670.6 L501.5 670.6 L503 670.6 L504.5 670.6 L506 670.6 L507.5 670.6 L509 670.6 L510.5 670.6 L512 670.6 L513.5 670.6 L515 670.6 L516.5 670.6 L518 670.6 L519.5 670.6 L521 670.6 L522.5 670.6 L524 670.6 L525.5 670.6 L527 670.6 L528.5 670.6 L530 670.6 L531.5 670.6 L533 670.6 L534.5 670.6 L536 670.6 L537.5 670.6 L539 670.6 L540.5 670.6 L542 670.6 L543.5 670.6 L545 670.6 L546.5 670.6 L548 670.6 L549.5 670.6 L551 670.6 L552.5 670.6 L554 670.6 L555.5 670.6 L557 670.6 L558.5 670.6 L560 670.6 L561.5 670.6 L563 670.6 L564.5 670.6 L566 670.6 L567.5 670.6 L569 670.6 L570.5 670.6 L572 670.6 L573.5 670.6 L575 670.6 L576.5 670.6 L578 670.6 L579.5 670.6 L580.7 670.6" fill="none" stroke="#00dc00" stroke-width="2.6" stroke-linejoin="round" stroke-linecap="round"/>
<path d="M264.5 671.8 L264.5 670.6 L266 670.6 L267.5 670.5 L269 670.5 L270.5 670.5 L272 670.5 L273.5 670.4 L275 670.4 L276.5 670.3 L278 670.3 L279.5 670.2 L281 670.1 L282.5 669.9 L284 669.8 L285.5 669.6 L287 669.4 L288.5 669.1 L290 668.8 L291.5 668.4 L293 667.9 L294.5 667.4 L296 666.8 L297.5 666 L299 665.2 L300.5 664.2 L302 663.1 L303.5 661.9 L305 660.5 L306.5 658.9 L308 657.1 L309.5 655.2 L311 653 L312.5 650.7 L314 648.1 L315.5 645.3 L317 642.3 L318.5 639.1 L320 635.7 L321.5 632.1 L323 628.4 L324.5 624.5 L326 620.5 L327.5 616.4 L329 612.2 L330.5 608 L332 603.9 L333.5 599.7 L335 595.7 L336.5 591.9 L338 588.2 L339.5 584.8 L341 581.6 L342.5 578.8 L344 576.3 L345.5 574.2 L347 572.5 L348.5 571.3 L350 570.5 L351.5 570.2 L353 570.4 L354.5 571 L356 572.1 L357.5 573.7 L359 575.7 L360.5 578.1 L362 580.8 L363.5 583.9 L365 587.2 L366.5 590.9 L368 594.7 L369.5 598.7 L371 602.8 L372.5 606.9 L374 611.1 L375.5 615.3 L377 619.4 L378.5 623.4 L380 627.4 L381.5 631.2 L383 634.8 L384.5 638.2 L386 641.5 L387.5 644.5 L389 647.4 L390.5 650 L392 652.4 L393.5 654.6 L395 656.6 L396.5 658.4 L398 660.1 L399.5 661.5 L401 662.8 L402.5 664 L404 665 L405.5 665.8 L407 666.6 L408.5 667.2 L410 667.8 L411.5 668.3 L413 668.7 L414.5 669 L416 669.3 L417.5 669.5 L419 669.7 L420.5 669.9 L422 670 L423.5 670.2 L425 670.2 L426.5 670.3 L428 670.4 L429.5 670.4 L431 670.5 L432.5 670.5 L434 670.5 L435.5 670.5 L437 670.6 L438.5 670.6 L438.5 671.8 Z" fill="url(#gR)"/>
<path d="M41 670.6 L42.5 670.6 L44 670.6 L45.5 670.6 L47 670.6 L48.5 670.6 L50 670.6 L51.5 670.6 L53 670.6 L54.5 670.6 L56 670.6 L57.5 670.6 L59 670.6 L60.5 670.6 L62 670.6 L63.5 670.6 L65 670.6 L66.5 670.6 L68 670.6 L69.5 670.6 L71 670.6 L72.5 670.6 L74 670.6 L75.5 670.6 L77 670.6 L78.5 670.6 L80 670.6 L81.5 670.6 L83 670.6 L84.5 670.6 L86 670.6 L87.5 670.6 L89 670.6 L90.5 670.6 L92 670.6 L93.5 670.6 L95 670.6 L96.5 670.6 L98 670.6 L99.5 670.6 L101 670.6 L102.5 670.6 L104 670.6 L105.5 670.6 L107 670.6 L108.5 670.6 L110 670.6 L111.5 670.6 L113 670.6 L114.5 670.6 L116 670.6 L117.5 670.6 L119 670.6 L120.5 670.6 L122 670.6 L123.5 670.6 L125 670.6 L126.5 670.6 L128 670.6 L129.5 670.6 L131 670.6 L132.5 670.6 L134 670.6 L135.5 670.6 L137 670.6 L138.5 670.6 L140 670.6 L141.5 670.6 L143 670.6 L144.5 670.6 L146 670.6 L147.5 670.6 L149 670.6 L150.5 670.6 L152 670.6 L153.5 670.6 L155 670.6 L156.5 670.6 L158 670.6 L159.5 670.6 L161 670.6 L162.5 670.6 L164 670.6 L165.5 670.6 L167 670.6 L168.5 670.6 L170 670.6 L171.5 670.6 L173 670.6 L174.5 670.6 L176 670.6 L177.5 670.6 L179 670.6 L180.5 670.6 L182 670.6 L183.5 670.6 L185 670.6 L186.5 670.6 L188 670.6 L189.5 670.6 L191 670.6 L192.5 670.6 L194 670.6 L195.5 670.6 L197 670.6 L198.5 670.6 L200 670.6 L201.5 670.6 L203 670.6 L204.5 670.6 L206 670.6 L207.5 670.6 L209 670.6 L210.5 670.6 L212 670.6 L213.5 670.6 L215 670.6 L216.5 670.6 L218 670.6 L219.5 670.6 L221 670.6 L222.5 670.6 L224 670.6 L225.5 670.6 L227 670.6 L228.5 670.6 L230 670.6 L231.5 670.6 L233 670.6 L234.5 670.5 L236 670.5 L237.5 670.5 L239 670.5 L240.5 670.4 L242 670.4 L243.5 670.3 L245 670.3 L246.5 670.2 L248 670.1 L249.5 669.9 L251 669.8 L252.5 669.6 L254 669.4 L255.5 669.1 L257 668.8 L258.5 668.5 L260 668.1 L261.5 667.6 L263 667.1 L264.5 666.4 L266 665.7 L267.5 664.9 L269 664 L270.5 663 L272 661.9 L273.5 660.6 L275 659.3 L276.5 657.8 L278 656.1 L279.5 654.4 L281 652.5 L282.5 650.5 L284 648.4 L285.5 646.2 L287 643.9 L288.5 641.6 L290 639.2 L291.5 636.7 L293 634.3 L294.5 631.8 L296 629.4 L297.5 627 L299 624.7 L300.5 622.6 L302 620.6 L303.5 618.7 L305 617.1 L306.5 615.7 L308 614.5 L309.5 613.5 L311 612.8 L312.5 612.4 L314 612.3 L315.5 612.5 L317 612.9 L318.5 613.6 L320 614.6 L321.5 615.8 L323 617.3 L324.5 619 L326 620.8 L327.5 622.9 L329 625 L330.5 627.3 L332 629.7 L333.5 632.1 L335 634.6 L336.5 637 L338 639.5 L339.5 641.9 L341 644.3 L342.5 646.5 L344 648.7 L345.5 650.8 L347 652.8 L348.5 654.6 L350 656.4 L351.5 658 L353 659.4 L354.5 660.8 L356 662 L357.5 663.1 L359 664.1 L360.5 665 L362 665.8 L363.5 666.5 L365 667.1 L366.5 667.7 L368 668.1 L369.5 668.5 L371 668.9 L372.5 669.2 L374 669.4 L375.5 669.6 L377 669.8 L378.5 670 L380 670.1 L381.5 670.2 L383 670.3 L384.5 670.3 L386 670.4 L387.5 670.4 L389 670.5 L390.5 670.5 L392 670.5 L393.5 670.5 L395 670.6 L396.5 670.6 L398 670.6 L399.5 670.6 L401 670.6 L402.5 670.6 L404 670.6 L405.5 670.6 L407 670.6 L408.5 670.6 L410 670.6 L411.5 670.6 L413 670.6 L414.5 670.6 L416 670.6 L417.5 670.6 L419 670.6 L420.5 670.6 L422 670.6 L423.5 670.6 L425 670.6 L426.5 670.6 L428 670.6 L429.5 670.6 L431 670.6 L432.5 670.6 L434 670.6 L435.5 670.6 L437 670.6 L438.5 670.6 L440 670.6 L441.5 670.6 L443 670.6 L444.5 670.6 L446 670.6 L447.5 670.6 L449 670.6 L450.5 670.6 L452 670.6 L453.5 670.6 L455 670.6 L456.5 670.6 L458 670.6 L459.5 670.6 L461 670.6 L462.5 670.6 L464 670.6 L465.5 670.6 L467 670.6 L468.5 670.6 L470 670.6 L471.5 670.6 L473 670.6 L474.5 670.6 L476 670.6 L477.5 670.6 L479 670.6 L480.5 670.6 L482 670.6 L483.5 670.6 L485 670.6 L486.5 670.6 L488 670.6 L489.5 670.6 L491 670.6 L492.5 670.6 L494 670.6 L495.5 670.6 L497 670.6 L498.5 670.6 L500 670.6 L501.5 670.6 L503 670.6 L504.5 670.6 L506 670.6 L507.5 670.6 L509 670.6 L510.5 670.6 L512 670.6 L513.5 670.6 L515 670.6 L516.5 670.6 L518 670.6 L519.5 670.6 L521 670.6 L522.5 670.6 L524 670.6 L525.5 670.6 L527 670.6 L528.5 670.6 L530 670.6 L531.5 670.6 L533 670.6 L534.5 670.6 L536 670.6 L537.5 670.6 L539 670.6 L540.5 670.6 L542 670.6 L543.5 670.6 L545 670.6 L546.5 670.6 L548 670.6 L549.5 670.6 L551 670.6 L552.5 670.6 L554 670.6 L555.5 670.6 L557 670.6 L558.5 670.6 L560 670.6 L561.5 670.6 L563 670.6 L564.5 670.6 L566 670.6 L567.5 670.6 L569 670.6 L570.5 670.6 L572 670.6 L573.5 670.6 L575 670.6 L576.5 670.6 L578 670.6 L579.5 670.6 L580.7 670.6" fill="none" stroke="#ff9a9a" stroke-width="2.4" stroke-linejoin="round" stroke-linecap="round"/>
<path d="M314 671.8 L314 670.6 L315.5 670.6 L317 670.5 L318.5 670.5 L320 670.5 L321.5 670.5 L323 670.5 L324.5 670.4 L326 670.4 L327.5 670.3 L329 670.3 L330.5 670.2 L332 670.1 L333.5 670 L335 669.9 L336.5 669.7 L338 669.6 L339.5 669.4 L341 669.1 L342.5 668.9 L344 668.6 L345.5 668.3 L347 667.9 L348.5 667.5 L350 667 L351.5 666.4 L353 665.9 L354.5 665.2 L356 664.5 L357.5 663.7 L359 662.9 L360.5 662 L362 661.1 L363.5 660.1 L365 659 L366.5 657.9 L368 656.7 L369.5 655.5 L371 654.3 L372.5 653 L374 651.7 L375.5 650.5 L377 649.2 L378.5 648 L380 646.8 L381.5 645.6 L383 644.5 L384.5 643.5 L386 642.5 L387.5 641.7 L389 640.9 L390.5 640.3 L392 639.8 L393.5 639.4 L395 639.2 L396.5 639.1 L398 639.1 L399.5 639.3 L401 639.6 L402.5 640.1 L404 640.7 L405.5 641.4 L407 642.2 L408.5 643.1 L410 644.1 L411.5 645.2 L413 646.3 L414.5 647.5 L416 648.7 L417.5 650 L419 651.2 L420.5 652.5 L422 653.8 L423.5 655 L425 656.2 L426.5 657.4 L428 658.6 L429.5 659.6 L431 660.7 L432.5 661.7 L434 662.6 L435.5 663.4 L437 664.2 L438.5 664.9 L440 665.6 L441.5 666.2 L443 666.8 L444.5 667.3 L446 667.7 L447.5 668.1 L449 668.5 L450.5 668.8 L452 669 L453.5 669.3 L455 669.5 L456.5 669.7 L458 669.8 L459.5 670 L461 670.1 L462.5 670.2 L464 670.2 L465.5 670.3 L467 670.4 L468.5 670.4 L470 670.4 L471.5 670.5 L473 670.5 L474.5 670.5 L476 670.5 L477.5 670.5 L479 670.6 L480.5 670.6 L480.5 671.8 Z" fill="url(#gB)"/>
<path d="M41 670 L45.5 673 L50 670.7 L54.5 670.3 L59 671.8 L63.5 671.9 L68 672 L72.5 672.2 L77 668.6 L81.5 668.4 L86 669.6 L90.5 670.7 L95 672.1 L99.5 671.7 L104 670.6 L108.5 670.5 L113 670.1 L117.5 670.5 L122 671.2 L126.5 670.2 L131 669.1 L135.5 668.5 L140 670.8 L144.5 672 L149 672.1 L153.5 671.9 L158 671.6 L162.5 670.3 L167 670.5 L171.5 668.2 L176 668.2 L180.5 667.5 L185 668.8 L189.5 667 L194 665.9 L198.5 664.9 L203 664.5 L207.5 660.4 L212 657.1 L216.5 656.5 L221 652.3 L225.5 650.8 L230 646.9 L234.5 643.7 L239 637.8 L243.5 636 L248 631 L252.5 625.6 L257 624.1 L261.5 618.3 L266 615.6 L270.5 606.4 L275 597.8 L279.5 591.2 L284 587 L288.5 578.8 L293 571.1 L297.5 563 L302 553.4 L306.5 547.5 L311 541.8 L315.5 536.8 L320 536.3 L324.5 535.2 L329 533.5 L333.5 531.5 L338 529.5 L342.5 532.8 L347 535 L351.5 536 L356 541.5 L360.5 545.6 L365 554 L369.5 563.3 L374 573.8 L378.5 584.4 L383 594.5 L387.5 601.9 L392 610.2 L396.5 617.6 L401 624.9 L405.5 632.2 L410 638.8 L414.5 645.7 L419 645.8 L423.5 651.9 L428 655.7 L432.5 662.3 L437 664.9 L441.5 663.9 L446 666.9 L450.5 667.6 L455 670.2 L459.5 668.9 L464 669.6 L468.5 669.9 L473 670.2 L477.5 669.7 L482 668 L486.5 670.2 L491 672 L495.5 671.4 L500 670 L504.5 670.9 L509 671.8 L513.5 671.3 L518 671.3 L522.5 673.1 L527 670.6 L531.5 670.2 L536 668.3 L540.5 669 L545 669.2 L549.5 669.1 L554 669.3 L558.5 672.7 L563 671.6 L567.5 671.2 L572 674.1 L576.5 672.4 L580.7 669.5" fill="none" stroke="#c4c4c4" stroke-width="3" stroke-linejoin="round" stroke-linecap="round"/>
<path d="M41 670.3 L42.5 670.3 L44 670.3 L45.5 670.3 L47 670.3 L48.5 670.3 L50 670.3 L51.5 670.3 L53 670.3 L54.5 670.3 L56 670.3 L57.5 670.3 L59 670.3 L60.5 670.3 L62 670.3 L63.5 670.3 L65 670.3 L66.5 670.3 L68 670.3 L69.5 670.3 L71 670.3 L72.5 670.3 L74 670.3 L75.5 670.3 L77 670.3 L78.5 670.3 L80 670.3 L81.5 670.3 L83 670.3 L84.5 670.3 L86 670.3 L87.5 670.3 L89 670.3 L90.5 670.3 L92 670.3 L93.5 670.3 L95 670.3 L96.5 670.3 L98 670.3 L99.5 670.3 L101 670.3 L102.5 670.3 L104 670.3 L105.5 670.3 L107 670.3 L108.5 670.3 L110 670.3 L111.5 670.3 L113 670.3 L114.5 670.2 L116 670.2 L117.5 670.2 L119 670.2 L120.5 670.2 L122 670.2 L123.5 670.2 L125 670.2 L126.5 670.2 L128 670.2 L129.5 670.2 L131 670.1 L132.5 670.1 L134 670.1 L135.5 670.1 L137 670.1 L138.5 670.1 L140 670.1 L141.5 670 L143 670 L144.5 670 L146 670 L147.5 669.9 L149 669.9 L150.5 669.9 L152 669.8 L153.5 669.8 L155 669.7 L156.5 669.7 L158 669.6 L159.5 669.6 L161 669.5 L162.5 669.4 L164 669.3 L165.5 669.3 L167 669.2 L168.5 669.1 L170 669.1 L171.5 669 L173 669 L174.5 668.9 L176 668.8 L177.5 668.8 L179 668.7 L180.5 668.7 L182 668.6 L183.5 668.5 L185 668.4 L186.5 668.2 L188 667.9 L189.5 667.6 L191 667.2 L192.5 666.8 L194 666.3 L195.5 665.7 L197 665.2 L198.5 664.6 L200 663.9 L201.5 663.3 L203 662.6 L204.5 661.9 L206 661.3 L207.5 660.6 L209 659.9 L210.5 659.1 L212 658.4 L213.5 657.6 L215 656.8 L216.5 656 L218 655.2 L219.5 654.3 L221 653.5 L222.5 652.6 L224 651.7 L225.5 650.7 L227 649.7 L228.5 648.7 L230 647.6 L231.5 646.5 L233 645.4 L234.5 644.2 L236 642.9 L237.5 641.7 L239 640.4 L240.5 639 L242 637.6 L243.5 636.2 L245 634.8 L246.5 633.3 L248 631.8 L249.5 630.3 L251 628.7 L252.5 627.1 L254 625.5 L255.5 623.8 L257 622.1 L258.5 620.3 L260 618.4 L261.5 616.5 L263 614.5 L264.5 612.4 L266 610.2 L267.5 608 L269 605.7 L270.5 603.5 L272 601.2 L273.5 599 L275 596.9 L276.5 594.8 L278 592.7 L279.5 590.7 L281 588.7 L282.5 586.7 L284 584.7 L285.5 582.5 L287 580.2 L288.5 577.8 L290 575.3 L291.5 572.7 L293 570 L294.5 567.3 L296 564.6 L297.5 561.8 L299 559.1 L300.5 556.5 L302 554 L303.5 551.8 L305 549.6 L306.5 547.6 L308 545.8 L309.5 544.1 L311 542.5 L312.5 541.1 L314 539.8 L315.5 538.7 L317 537.7 L318.5 536.8 L320 536.1 L321.5 535.4 L323 534.7 L324.5 534.2 L326 533.7 L327.5 533.3 L329 533 L330.5 532.7 L332 532.6 L333.5 532.4 L335 532.4 L336.5 532.4 L338 532.6 L339.5 532.8 L341 533.1 L342.5 533.6 L344 534.1 L345.5 534.7 L347 535.5 L348.5 536.3 L350 537.3 L351.5 538.4 L353 539.7 L354.5 541.1 L356 542.6 L357.5 544.3 L359 546.1 L360.5 548.1 L362 550.3 L363.5 552.6 L365 555.1 L366.5 557.8 L368 560.6 L369.5 563.6 L371 566.8 L372.5 570.1 L374 573.5 L375.5 577 L377 580.5 L378.5 584 L380 587.5 L381.5 590.8 L383 594.1 L384.5 597.2 L386 600.3 L387.5 603.1 L389 605.9 L390.5 608.6 L392 611.3 L393.5 613.8 L395 616.3 L396.5 618.8 L398 621.1 L399.5 623.5 L401 625.7 L402.5 627.9 L404 630.1 L405.5 632.2 L407 634.2 L408.5 636.1 L410 638 L411.5 639.8 L413 641.5 L414.5 643.2 L416 644.9 L417.5 646.5 L419 648 L420.5 649.5 L422 651 L423.5 652.4 L425 653.7 L426.5 655 L428 656.2 L429.5 657.4 L431 658.5 L432.5 659.6 L434 660.6 L435.5 661.6 L437 662.5 L438.5 663.4 L440 664.2 L441.5 664.9 L443 665.6 L444.5 666.3 L446 666.8 L447.5 667.4 L449 667.8 L450.5 668.3 L452 668.6 L453.5 669 L455 669.2 L456.5 669.5 L458 669.7 L459.5 669.8 L461 670 L462.5 670.1 L464 670.2 L465.5 670.2 L467 670.3 L468.5 670.4 L470 670.4 L471.5 670.5 L473 670.5 L474.5 670.6 L476 670.6 L477.5 670.6 L479 670.7 L480.5 670.7 L482 670.8 L483.5 670.8 L485 670.8 L486.5 670.9 L488 670.9 L489.5 670.9 L491 671 L492.5 671 L494 671 L495.5 671.1 L497 671.1 L498.5 671.1 L500 671.1 L501.5 671.1 L503 671.2 L504.5 671.2 L506 671.2 L507.5 671.2 L509 671.2 L510.5 671.2 L512 671.2 L513.5 671.2 L515 671.2 L516.5 671.2 L518 671.3 L519.5 671.2 L521 671.2 L522.5 671.2 L524 671.2 L525.5 671.2 L527 671.2 L528.5 671.2 L530 671.2 L531.5 671.2 L533 671.2 L534.5 671.2 L536 671.2 L537.5 671.2 L539 671.2 L540.5 671.2 L542 671.2 L543.5 671.2 L545 671.2 L546.5 671.2 L548 671.2 L549.5 671.2 L551 671.2 L552.5 671.2 L554 671.2 L555.5 671.2 L557 671.2 L558.5 671.2 L560 671.2 L561.5 671.2 L563 671.2 L564.5 671.2 L566 671.2 L567.5 671.2 L569 671.2 L570.5 671.2 L572 671.2 L573.5 671.2 L575 671.2 L576.5 671.2 L578 671.2 L579.5 671.2 L580.7 671.2" fill="none" stroke="#000080" stroke-width="2.8" stroke-linejoin="round" stroke-linecap="butt" stroke-dasharray="6.2 4.4"/>
<path d="M41 670.6 L42.5 670.6 L44 670.6 L45.5 670.6 L47 670.6 L48.5 670.6 L50 670.6 L51.5 670.6 L53 670.6 L54.5 670.6 L56 670.6 L57.5 670.6 L59 670.6 L60.5 670.6 L62 670.6 L63.5 670.6 L65 670.6 L66.5 670.6 L68 670.6 L69.5 670.6 L71 670.6 L72.5 670.6 L74 670.6 L75.5 670.6 L77 670.6 L78.5 670.6 L80 670.6 L81.5 670.6 L83 670.6 L84.5 670.6 L86 670.6 L87.5 670.6 L89 670.6 L90.5 670.6 L92 670.6 L93.5 670.6 L95 670.6 L96.5 670.6 L98 670.6 L99.5 670.6 L101 670.6 L102.5 670.6 L104 670.6 L105.5 670.6 L107 670.6 L108.5 670.6 L110 670.6 L111.5 670.6 L113 670.6 L114.5 670.6 L116 670.6 L117.5 670.6 L119 670.6 L120.5 670.6 L122 670.6 L123.5 670.6 L125 670.6 L126.5 670.6 L128 670.6 L129.5 670.6 L131 670.6 L132.5 670.6 L134 670.6 L135.5 670.6 L137 670.6 L138.5 670.6 L140 670.6 L141.5 670.6 L143 670.6 L144.5 670.6 L146 670.6 L147.5 670.6 L149 670.6 L150.5 670.6 L152 670.6 L153.5 670.6 L155 670.6 L156.5 670.6 L158 670.6 L159.5 670.6 L161 670.6 L162.5 670.6 L164 670.6 L165.5 670.6 L167 670.6 L168.5 670.6 L170 670.6 L171.5 670.6 L173 670.6 L174.5 670.6 L176 670.6 L177.5 670.6 L179 670.6 L180.5 670.6 L182 670.6 L183.5 670.6 L185 670.6 L186.5 670.6 L188 670.6 L189.5 670.6 L191 670.6 L192.5 670.6 L194 670.6 L195.5 670.6 L197 670.6 L198.5 670.6 L200 670.6 L201.5 670.6 L203 670.6 L204.5 670.6 L206 670.6 L207.5 670.6 L209 670.6 L210.5 670.6 L212 670.6 L213.5 670.6 L215 670.6 L216.5 670.6 L218 670.6 L219.5 670.6 L221 670.6 L222.5 670.6 L224 670.6 L225.5 670.6 L227 670.6 L228.5 670.6 L230 670.6 L231.5 670.6 L233 670.6 L234.5 670.6 L236 670.6 L237.5 670.6 L239 670.6 L240.5 670.6 L242 670.6 L243.5 670.6 L245 670.6 L246.5 670.6 L248 670.6 L249.5 670.6 L251 670.6 L252.5 670.6 L254 670.6 L255.5 670.6 L257 670.6 L258.5 670.6 L260 670.6 L261.5 670.6 L263 670.6 L264.5 670.6 L266 670.6 L267.5 670.5 L269 670.5 L270.5 670.5 L272 670.5 L273.5 670.5 L275 670.5 L276.5 670.5 L278 670.4 L279.5 670.4 L281 670.4 L282.5 670.3 L284 670.3 L285.5 670.2 L287 670.2 L288.5 670.1 L290 670 L291.5 669.9 L293 669.8 L294.5 669.7 L296 669.6 L297.5 669.5 L299 669.3 L300.5 669.1 L302 669 L303.5 668.8 L305 668.6 L306.5 668.3 L308 668.1 L309.5 667.8 L311 667.5 L312.5 667.2 L314 666.9 L315.5 666.6 L317 666.2 L318.5 665.8 L320 665.4 L321.5 665 L323 664.6 L324.5 664.2 L326 663.7 L327.5 663.3 L329 662.8 L330.5 662.4 L332 661.9 L333.5 661.5 L335 661 L336.5 660.6 L338 660.2 L339.5 659.7 L341 659.3 L342.5 659 L344 658.6 L345.5 658.3 L347 658 L348.5 657.8 L350 657.5 L351.5 657.3 L353 657.2 L354.5 657.1 L356 657 L357.5 657 L359 657 L360.5 657.1 L362 657.2 L363.5 657.3 L365 657.5 L366.5 657.7 L368 658 L369.5 658.3 L371 658.6 L372.5 658.9 L374 659.3 L375.5 659.7 L377 660.1 L378.5 660.5 L380 661 L381.5 661.4 L383 661.9 L384.5 662.3 L386 662.8 L387.5 663.2 L389 663.7 L390.5 664.1 L392 664.6 L393.5 665 L395 665.4 L396.5 665.8 L398 666.2 L399.5 666.5 L401 666.9 L402.5 667.2 L404 667.5 L405.5 667.8 L407 668 L408.5 668.3 L410 668.5 L411.5 668.7 L413 668.9 L414.5 669.1 L416 669.3 L417.5 669.4 L419 669.6 L420.5 669.7 L422 669.8 L423.5 669.9 L425 670 L426.5 670.1 L428 670.1 L429.5 670.2 L431 670.3 L432.5 670.3 L434 670.4 L435.5 670.4 L437 670.4 L438.5 670.4 L440 670.5 L441.5 670.5 L443 670.5 L444.5 670.5 L446 670.5 L447.5 670.5 L449 670.6 L450.5 670.6 L452 670.6 L453.5 670.6 L455 670.6 L456.5 670.6 L458 670.6 L459.5 670.6 L461 670.6 L462.5 670.6 L464 670.6 L465.5 670.6 L467 670.6 L468.5 670.6 L470 670.6 L471.5 670.6 L473 670.6 L474.5 670.6 L476 670.6 L477.5 670.6 L479 670.6 L480.5 670.6 L482 670.6 L483.5 670.6 L485 670.6 L486.5 670.6 L488 670.6 L489.5 670.6 L491 670.6 L492.5 670.6 L494 670.6 L495.5 670.6 L497 670.6 L498.5 670.6 L500 670.6 L501.5 670.6 L503 670.6 L504.5 670.6 L506 670.6 L507.5 670.6 L509 670.6 L510.5 670.6 L512 670.6 L513.5 670.6 L515 670.6 L516.5 670.6 L518 670.6 L519.5 670.6 L521 670.6 L522.5 670.6 L524 670.6 L525.5 670.6 L527 670.6 L528.5 670.6 L530 670.6 L531.5 670.6 L533 670.6 L534.5 670.6 L536 670.6 L537.5 670.6 L539 670.6 L540.5 670.6 L542 670.6 L543.5 670.6 L545 670.6 L546.5 670.6 L548 670.6 L549.5 670.6 L551 670.6 L552.5 670.6 L554 670.6 L555.5 670.6 L557 670.6 L558.5 670.6 L560 670.6 L561.5 670.6 L563 670.6 L564.5 670.6 L566 670.6 L567.5 670.6 L569 670.6 L570.5 670.6 L572 670.6 L573.5 670.6 L575 670.6 L576.5 670.6 L578 670.6 L579.5 670.6 L580.7 670.6" fill="none" stroke="#14a0ff" stroke-width="2.8" stroke-linejoin="round" stroke-linecap="round"/>
<path d="M204.5 817.2 L204.5 816 L206 816 L207.5 815.9 L209 815.9 L210.5 815.9 L212 815.9 L213.5 815.9 L215 815.8 L216.5 815.8 L218 815.8 L219.5 815.7 L221 815.6 L222.5 815.6 L224 815.5 L225.5 815.4 L227 815.3 L228.5 815.1 L230 815 L231.5 814.8 L233 814.6 L234.5 814.4 L236 814.1 L237.5 813.8 L239 813.5 L240.5 813.1 L242 812.6 L243.5 812.2 L245 811.7 L246.5 811.1 L248 810.5 L249.5 809.8 L251 809 L252.5 808.2 L254 807.4 L255.5 806.5 L257 805.5 L258.5 804.5 L260 803.4 L261.5 802.3 L263 801.2 L264.5 800 L266 798.8 L267.5 797.5 L269 796.3 L270.5 795 L272 793.8 L273.5 792.6 L275 791.4 L276.5 790.2 L278 789.1 L279.5 788.1 L281 787.1 L282.5 786.3 L284 785.5 L285.5 784.8 L287 784.2 L288.5 783.8 L290 783.4 L291.5 783.2 L293 783.1 L294.5 783.1 L296 783.3 L297.5 783.6 L299 784 L300.5 784.5 L302 785.2 L303.5 785.9 L305 786.8 L306.5 787.7 L308 788.7 L309.5 789.8 L311 790.9 L312.5 792.1 L314 793.3 L315.5 794.6 L317 795.8 L318.5 797 L320 798.3 L321.5 799.5 L323 800.7 L324.5 801.9 L326 803 L327.5 804.1 L329 805.1 L330.5 806.1 L332 807 L333.5 807.9 L335 808.7 L336.5 809.5 L338 810.2 L339.5 810.8 L341 811.4 L342.5 812 L344 812.5 L345.5 812.9 L347 813.3 L348.5 813.7 L350 814 L351.5 814.3 L353 814.5 L354.5 814.7 L356 814.9 L357.5 815.1 L359 815.2 L360.5 815.3 L362 815.5 L363.5 815.5 L365 815.6 L366.5 815.7 L368 815.7 L369.5 815.8 L371 815.8 L372.5 815.9 L374 815.9 L375.5 815.9 L377 815.9 L378.5 815.9 L380 816 L381.5 816 L383 816 L383 817.2 Z" fill="url(#gM)"/>
<path d="M41 816 L42.5 816 L44 816 L45.5 816 L47 816 L48.5 816 L50 816 L51.5 816 L53 816 L54.5 816 L56 816 L57.5 816 L59 816 L60.5 816 L62 816 L63.5 816 L65 816 L66.5 816 L68 816 L69.5 816 L71 816 L72.5 816 L74 816 L75.5 816 L77 816 L78.5 816 L80 816 L81.5 816 L83 816 L84.5 816 L86 816 L87.5 816 L89 816 L90.5 816 L92 816 L93.5 816 L95 816 L96.5 816 L98 816 L99.5 816 L101 816 L102.5 816 L104 816 L105.5 816 L107 816 L108.5 816 L110 816 L111.5 816 L113 816 L114.5 816 L116 816 L117.5 816 L119 816 L120.5 816 L122 816 L123.5 816 L125 816 L126.5 816 L128 816 L129.5 816 L131 816 L132.5 816 L134 816 L135.5 816 L137 816 L138.5 816 L140 816 L141.5 816 L143 816 L144.5 816 L146 816 L147.5 816 L149 816 L150.5 816 L152 816 L153.5 816 L155 816 L156.5 816 L158 816 L159.5 816 L161 816 L162.5 816 L164 816 L165.5 816 L167 816 L168.5 816 L170 816 L171.5 816 L173 816 L174.5 815.9 L176 815.9 L177.5 815.9 L179 815.9 L180.5 815.9 L182 815.8 L183.5 815.8 L185 815.8 L186.5 815.7 L188 815.7 L189.5 815.6 L191 815.6 L192.5 815.5 L194 815.4 L195.5 815.3 L197 815.2 L198.5 815 L200 814.9 L201.5 814.7 L203 814.5 L204.5 814.3 L206 814.1 L207.5 813.8 L209 813.5 L210.5 813.2 L212 812.9 L213.5 812.5 L215 812.1 L216.5 811.7 L218 811.2 L219.5 810.8 L221 810.3 L222.5 809.8 L224 809.2 L225.5 808.7 L227 808.1 L228.5 807.5 L230 806.9 L231.5 806.3 L233 805.8 L234.5 805.2 L236 804.6 L237.5 804 L239 803.5 L240.5 803 L242 802.5 L243.5 802.1 L245 801.7 L246.5 801.3 L248 801 L249.5 800.8 L251 800.6 L252.5 800.5 L254 800.4 L255.5 800.4 L257 800.5 L258.5 800.6 L260 800.7 L261.5 801 L263 801.2 L264.5 801.6 L266 802 L267.5 802.4 L269 802.8 L270.5 803.3 L272 803.9 L273.5 804.4 L275 805 L276.5 805.6 L278 806.1 L279.5 806.7 L281 807.3 L282.5 807.9 L284 808.5 L285.5 809 L287 809.6 L288.5 810.1 L290 810.6 L291.5 811.1 L293 811.5 L294.5 812 L296 812.4 L297.5 812.7 L299 813.1 L300.5 813.4 L302 813.7 L303.5 814 L305 814.2 L306.5 814.4 L308 814.6 L309.5 814.8 L311 815 L312.5 815.1 L314 815.2 L315.5 815.3 L317 815.4 L318.5 815.5 L320 815.6 L321.5 815.7 L323 815.7 L324.5 815.8 L326 815.8 L327.5 815.8 L329 815.9 L330.5 815.9 L332 815.9 L333.5 815.9 L335 815.9 L336.5 816 L338 816 L339.5 816 L341 816 L342.5 816 L344 816 L345.5 816 L347 816 L348.5 816 L350 816 L351.5 816 L353 816 L354.5 816 L356 816 L357.5 816 L359 816 L360.5 816 L362 816 L363.5 816 L365 816 L366.5 816 L368 816 L369.5 816 L371 816 L372.5 816 L374 816 L375.5 816 L377 816 L378.5 816 L380 816 L381.5 816 L383 816 L384.5 816 L386 816 L387.5 816 L389 816 L390.5 816 L392 816 L393.5 816 L395 816 L396.5 816 L398 816 L399.5 816 L401 816 L402.5 816 L404 816 L405.5 816 L407 816 L408.5 816 L410 816 L411.5 816 L413 816 L414.5 816 L416 816 L417.5 816 L419 816 L420.5 816 L422 816 L423.5 816 L425 816 L426.5 816 L428 816 L429.5 816 L431 816 L432.5 816 L434 816 L435.5 816 L437 816 L438.5 816 L440 816 L441.5 816 L443 816 L444.5 816 L446 816 L447.5 816 L449 816 L450.5 816 L452 816 L453.5 816 L455 816 L456.5 816 L458 816 L459.5 816 L461 816 L462.5 816 L464 816 L465.5 816 L467 816 L468.5 816 L470 816 L471.5 816 L473 816 L474.5 816 L476 816 L477.5 816 L479 816 L480.5 816 L482 816 L483.5 816 L485 816 L486.5 816 L488 816 L489.5 816 L491 816 L492.5 816 L494 816 L495.5 816 L497 816 L498.5 816 L500 816 L501.5 816 L503 816 L504.5 816 L506 816 L507.5 816 L509 816 L510.5 816 L512 816 L513.5 816 L515 816 L516.5 816 L518 816 L519.5 816 L521 816 L522.5 816 L524 816 L525.5 816 L527 816 L528.5 816 L530 816 L531.5 816 L533 816 L534.5 816 L536 816 L537.5 816 L539 816 L540.5 816 L542 816 L543.5 816 L545 816 L546.5 816 L548 816 L549.5 816 L551 816 L552.5 816 L554 816 L555.5 816 L557 816 L558.5 816 L560 816 L561.5 816 L563 816 L564.5 816 L566 816 L567.5 816 L569 816 L570.5 816 L572 816 L573.5 816 L575 816 L576.5 816 L578 816 L579.5 816 L580.7 816" fill="none" stroke="#00dc00" stroke-width="2.6" stroke-linejoin="round" stroke-linecap="round"/>
<path d="M266 817.2 L266 816 L267.5 816 L269 815.9 L270.5 815.9 L272 815.9 L273.5 815.9 L275 815.8 L276.5 815.8 L278 815.7 L279.5 815.7 L281 815.6 L282.5 815.5 L284 815.3 L285.5 815.2 L287 815 L288.5 814.8 L290 814.5 L291.5 814.2 L293 813.8 L294.5 813.3 L296 812.8 L297.5 812.1 L299 811.4 L300.5 810.5 L302 809.6 L303.5 808.5 L305 807.2 L306.5 805.8 L308 804.2 L309.5 802.5 L311 800.5 L312.5 798.4 L314 796 L315.5 793.5 L317 790.7 L318.5 787.8 L320 784.7 L321.5 781.4 L323 777.9 L324.5 774.3 L326 770.5 L327.5 766.7 L329 762.8 L330.5 758.9 L332 754.9 L333.5 751.1 L335 747.3 L336.5 743.6 L338 740.2 L339.5 736.9 L341 733.9 L342.5 731.2 L344 728.9 L345.5 726.9 L347 725.3 L348.5 724.1 L350 723.4 L351.5 723.1 L353 723.3 L354.5 723.9 L356 724.9 L357.5 726.4 L359 728.3 L360.5 730.6 L362 733.2 L363.5 736.1 L365 739.3 L366.5 742.7 L368 746.3 L369.5 750.1 L371 753.9 L372.5 757.8 L374 761.7 L375.5 765.7 L377 769.5 L378.5 773.3 L380 776.9 L381.5 780.4 L383 783.8 L384.5 787 L386 790 L387.5 792.8 L389 795.4 L390.5 797.8 L392 800 L393.5 802 L395 803.8 L396.5 805.4 L398 806.9 L399.5 808.2 L401 809.3 L402.5 810.3 L404 811.2 L405.5 811.9 L407 812.6 L408.5 813.2 L410 813.6 L411.5 814.1 L413 814.4 L414.5 814.7 L416 814.9 L417.5 815.1 L419 815.3 L420.5 815.4 L422 815.6 L423.5 815.6 L425 815.7 L426.5 815.8 L428 815.8 L429.5 815.9 L431 815.9 L432.5 815.9 L434 815.9 L435.5 816 L437 816 L437 817.2 Z" fill="url(#gR)"/>
<path d="M41 816 L42.5 816 L44 816 L45.5 816 L47 816 L48.5 816 L50 816 L51.5 816 L53 816 L54.5 816 L56 816 L57.5 816 L59 816 L60.5 816 L62 816 L63.5 816 L65 816 L66.5 816 L68 816 L69.5 816 L71 816 L72.5 816 L74 816 L75.5 816 L77 816 L78.5 816 L80 816 L81.5 816 L83 816 L84.5 816 L86 816 L87.5 816 L89 816 L90.5 816 L92 816 L93.5 816 L95 816 L96.5 816 L98 816 L99.5 816 L101 816 L102.5 816 L104 816 L105.5 816 L107 816 L108.5 816 L110 816 L111.5 816 L113 816 L114.5 816 L116 816 L117.5 816 L119 816 L120.5 816 L122 816 L123.5 816 L125 816 L126.5 816 L128 816 L129.5 816 L131 816 L132.5 816 L134 816 L135.5 816 L137 816 L138.5 816 L140 816 L141.5 816 L143 816 L144.5 816 L146 816 L147.5 816 L149 816 L150.5 816 L152 816 L153.5 816 L155 816 L156.5 816 L158 816 L159.5 816 L161 816 L162.5 816 L164 816 L165.5 816 L167 816 L168.5 816 L170 816 L171.5 816 L173 816 L174.5 816 L176 816 L177.5 816 L179 816 L180.5 816 L182 816 L183.5 816 L185 816 L186.5 816 L188 816 L189.5 816 L191 816 L192.5 816 L194 816 L195.5 816 L197 816 L198.5 816 L200 816 L201.5 816 L203 816 L204.5 816 L206 816 L207.5 816 L209 816 L210.5 816 L212 816 L213.5 816 L215 816 L216.5 816 L218 816 L219.5 816 L221 816 L222.5 816 L224 816 L225.5 816 L227 816 L228.5 816 L230 816 L231.5 816 L233 816 L234.5 816 L236 815.9 L237.5 815.9 L239 815.9 L240.5 815.9 L242 815.9 L243.5 815.8 L245 815.8 L246.5 815.7 L248 815.6 L249.5 815.5 L251 815.4 L252.5 815.3 L254 815.1 L255.5 814.9 L257 814.7 L258.5 814.4 L260 814.1 L261.5 813.7 L263 813.2 L264.5 812.7 L266 812.2 L267.5 811.5 L269 810.7 L270.5 809.9 L272 808.9 L273.5 807.8 L275 806.7 L276.5 805.4 L278 804 L279.5 802.4 L281 800.8 L282.5 799 L284 797.2 L285.5 795.2 L287 793.2 L288.5 791 L290 788.8 L291.5 786.6 L293 784.4 L294.5 782.1 L296 779.9 L297.5 777.7 L299 775.6 L300.5 773.7 L302 771.8 L303.5 770.1 L305 768.6 L306.5 767.2 L308 766.1 L309.5 765.2 L311 764.6 L312.5 764.2 L314 764.1 L315.5 764.3 L317 764.7 L318.5 765.3 L320 766.2 L321.5 767.4 L323 768.8 L324.5 770.3 L326 772 L327.5 773.9 L329 775.9 L330.5 778 L332 780.2 L333.5 782.4 L335 784.7 L336.5 786.9 L338 789.1 L339.5 791.3 L341 793.4 L342.5 795.5 L344 797.4 L345.5 799.3 L347 801 L348.5 802.6 L350 804.2 L351.5 805.6 L353 806.8 L354.5 808 L356 809 L357.5 810 L359 810.8 L360.5 811.6 L362 812.2 L363.5 812.8 L365 813.3 L366.5 813.7 L368 814.1 L369.5 814.4 L371 814.7 L372.5 814.9 L374 815.1 L375.5 815.3 L377 815.4 L378.5 815.5 L380 815.6 L381.5 815.7 L383 815.8 L384.5 815.8 L386 815.9 L387.5 815.9 L389 815.9 L390.5 815.9 L392 815.9 L393.5 816 L395 816 L396.5 816 L398 816 L399.5 816 L401 816 L402.5 816 L404 816 L405.5 816 L407 816 L408.5 816 L410 816 L411.5 816 L413 816 L414.5 816 L416 816 L417.5 816 L419 816 L420.5 816 L422 816 L423.5 816 L425 816 L426.5 816 L428 816 L429.5 816 L431 816 L432.5 816 L434 816 L435.5 816 L437 816 L438.5 816 L440 816 L441.5 816 L443 816 L444.5 816 L446 816 L447.5 816 L449 816 L450.5 816 L452 816 L453.5 816 L455 816 L456.5 816 L458 816 L459.5 816 L461 816 L462.5 816 L464 816 L465.5 816 L467 816 L468.5 816 L470 816 L471.5 816 L473 816 L474.5 816 L476 816 L477.5 816 L479 816 L480.5 816 L482 816 L483.5 816 L485 816 L486.5 816 L488 816 L489.5 816 L491 816 L492.5 816 L494 816 L495.5 816 L497 816 L498.5 816 L500 816 L501.5 816 L503 816 L504.5 816 L506 816 L507.5 816 L509 816 L510.5 816 L512 816 L513.5 816 L515 816 L516.5 816 L518 816 L519.5 816 L521 816 L522.5 816 L524 816 L525.5 816 L527 816 L528.5 816 L530 816 L531.5 816 L533 816 L534.5 816 L536 816 L537.5 816 L539 816 L540.5 816 L542 816 L543.5 816 L545 816 L546.5 816 L548 816 L549.5 816 L551 816 L552.5 816 L554 816 L555.5 816 L557 816 L558.5 816 L560 816 L561.5 816 L563 816 L564.5 816 L566 816 L567.5 816 L569 816 L570.5 816 L572 816 L573.5 816 L575 816 L576.5 816 L578 816 L579.5 816 L580.7 816" fill="none" stroke="#ff9a9a" stroke-width="2.4" stroke-linejoin="round" stroke-linecap="round"/>
<path d="M324.5 817.2 L324.5 816 L326 815.9 L327.5 815.9 L329 815.9 L330.5 815.9 L332 815.8 L333.5 815.8 L335 815.7 L336.5 815.7 L338 815.6 L339.5 815.5 L341 815.3 L342.5 815.2 L344 815 L345.5 814.7 L347 814.4 L348.5 814.1 L350 813.7 L351.5 813.2 L353 812.7 L354.5 812 L356 811.3 L357.5 810.5 L359 809.6 L360.5 808.5 L362 807.4 L363.5 806.1 L365 804.8 L366.5 803.3 L368 801.7 L369.5 800 L371 798.2 L372.5 796.3 L374 794.4 L375.5 792.4 L377 790.4 L378.5 788.4 L380 786.4 L381.5 784.5 L383 782.6 L384.5 780.9 L386 779.3 L387.5 777.8 L389 776.6 L390.5 775.5 L392 774.7 L393.5 774 L395 773.7 L396.5 773.6 L398 773.8 L399.5 774.2 L401 774.9 L402.5 775.8 L404 776.9 L405.5 778.2 L407 779.7 L408.5 781.4 L410 783.1 L411.5 785 L413 787 L414.5 788.9 L416 791 L417.5 793 L419 794.9 L420.5 796.8 L422 798.7 L423.5 800.5 L425 802.1 L426.5 803.7 L428 805.1 L429.5 806.5 L431 807.7 L432.5 808.8 L434 809.8 L435.5 810.7 L437 811.5 L438.5 812.2 L440 812.8 L441.5 813.3 L443 813.8 L444.5 814.2 L446 814.5 L447.5 814.8 L449 815 L450.5 815.2 L452 815.4 L453.5 815.5 L455 815.6 L456.5 815.7 L458 815.8 L459.5 815.8 L461 815.9 L462.5 815.9 L464 815.9 L465.5 815.9 L467 816 L468.5 816 L468.5 817.2 Z" fill="url(#gB)"/>
<path d="M41 816.7 L45.5 813.7 L50 819.1 L54.5 814 L59 813.4 L63.5 810.5 L68 813.6 L72.5 812.1 L77 813.9 L81.5 813.9 L86 813.3 L90.5 817.1 L95 818.8 L99.5 817.2 L104 814 L108.5 812.1 L113 814.8 L117.5 821.5 L122 817 L126.5 814.2 L131 813.1 L135.5 811.6 L140 811.1 L144.5 812.9 L149 817.9 L153.5 816.3 L158 814.2 L162.5 810.2 L167 813.1 L171.5 813.7 L176 810.8 L180.5 809.8 L185 811.9 L189.5 815.3 L194 815.2 L198.5 813.3 L203 810.1 L207.5 809.6 L212 807.5 L216.5 811.4 L221 803.4 L225.5 800.6 L230 802.3 L234.5 797.7 L239 798.4 L243.5 793.2 L248 789.2 L252.5 783.9 L257 776.6 L261.5 772 L266 775.6 L270.5 770.2 L275 764.3 L279.5 758.8 L284 751.4 L288.5 745.2 L293 735.1 L297.5 726.9 L302 722.8 L306.5 714.1 L311 704.5 L315.5 700.3 L320 695.2 L324.5 693.8 L329 687.9 L333.5 682.9 L338 681.5 L342.5 685.3 L347 683.2 L351.5 684 L356 686.2 L360.5 691.3 L365 699.5 L369.5 709.1 L374 710.3 L378.5 723.2 L383 730.1 L387.5 736.6 L392 750.7 L396.5 754.3 L401 765.2 L405.5 771.4 L410 772.7 L414.5 780.7 L419 788 L423.5 791.8 L428 790.2 L432.5 796.7 L437 801.8 L441.5 803.2 L446 812.6 L450.5 812.2 L455 812.1 L459.5 812.4 L464 811.4 L468.5 811.1 L473 813.2 L477.5 814.8 L482 813.4 L486.5 813.9 L491 810.8 L495.5 814.4 L500 812.8 L504.5 814.6 L509 812.5 L513.5 812.6 L518 814.5 L522.5 811.6 L527 819.9 L531.5 817.1 L536 815.8 L540.5 813.4 L545 818.4 L549.5 820.2 L554 818.1 L558.5 812.8 L563 812.7 L567.5 815.6 L572 813.9 L576.5 811.4 L580.7 810.3" fill="none" stroke="#c4c4c4" stroke-width="3" stroke-linejoin="round" stroke-linecap="round"/>
<path d="M41 815.7 L42.5 815.7 L44 815.7 L45.5 815.7 L47 815.7 L48.5 815.7 L50 815.7 L51.5 815.7 L53 815.7 L54.5 815.7 L56 815.7 L57.5 815.7 L59 815.7 L60.5 815.7 L62 815.7 L63.5 815.7 L65 815.7 L66.5 815.7 L68 815.7 L69.5 815.7 L71 815.7 L72.5 815.7 L74 815.7 L75.5 815.7 L77 815.7 L78.5 815.7 L80 815.7 L81.5 815.7 L83 815.7 L84.5 815.7 L86 815.7 L87.5 815.7 L89 815.7 L90.5 815.7 L92 815.7 L93.5 815.7 L95 815.7 L96.5 815.7 L98 815.7 L99.5 815.7 L101 815.7 L102.5 815.7 L104 815.7 L105.5 815.7 L107 815.7 L108.5 815.7 L110 815.7 L111.5 815.7 L113 815.7 L114.5 815.6 L116 815.6 L117.5 815.6 L119 815.6 L120.5 815.6 L122 815.6 L123.5 815.6 L125 815.6 L126.5 815.6 L128 815.6 L129.5 815.6 L131 815.5 L132.5 815.5 L134 815.5 L135.5 815.5 L137 815.5 L138.5 815.5 L140 815.5 L141.5 815.4 L143 815.4 L144.5 815.4 L146 815.4 L147.5 815.3 L149 815.3 L150.5 815.3 L152 815.2 L153.5 815.2 L155 815.1 L156.5 815.1 L158 815 L159.5 814.9 L161 814.9 L162.5 814.8 L164 814.7 L165.5 814.6 L167 814.6 L168.5 814.5 L170 814.5 L171.5 814.4 L173 814.4 L174.5 814.3 L176 814.3 L177.5 814.3 L179 814.2 L180.5 814.2 L182 814.2 L183.5 814.1 L185 814 L186.5 813.9 L188 813.8 L189.5 813.6 L191 813.4 L192.5 813.1 L194 812.8 L195.5 812.5 L197 812.1 L198.5 811.7 L200 811.2 L201.5 810.7 L203 810.2 L204.5 809.8 L206 809.3 L207.5 808.8 L209 808.3 L210.5 807.7 L212 807.2 L213.5 806.7 L215 806.1 L216.5 805.6 L218 805 L219.5 804.4 L221 803.8 L222.5 803.1 L224 802.4 L225.5 801.8 L227 801 L228.5 800.3 L230 799.5 L231.5 798.8 L233 798 L234.5 797.1 L236 796.3 L237.5 795.4 L239 794.5 L240.5 793.5 L242 792.5 L243.5 791.5 L245 790.4 L246.5 789.3 L248 788.1 L249.5 786.9 L251 785.6 L252.5 784.3 L254 783 L255.5 781.7 L257 780.4 L258.5 779 L260 777.6 L261.5 776.2 L263 774.8 L264.5 773.3 L266 771.7 L267.5 770.1 L269 768.5 L270.5 766.8 L272 765 L273.5 763.1 L275 761.2 L276.5 759.2 L278 757.1 L279.5 754.9 L281 752.7 L282.5 750.5 L284 748.2 L285.5 745.9 L287 743.5 L288.5 741.1 L290 738.7 L291.5 736.4 L293 734 L294.5 731.6 L296 729.3 L297.5 727 L299 724.7 L300.5 722.5 L302 720.3 L303.5 718.1 L305 715.9 L306.5 713.9 L308 711.8 L309.5 709.8 L311 707.9 L312.5 706 L314 704.2 L315.5 702.4 L317 700.8 L318.5 699.1 L320 697.6 L321.5 696.1 L323 694.6 L324.5 693.3 L326 692 L327.5 690.7 L329 689.5 L330.5 688.4 L332 687.3 L333.5 686.4 L335 685.5 L336.5 684.6 L338 683.9 L339.5 683.3 L341 682.8 L342.5 682.4 L344 682.1 L345.5 682 L347 682 L348.5 682.2 L350 682.6 L351.5 683.1 L353 683.8 L354.5 684.7 L356 685.8 L357.5 687.1 L359 688.6 L360.5 690.3 L362 692.3 L363.5 694.3 L365 696.6 L366.5 699 L368 701.5 L369.5 704.2 L371 706.9 L372.5 709.6 L374 712.4 L375.5 715.1 L377 717.9 L378.5 720.6 L380 723.4 L381.5 726.2 L383 728.9 L384.5 731.6 L386 734.3 L387.5 736.9 L389 739.5 L390.5 742.1 L392 744.6 L393.5 747.1 L395 749.6 L396.5 752 L398 754.4 L399.5 756.8 L401 759.1 L402.5 761.5 L404 763.8 L405.5 766.1 L407 768.4 L408.5 770.7 L410 773 L411.5 775.2 L413 777.4 L414.5 779.5 L416 781.6 L417.5 783.6 L419 785.6 L420.5 787.5 L422 789.3 L423.5 791.1 L425 792.7 L426.5 794.4 L428 795.9 L429.5 797.4 L431 798.8 L432.5 800.2 L434 801.4 L435.5 802.7 L437 803.8 L438.5 805 L440 806 L441.5 807 L443 807.9 L444.5 808.8 L446 809.5 L447.5 810.3 L449 810.9 L450.5 811.5 L452 812 L453.5 812.4 L455 812.7 L456.5 813.1 L458 813.3 L459.5 813.5 L461 813.7 L462.5 813.8 L464 814 L465.5 814.1 L467 814.1 L468.5 814.2 L470 814.3 L471.5 814.3 L473 814.4 L474.5 814.4 L476 814.5 L477.5 814.5 L479 814.5 L480.5 814.6 L482 814.6 L483.5 814.6 L485 814.7 L486.5 814.7 L488 814.7 L489.5 814.8 L491 814.8 L492.5 814.8 L494 814.8 L495.5 814.9 L497 814.9 L498.5 814.9 L500 814.9 L501.5 815 L503 815 L504.5 815 L506 815 L507.5 815 L509 815 L510.5 815 L512 815 L513.5 815 L515 815 L516.5 815 L518 815 L519.5 815 L521 815 L522.5 815 L524 815 L525.5 815 L527 815 L528.5 815 L530 815 L531.5 815 L533 815 L534.5 815 L536 815 L537.5 815 L539 815 L540.5 815 L542 815 L543.5 815 L545 815 L546.5 815 L548 815 L549.5 815 L551 815 L552.5 815 L554 815 L555.5 815 L557 815 L558.5 815 L560 815 L561.5 815 L563 815 L564.5 815 L566 815 L567.5 815 L569 815 L570.5 815 L572 815 L573.5 815 L575 815 L576.5 815 L578 815 L579.5 815 L580.7 815" fill="none" stroke="#000080" stroke-width="2.8" stroke-linejoin="round" stroke-linecap="butt" stroke-dasharray="6.2 4.4"/>
<path d="M41 816 L42.5 816 L44 816 L45.5 816 L47 816 L48.5 816 L50 816 L51.5 816 L53 816 L54.5 816 L56 816 L57.5 816 L59 816 L60.5 816 L62 816 L63.5 816 L65 816 L66.5 816 L68 816 L69.5 816 L71 816 L72.5 816 L74 816 L75.5 816 L77 816 L78.5 816 L80 816 L81.5 816 L83 816 L84.5 816 L86 816 L87.5 816 L89 816 L90.5 816 L92 816 L93.5 816 L95 816 L96.5 816 L98 816 L99.5 816 L101 816 L102.5 816 L104 816 L105.5 816 L107 816 L108.5 816 L110 816 L111.5 816 L113 816 L114.5 816 L116 816 L117.5 816 L119 816 L120.5 816 L122 816 L123.5 816 L125 816 L126.5 816 L128 816 L129.5 816 L131 816 L132.5 816 L134 816 L135.5 816 L137 816 L138.5 816 L140 816 L141.5 816 L143 816 L144.5 816 L146 816 L147.5 816 L149 816 L150.5 816 L152 816 L153.5 816 L155 816 L156.5 816 L158 816 L159.5 816 L161 816 L162.5 816 L164 816 L165.5 816 L167 816 L168.5 816 L170 816 L171.5 816 L173 816 L174.5 816 L176 816 L177.5 816 L179 816 L180.5 816 L182 816 L183.5 816 L185 816 L186.5 816 L188 816 L189.5 816 L191 816 L192.5 816 L194 816 L195.5 816 L197 816 L198.5 816 L200 816 L201.5 816 L203 816 L204.5 816 L206 816 L207.5 816 L209 816 L210.5 816 L212 816 L213.5 816 L215 816 L216.5 816 L218 816 L219.5 816 L221 816 L222.5 816 L224 816 L225.5 816 L227 816 L228.5 816 L230 816 L231.5 816 L233 816 L234.5 816 L236 816 L237.5 816 L239 816 L240.5 816 L242 816 L243.5 816 L245 816 L246.5 816 L248 816 L249.5 816 L251 816 L252.5 816 L254 816 L255.5 816 L257 816 L258.5 816 L260 816 L261.5 816 L263 816 L264.5 816 L266 816 L267.5 816 L269 816 L270.5 816 L272 816 L273.5 816 L275 816 L276.5 816 L278 816 L279.5 816 L281 816 L282.5 816 L284 816 L285.5 816 L287 815.9 L288.5 815.9 L290 815.9 L291.5 815.9 L293 815.9 L294.5 815.8 L296 815.8 L297.5 815.8 L299 815.7 L300.5 815.6 L302 815.5 L303.5 815.5 L305 815.3 L306.5 815.2 L308 815.1 L309.5 814.9 L311 814.7 L312.5 814.4 L314 814.2 L315.5 813.9 L317 813.6 L318.5 813.2 L320 812.8 L321.5 812.3 L323 811.8 L324.5 811.3 L326 810.7 L327.5 810.1 L329 809.5 L330.5 808.8 L332 808.1 L333.5 807.3 L335 806.6 L336.5 805.8 L338 805 L339.5 804.2 L341 803.4 L342.5 802.7 L344 801.9 L345.5 801.2 L347 800.6 L348.5 800 L350 799.4 L351.5 799 L353 798.6 L354.5 798.2 L356 798 L357.5 797.9 L359 797.8 L360.5 797.8 L362 798 L363.5 798.2 L365 798.5 L366.5 798.9 L368 799.4 L369.5 799.9 L371 800.5 L372.5 801.2 L374 801.9 L375.5 802.6 L377 803.3 L378.5 804.1 L380 804.9 L381.5 805.7 L383 806.5 L384.5 807.2 L386 808 L387.5 808.7 L389 809.4 L390.5 810 L392 810.7 L393.5 811.2 L395 811.8 L396.5 812.3 L398 812.7 L399.5 813.1 L401 813.5 L402.5 813.8 L404 814.1 L405.5 814.4 L407 814.7 L408.5 814.9 L410 815 L411.5 815.2 L413 815.3 L414.5 815.4 L416 815.5 L417.5 815.6 L419 815.7 L420.5 815.7 L422 815.8 L423.5 815.8 L425 815.9 L426.5 815.9 L428 815.9 L429.5 815.9 L431 815.9 L432.5 816 L434 816 L435.5 816 L437 816 L438.5 816 L440 816 L441.5 816 L443 816 L444.5 816 L446 816 L447.5 816 L449 816 L450.5 816 L452 816 L453.5 816 L455 816 L456.5 816 L458 816 L459.5 816 L461 816 L462.5 816 L464 816 L465.5 816 L467 816 L468.5 816 L470 816 L471.5 816 L473 816 L474.5 816 L476 816 L477.5 816 L479 816 L480.5 816 L482 816 L483.5 816 L485 816 L486.5 816 L488 816 L489.5 816 L491 816 L492.5 816 L494 816 L495.5 816 L497 816 L498.5 816 L500 816 L501.5 816 L503 816 L504.5 816 L506 816 L507.5 816 L509 816 L510.5 816 L512 816 L513.5 816 L515 816 L516.5 816 L518 816 L519.5 816 L521 816 L522.5 816 L524 816 L525.5 816 L527 816 L528.5 816 L530 816 L531.5 816 L533 816 L534.5 816 L536 816 L537.5 816 L539 816 L540.5 816 L542 816 L543.5 816 L545 816 L546.5 816 L548 816 L549.5 816 L551 816 L552.5 816 L554 816 L555.5 816 L557 816 L558.5 816 L560 816 L561.5 816 L563 816 L564.5 816 L566 816 L567.5 816 L569 816 L570.5 816 L572 816 L573.5 816 L575 816 L576.5 816 L578 816 L579.5 816 L580.7 816" fill="none" stroke="#14a0ff" stroke-width="2.8" stroke-linejoin="round" stroke-linecap="round"/>
<path d="M191 963.4 L191 962.1 L192.5 962.1 L194 962.1 L195.5 962.1 L197 962.1 L198.5 962.1 L200 962.1 L201.5 962.1 L203 962.1 L204.5 962.1 L206 962 L207.5 962 L209 962 L210.5 961.9 L212 961.9 L213.5 961.8 L215 961.7 L216.5 961.7 L218 961.6 L219.5 961.5 L221 961.3 L222.5 961.2 L224 961.1 L225.5 960.9 L227 960.7 L228.5 960.5 L230 960.2 L231.5 960 L233 959.7 L234.5 959.4 L236 959 L237.5 958.6 L239 958.2 L240.5 957.8 L242 957.3 L243.5 956.8 L245 956.2 L246.5 955.6 L248 955 L249.5 954.3 L251 953.7 L252.5 952.9 L254 952.2 L255.5 951.4 L257 950.7 L258.5 949.9 L260 949 L261.5 948.2 L263 947.4 L264.5 946.5 L266 945.7 L267.5 944.9 L269 944.1 L270.5 943.3 L272 942.6 L273.5 941.9 L275 941.2 L276.5 940.6 L278 940 L279.5 939.5 L281 939 L282.5 938.6 L284 938.3 L285.5 938 L287 937.8 L288.5 937.7 L290 937.7 L291.5 937.7 L293 937.9 L294.5 938.1 L296 938.3 L297.5 938.7 L299 939.1 L300.5 939.6 L302 940.1 L303.5 940.7 L305 941.3 L306.5 942 L308 942.8 L309.5 943.5 L311 944.3 L312.5 945.1 L314 946 L315.5 946.8 L317 947.7 L318.5 948.5 L320 949.3 L321.5 950.2 L323 951 L324.5 951.8 L326 952.6 L327.5 953.3 L329 954.1 L330.5 954.7 L332 955.4 L333.5 956.1 L335 956.7 L336.5 957.2 L338 957.7 L339.5 958.2 L341 958.7 L342.5 959.1 L344 959.5 L345.5 959.9 L347 960.2 L348.5 960.6 L350 960.8 L351.5 961.1 L353 961.3 L354.5 961.5 L356 961.7 L357.5 961.9 L359 962 L360.5 962.2 L362 962.3 L363.5 962.4 L365 962.5 L366.5 962.6 L368 962.7 L369.5 962.7 L371 962.8 L372.5 962.8 L374 962.9 L375.5 962.9 L377 962.9 L378.5 963 L380 963 L381.5 963 L383 963 L384.5 963.1 L386 963.1 L387.5 963.1 L389 963.1 L389 964.3 Z" fill="url(#gM)"/>
<path d="M41 961.4 L42.5 961.4 L44 961.4 L45.5 961.4 L47 961.4 L48.5 961.4 L50 961.4 L51.5 961.5 L53 961.5 L54.5 961.5 L56 961.5 L57.5 961.5 L59 961.5 L60.5 961.5 L62 961.5 L63.5 961.5 L65 961.5 L66.5 961.5 L68 961.5 L69.5 961.5 L71 961.6 L72.5 961.6 L74 961.6 L75.5 961.6 L77 961.6 L78.5 961.6 L80 961.6 L81.5 961.6 L83 961.6 L84.5 961.6 L86 961.6 L87.5 961.6 L89 961.6 L90.5 961.6 L92 961.7 L93.5 961.7 L95 961.7 L96.5 961.7 L98 961.7 L99.5 961.7 L101 961.7 L102.5 961.7 L104 961.7 L105.5 961.7 L107 961.7 L108.5 961.7 L110 961.7 L111.5 961.8 L113 961.8 L114.5 961.8 L116 961.8 L117.5 961.8 L119 961.8 L120.5 961.8 L122 961.8 L123.5 961.8 L125 961.8 L126.5 961.8 L128 961.8 L129.5 961.8 L131 961.8 L132.5 961.9 L134 961.9 L135.5 961.9 L137 961.9 L138.5 961.9 L140 961.9 L141.5 961.9 L143 961.9 L144.5 961.9 L146 961.9 L147.5 961.9 L149 961.9 L150.5 961.9 L152 961.9 L153.5 961.9 L155 961.9 L156.5 962 L158 962 L159.5 962 L161 962 L162.5 962 L164 961.9 L165.5 961.9 L167 961.9 L168.5 961.9 L170 961.9 L171.5 961.9 L173 961.9 L174.5 961.8 L176 961.8 L177.5 961.8 L179 961.7 L180.5 961.7 L182 961.6 L183.5 961.6 L185 961.5 L186.5 961.4 L188 961.3 L189.5 961.2 L191 961.1 L192.5 961 L194 960.8 L195.5 960.7 L197 960.5 L198.5 960.3 L200 960.1 L201.5 959.8 L203 959.6 L204.5 959.3 L206 959 L207.5 958.7 L209 958.4 L210.5 958.1 L212 957.7 L213.5 957.4 L215 957 L216.5 956.6 L218 956.2 L219.5 955.7 L221 955.3 L222.5 954.8 L224 954.4 L225.5 953.9 L227 953.5 L228.5 953.1 L230 952.6 L231.5 952.2 L233 951.8 L234.5 951.4 L236 951 L237.5 950.6 L239 950.3 L240.5 950 L242 949.7 L243.5 949.5 L245 949.3 L246.5 949.2 L248 949 L249.5 948.9 L251 948.9 L252.5 948.9 L254 948.9 L255.5 949 L257 949.2 L258.5 949.3 L260 949.5 L261.5 949.8 L263 950 L264.5 950.3 L266 950.7 L267.5 951 L269 951.4 L270.5 951.8 L272 952.3 L273.5 952.7 L275 953.1 L276.5 953.6 L278 954.1 L279.5 954.5 L281 955 L282.5 955.4 L284 955.9 L285.5 956.3 L287 956.8 L288.5 957.2 L290 957.6 L291.5 958 L293 958.4 L294.5 958.7 L296 959.1 L297.5 959.4 L299 959.7 L300.5 960 L302 960.3 L303.5 960.5 L305 960.7 L306.5 961 L308 961.2 L309.5 961.3 L311 961.5 L312.5 961.7 L314 961.8 L315.5 961.9 L317 962 L318.5 962.1 L320 962.2 L321.5 962.3 L323 962.4 L324.5 962.4 L326 962.5 L327.5 962.6 L329 962.6 L330.5 962.7 L332 962.7 L333.5 962.7 L335 962.8 L336.5 962.8 L338 962.8 L339.5 962.8 L341 962.8 L342.5 962.9 L344 962.9 L345.5 962.9 L347 962.9 L348.5 962.9 L350 962.9 L351.5 962.9 L353 962.9 L354.5 963 L356 963 L357.5 963 L359 963 L360.5 963 L362 963 L363.5 963 L365 963 L366.5 963 L368 963 L369.5 963 L371 963.1 L372.5 963.1 L374 963.1 L375.5 963.1 L377 963.1 L378.5 963.1 L380 963.1 L381.5 963.1 L383 963.1 L384.5 963.1 L386 963.1 L387.5 963.1 L389 963.1 L390.5 963.1 L392 963.2 L393.5 963.2 L395 963.2 L396.5 963.2 L398 963.2 L399.5 963.2 L401 963.2 L402.5 963.2 L404 963.2 L405.5 963.2 L407 963.2 L408.5 963.2 L410 963.2 L411.5 963.3 L413 963.3 L414.5 963.3 L416 963.3 L417.5 963.3 L419 963.3 L420.5 963.3 L422 963.3 L423.5 963.3 L425 963.3 L426.5 963.3 L428 963.3 L429.5 963.3 L431 963.4 L432.5 963.4 L434 963.4 L435.5 963.4 L437 963.4 L438.5 963.4 L440 963.4 L441.5 963.4 L443 963.4 L444.5 963.4 L446 963.4 L447.5 963.4 L449 963.4 L450.5 963.4 L452 963.5 L453.5 963.5 L455 963.5 L456.5 963.5 L458 963.5 L459.5 963.5 L461 963.5 L462.5 963.5 L464 963.5 L465.5 963.5 L467 963.5 L468.5 963.5 L470 963.5 L471.5 963.6 L473 963.6 L474.5 963.6 L476 963.6 L477.5 963.6 L479 963.6 L480.5 963.6 L482 963.6 L483.5 963.6 L485 963.6 L486.5 963.6 L488 963.6 L489.5 963.6 L491 963.7 L492.5 963.7 L494 963.7 L495.5 963.7 L497 963.7 L498.5 963.7 L500 963.7 L501.5 963.7 L503 963.7 L504.5 963.7 L506 963.7 L507.5 963.7 L509 963.7 L510.5 963.7 L512 963.8 L513.5 963.8 L515 963.8 L516.5 963.8 L518 963.8 L519.5 963.8 L521 963.8 L522.5 963.8 L524 963.8 L525.5 963.8 L527 963.8 L528.5 963.8 L530 963.8 L531.5 963.9 L533 963.9 L534.5 963.9 L536 963.9 L537.5 963.9 L539 963.9 L540.5 963.9 L542 963.9 L543.5 963.9 L545 963.9 L546.5 963.9 L548 963.9 L549.5 963.9 L551 964 L552.5 964 L554 964 L555.5 964 L557 964 L558.5 964 L560 964 L561.5 964 L563 964 L564.5 964 L566 964 L567.5 964 L569 964 L570.5 964 L572 964.1 L573.5 964.1 L575 964.1 L576.5 964.1 L578 964.1 L579.5 964.1 L580.7 964.1" fill="none" stroke="#00dc00" stroke-width="2.6" stroke-linejoin="round" stroke-linecap="round"/>
<path d="M234.5 963.6 L234.5 962.3 L236 962.3 L237.5 962.3 L239 962.3 L240.5 962.3 L242 962.3 L243.5 962.3 L245 962.3 L246.5 962.3 L248 962.3 L249.5 962.3 L251 962.2 L252.5 962.2 L254 962.2 L255.5 962.1 L257 962.1 L258.5 962 L260 961.9 L261.5 961.8 L263 961.7 L264.5 961.6 L266 961.5 L267.5 961.3 L269 961.1 L270.5 961 L272 960.7 L273.5 960.5 L275 960.2 L276.5 959.9 L278 959.6 L279.5 959.2 L281 958.7 L282.5 958.3 L284 957.8 L285.5 957.2 L287 956.6 L288.5 955.9 L290 955.2 L291.5 954.4 L293 953.6 L294.5 952.7 L296 951.7 L297.5 950.6 L299 949.5 L300.5 948.4 L302 947.1 L303.5 945.8 L305 944.4 L306.5 943 L308 941.5 L309.5 939.9 L311 938.3 L312.5 936.7 L314 935 L315.5 933.2 L317 931.5 L318.5 929.7 L320 927.8 L321.5 926 L323 924.2 L324.5 922.4 L326 920.6 L327.5 918.8 L329 917.1 L330.5 915.4 L332 913.8 L333.5 912.3 L335 910.8 L336.5 909.4 L338 908.2 L339.5 907 L341 906 L342.5 905.1 L344 904.3 L345.5 903.6 L347 903.1 L348.5 902.8 L350 902.6 L351.5 902.5 L353 902.6 L354.5 902.8 L356 903.2 L357.5 903.8 L359 904.4 L360.5 905.3 L362 906.2 L363.5 907.3 L365 908.5 L366.5 909.8 L368 911.2 L369.5 912.7 L371 914.2 L372.5 915.9 L374 917.5 L375.5 919.3 L377 921.1 L378.5 922.9 L380 924.7 L381.5 926.6 L383 928.4 L384.5 930.2 L386 932 L387.5 933.8 L389 935.6 L390.5 937.3 L392 939 L393.5 940.6 L395 942.1 L396.5 943.7 L398 945.1 L399.5 946.5 L401 947.8 L402.5 949 L404 950.2 L405.5 951.3 L407 952.4 L408.5 953.4 L410 954.3 L411.5 955.1 L413 955.9 L414.5 956.7 L416 957.3 L417.5 957.9 L419 958.5 L420.5 959 L422 959.5 L423.5 959.9 L425 960.3 L426.5 960.7 L428 961 L429.5 961.3 L431 961.6 L432.5 961.8 L434 962 L435.5 962.2 L437 962.3 L438.5 962.5 L440 962.6 L441.5 962.7 L443 962.8 L444.5 962.9 L446 963 L447.5 963.1 L449 963.1 L450.5 963.2 L452 963.2 L453.5 963.3 L455 963.3 L456.5 963.3 L458 963.4 L459.5 963.4 L461 963.4 L462.5 963.4 L464 963.5 L465.5 963.5 L467 963.5 L467 964.7 Z" fill="url(#gR)"/>
<path d="M41 961.4 L42.5 961.4 L44 961.4 L45.5 961.4 L47 961.4 L48.5 961.4 L50 961.4 L51.5 961.5 L53 961.5 L54.5 961.5 L56 961.5 L57.5 961.5 L59 961.5 L60.5 961.5 L62 961.5 L63.5 961.5 L65 961.5 L66.5 961.5 L68 961.5 L69.5 961.5 L71 961.6 L72.5 961.6 L74 961.6 L75.5 961.6 L77 961.6 L78.5 961.6 L80 961.6 L81.5 961.6 L83 961.6 L84.5 961.6 L86 961.6 L87.5 961.6 L89 961.6 L90.5 961.6 L92 961.7 L93.5 961.7 L95 961.7 L96.5 961.7 L98 961.7 L99.5 961.7 L101 961.7 L102.5 961.7 L104 961.7 L105.5 961.7 L107 961.7 L108.5 961.7 L110 961.7 L111.5 961.8 L113 961.8 L114.5 961.8 L116 961.8 L117.5 961.8 L119 961.8 L120.5 961.8 L122 961.8 L123.5 961.8 L125 961.8 L126.5 961.8 L128 961.8 L129.5 961.8 L131 961.9 L132.5 961.9 L134 961.9 L135.5 961.9 L137 961.9 L138.5 961.9 L140 961.9 L141.5 961.9 L143 961.9 L144.5 961.9 L146 961.9 L147.5 961.9 L149 961.9 L150.5 961.9 L152 962 L153.5 962 L155 962 L156.5 962 L158 962 L159.5 962 L161 962 L162.5 962 L164 962 L165.5 962 L167 962 L168.5 962 L170 962 L171.5 962.1 L173 962.1 L174.5 962.1 L176 962.1 L177.5 962.1 L179 962.1 L180.5 962.1 L182 962.1 L183.5 962.1 L185 962.1 L186.5 962.1 L188 962.1 L189.5 962.1 L191 962.1 L192.5 962.1 L194 962.2 L195.5 962.2 L197 962.2 L198.5 962.2 L200 962.2 L201.5 962.2 L203 962.2 L204.5 962.2 L206 962.2 L207.5 962.2 L209 962.2 L210.5 962.1 L212 962.1 L213.5 962.1 L215 962.1 L216.5 962.1 L218 962 L219.5 962 L221 962 L222.5 961.9 L224 961.9 L225.5 961.8 L227 961.7 L228.5 961.7 L230 961.6 L231.5 961.5 L233 961.4 L234.5 961.2 L236 961.1 L237.5 960.9 L239 960.7 L240.5 960.5 L242 960.3 L243.5 960 L245 959.8 L246.5 959.5 L248 959.1 L249.5 958.8 L251 958.4 L252.5 958 L254 957.5 L255.5 957.1 L257 956.5 L258.5 956 L260 955.4 L261.5 954.8 L263 954.1 L264.5 953.4 L266 952.7 L267.5 952 L269 951.2 L270.5 950.4 L272 949.5 L273.5 948.7 L275 947.8 L276.5 946.9 L278 945.9 L279.5 945 L281 944.1 L282.5 943.1 L284 942.2 L285.5 941.3 L287 940.4 L288.5 939.5 L290 938.6 L291.5 937.8 L293 937 L294.5 936.2 L296 935.5 L297.5 934.8 L299 934.2 L300.5 933.6 L302 933.1 L303.5 932.7 L305 932.3 L306.5 932 L308 931.8 L309.5 931.7 L311 931.6 L312.5 931.6 L314 931.7 L315.5 931.9 L317 932.1 L318.5 932.4 L320 932.8 L321.5 933.3 L323 933.8 L324.5 934.4 L326 935.1 L327.5 935.8 L329 936.5 L330.5 937.3 L332 938.1 L333.5 939 L335 939.9 L336.5 940.8 L338 941.7 L339.5 942.7 L341 943.6 L342.5 944.6 L344 945.5 L345.5 946.5 L347 947.4 L348.5 948.3 L350 949.2 L351.5 950.1 L353 950.9 L354.5 951.8 L356 952.6 L357.5 953.3 L359 954 L360.5 954.7 L362 955.4 L363.5 956 L365 956.6 L366.5 957.2 L368 957.7 L369.5 958.2 L371 958.7 L372.5 959.1 L374 959.5 L375.5 959.8 L377 960.2 L378.5 960.5 L380 960.8 L381.5 961 L383 961.3 L384.5 961.5 L386 961.7 L387.5 961.9 L389 962 L390.5 962.2 L392 962.3 L393.5 962.4 L395 962.5 L396.5 962.6 L398 962.7 L399.5 962.8 L401 962.8 L402.5 962.9 L404 962.9 L405.5 963 L407 963 L408.5 963.1 L410 963.1 L411.5 963.1 L413 963.2 L414.5 963.2 L416 963.2 L417.5 963.2 L419 963.2 L420.5 963.3 L422 963.3 L423.5 963.3 L425 963.3 L426.5 963.3 L428 963.3 L429.5 963.3 L431 963.3 L432.5 963.3 L434 963.4 L435.5 963.4 L437 963.4 L438.5 963.4 L440 963.4 L441.5 963.4 L443 963.4 L444.5 963.4 L446 963.4 L447.5 963.4 L449 963.4 L450.5 963.4 L452 963.5 L453.5 963.5 L455 963.5 L456.5 963.5 L458 963.5 L459.5 963.5 L461 963.5 L462.5 963.5 L464 963.5 L465.5 963.5 L467 963.5 L468.5 963.5 L470 963.5 L471.5 963.6 L473 963.6 L474.5 963.6 L476 963.6 L477.5 963.6 L479 963.6 L480.5 963.6 L482 963.6 L483.5 963.6 L485 963.6 L486.5 963.6 L488 963.6 L489.5 963.6 L491 963.7 L492.5 963.7 L494 963.7 L495.5 963.7 L497 963.7 L498.5 963.7 L500 963.7 L501.5 963.7 L503 963.7 L504.5 963.7 L506 963.7 L507.5 963.7 L509 963.7 L510.5 963.7 L512 963.8 L513.5 963.8 L515 963.8 L516.5 963.8 L518 963.8 L519.5 963.8 L521 963.8 L522.5 963.8 L524 963.8 L525.5 963.8 L527 963.8 L528.5 963.8 L530 963.8 L531.5 963.9 L533 963.9 L534.5 963.9 L536 963.9 L537.5 963.9 L539 963.9 L540.5 963.9 L542 963.9 L543.5 963.9 L545 963.9 L546.5 963.9 L548 963.9 L549.5 963.9 L551 964 L552.5 964 L554 964 L555.5 964 L557 964 L558.5 964 L560 964 L561.5 964 L563 964 L564.5 964 L566 964 L567.5 964 L569 964 L570.5 964 L572 964.1 L573.5 964.1 L575 964.1 L576.5 964.1 L578 964.1 L579.5 964.1 L580.7 964.1" fill="none" stroke="#ff9a9a" stroke-width="2.4" stroke-linejoin="round" stroke-linecap="round"/>
<path d="M282.5 963.8 L282.5 962.6 L284 962.6 L285.5 962.6 L287 962.6 L288.5 962.6 L290 962.6 L291.5 962.6 L293 962.5 L294.5 962.5 L296 962.5 L297.5 962.5 L299 962.5 L300.5 962.4 L302 962.4 L303.5 962.3 L305 962.3 L306.5 962.2 L308 962.2 L309.5 962.1 L311 962 L312.5 961.9 L314 961.8 L315.5 961.6 L317 961.5 L318.5 961.3 L320 961.1 L321.5 960.9 L323 960.7 L324.5 960.4 L326 960.1 L327.5 959.8 L329 959.4 L330.5 959.1 L332 958.6 L333.5 958.2 L335 957.7 L336.5 957.2 L338 956.6 L339.5 956 L341 955.3 L342.5 954.6 L344 953.9 L345.5 953.1 L347 952.2 L348.5 951.3 L350 950.4 L351.5 949.5 L353 948.4 L354.5 947.4 L356 946.3 L357.5 945.2 L359 944.1 L360.5 942.9 L362 941.7 L363.5 940.5 L365 939.3 L366.5 938.1 L368 936.9 L369.5 935.6 L371 934.4 L372.5 933.3 L374 932.1 L375.5 931 L377 929.9 L378.5 928.9 L380 927.9 L381.5 927 L383 926.1 L384.5 925.4 L386 924.7 L387.5 924.1 L389 923.5 L390.5 923.1 L392 922.7 L393.5 922.5 L395 922.3 L396.5 922.3 L398 922.3 L399.5 922.5 L401 922.7 L402.5 923 L404 923.4 L405.5 923.9 L407 924.4 L408.5 925.1 L410 925.7 L411.5 926.5 L413 927.3 L414.5 928.1 L416 929 L417.5 929.9 L419 930.8 L420.5 931.7 L422 932.7 L423.5 933.7 L425 934.7 L426.5 935.7 L428 936.6 L429.5 937.6 L431 938.6 L432.5 939.6 L434 940.5 L435.5 941.4 L437 942.3 L438.5 943.2 L440 944.1 L441.5 945 L443 945.8 L444.5 946.6 L446 947.4 L447.5 948.1 L449 948.9 L450.5 949.6 L452 950.2 L453.5 950.9 L455 951.5 L456.5 952.1 L458 952.6 L459.5 953.2 L461 953.7 L462.5 954.2 L464 954.7 L465.5 955.1 L467 955.5 L468.5 955.9 L470 956.3 L471.5 956.7 L473 957 L474.5 957.3 L476 957.6 L477.5 957.9 L479 958.2 L480.5 958.4 L482 958.6 L483.5 958.9 L485 959.1 L486.5 959.3 L488 959.5 L489.5 959.6 L491 959.8 L492.5 960 L494 960.1 L495.5 960.2 L497 960.4 L498.5 960.5 L500 960.6 L501.5 960.7 L503 960.8 L504.5 960.9 L506 961 L507.5 961.1 L509 961.2 L510.5 961.3 L512 961.3 L513.5 961.4 L515 961.5 L516.5 961.5 L518 961.6 L519.5 961.7 L521 961.7 L522.5 961.8 L524 961.8 L525.5 961.9 L527 961.9 L528.5 962 L530 962 L531.5 962.1 L533 962.1 L534.5 962.2 L536 962.2 L537.5 962.3 L539 962.3 L540.5 962.3 L542 962.4 L543.5 962.4 L545 962.4 L546.5 962.5 L548 962.5 L549.5 962.5 L551 962.6 L552.5 962.6 L554 962.6 L555.5 962.7 L557 962.7 L558.5 962.7 L560 962.8 L561.5 962.8 L563 962.8 L564.5 962.8 L566 962.9 L567.5 962.9 L569 962.9 L570.5 963 L572 963 L573.5 963 L575 963 L576.5 963.1 L578 963.1 L579.5 963.1 L580.7 963.1 L580.7 965.3 Z" fill="url(#gB)"/>
<path d="M41 956.4 L45.5 958 L50 956.4 L54.5 958 L59 968.8 L63.5 970 L68 960.4 L72.5 961.1 L77 960.5 L81.5 959.4 L86 963.2 L90.5 960 L95 958.5 L99.5 957.7 L104 958.3 L108.5 963.6 L113 964.2 L117.5 956.8 L122 956.7 L126.5 955.4 L131 960.6 L135.5 960.8 L140 963.2 L144.5 960.9 L149 953.1 L153.5 958.1 L158 959.4 L162.5 960.8 L167 954.9 L171.5 957.1 L176 955.4 L180.5 954.6 L185 957.9 L189.5 959.1 L194 954.6 L198.5 949 L203 942.9 L207.5 946.4 L212 953.2 L216.5 951.2 L221 941.4 L225.5 940.9 L230 943.8 L234.5 948.1 L239 946.5 L243.5 941 L248 935.8 L252.5 926.6 L257 922 L261.5 917.6 L266 911.5 L270.5 909.2 L275 903.8 L279.5 901 L284 900.6 L288.5 894.6 L293 887.5 L297.5 878.7 L302 866.9 L306.5 863.4 L311 861.1 L315.5 851.7 L320 853.2 L324.5 846.3 L329 844.3 L333.5 839.9 L338 833.8 L342.5 842.5 L347 834.8 L351.5 839.5 L356 837.6 L360.5 841.8 L365 842.3 L369.5 846.5 L374 856 L378.5 866.9 L383 864.9 L387.5 870.5 L392 880 L396.5 882.6 L401 892.4 L405.5 895.3 L410 905.4 L414.5 912.9 L419 922.7 L423.5 927.2 L428 926.5 L432.5 935.4 L437 935 L441.5 943.2 L446 951 L450.5 952.3 L455 949.7 L459.5 955.6 L464 955.3 L468.5 950.8 L473 952.5 L477.5 960 L482 957.6 L486.5 958.4 L491 957.3 L495.5 952.3 L500 954.5 L504.5 958.7 L509 960.2 L513.5 959.6 L518 952.4 L522.5 961.4 L527 963.7 L531.5 965.9 L536 968 L540.5 962.7 L545 959.8 L549.5 961.8 L554 967.7 L558.5 958.4 L563 959.5 L567.5 958.3 L572 962.5 L576.5 967.6 L580.7 963.7" fill="none" stroke="#c4c4c4" stroke-width="3" stroke-linejoin="round" stroke-linecap="round"/>
<path d="M41 959.2 L42.5 959.2 L44 959.2 L45.5 959.2 L47 959.2 L48.5 959.2 L50 959.3 L51.5 959.3 L53 959.3 L54.5 959.3 L56 959.3 L57.5 959.3 L59 959.3 L60.5 959.3 L62 959.3 L63.5 959.3 L65 959.3 L66.5 959.4 L68 959.4 L69.5 959.4 L71 959.4 L72.5 959.4 L74 959.4 L75.5 959.4 L77 959.4 L78.5 959.4 L80 959.4 L81.5 959.4 L83 959.4 L84.5 959.4 L86 959.5 L87.5 959.5 L89 959.5 L90.5 959.5 L92 959.5 L93.5 959.5 L95 959.5 L96.5 959.5 L98 959.5 L99.5 959.5 L101 959.5 L102.5 959.5 L104 959.5 L105.5 959.5 L107 959.5 L108.5 959.5 L110 959.5 L111.5 959.5 L113 959.5 L114.5 959.5 L116 959.5 L117.5 959.5 L119 959.5 L120.5 959.5 L122 959.5 L123.5 959.5 L125 959.5 L126.5 959.5 L128 959.5 L129.5 959.5 L131 959.5 L132.5 959.5 L134 959.5 L135.5 959.5 L137 959.5 L138.5 959.5 L140 959.4 L141.5 959.4 L143 959.4 L144.5 959.4 L146 959.4 L147.5 959.4 L149 959.3 L150.5 959.3 L152 959.3 L153.5 959.2 L155 959.2 L156.5 959.1 L158 959.1 L159.5 959 L161 959 L162.5 958.9 L164 958.8 L165.5 958.8 L167 958.7 L168.5 958.6 L170 958.6 L171.5 958.6 L173 958.5 L174.5 958.5 L176 958.5 L177.5 958.5 L179 958.5 L180.5 958.5 L182 958.4 L183.5 958.4 L185 958.4 L186.5 958.3 L188 958.2 L189.5 958 L191 957.9 L192.5 957.6 L194 957.4 L195.5 957.1 L197 956.7 L198.5 956.4 L200 956 L201.5 955.6 L203 955.2 L204.5 954.8 L206 954.4 L207.5 953.9 L209 953.5 L210.5 953.1 L212 952.6 L213.5 952.1 L215 951.7 L216.5 951.2 L218 950.6 L219.5 950.1 L221 949.5 L222.5 948.9 L224 948.3 L225.5 947.6 L227 946.9 L228.5 946.1 L230 945.4 L231.5 944.5 L233 943.7 L234.5 942.8 L236 941.8 L237.5 940.9 L239 939.9 L240.5 938.9 L242 937.8 L243.5 936.7 L245 935.6 L246.5 934.4 L248 933.2 L249.5 931.9 L251 930.6 L252.5 929.2 L254 927.8 L255.5 926.3 L257 924.8 L258.5 923.3 L260 921.7 L261.5 920.1 L263 918.5 L264.5 916.9 L266 915.4 L267.5 913.8 L269 912.3 L270.5 910.7 L272 909.1 L273.5 907.5 L275 905.9 L276.5 904.2 L278 902.5 L279.5 900.8 L281 899 L282.5 897.1 L284 895.3 L285.5 893.4 L287 891.5 L288.5 889.5 L290 887.6 L291.5 885.6 L293 883.7 L294.5 881.7 L296 879.8 L297.5 877.8 L299 875.9 L300.5 873.9 L302 872 L303.5 870 L305 868.1 L306.5 866.1 L308 864.2 L309.5 862.3 L311 860.4 L312.5 858.5 L314 856.7 L315.5 855 L317 853.3 L318.5 851.7 L320 850.2 L321.5 848.7 L323 847.4 L324.5 846.1 L326 845 L327.5 843.9 L329 842.9 L330.5 842 L332 841.2 L333.5 840.4 L335 839.7 L336.5 839.1 L338 838.5 L339.5 838 L341 837.6 L342.5 837.2 L344 836.9 L345.5 836.7 L347 836.6 L348.5 836.6 L350 836.7 L351.5 837 L353 837.3 L354.5 837.8 L356 838.4 L357.5 839.2 L359 840.2 L360.5 841.2 L362 842.4 L363.5 843.6 L365 844.9 L366.5 846.3 L368 847.7 L369.5 849.2 L371 850.8 L372.5 852.3 L374 853.9 L375.5 855.6 L377 857.2 L378.5 858.9 L380 860.7 L381.5 862.5 L383 864.3 L384.5 866.2 L386 868.2 L387.5 870.2 L389 872.2 L390.5 874.4 L392 876.5 L393.5 878.7 L395 881 L396.5 883.3 L398 885.6 L399.5 887.9 L401 890.2 L402.5 892.5 L404 894.8 L405.5 897.1 L407 899.4 L408.5 901.7 L410 904 L411.5 906.3 L413 908.5 L414.5 910.7 L416 913 L417.5 915.2 L419 917.3 L420.5 919.5 L422 921.5 L423.5 923.5 L425 925.5 L426.5 927.4 L428 929.2 L429.5 930.9 L431 932.6 L432.5 934.1 L434 935.6 L435.5 937.1 L437 938.4 L438.5 939.7 L440 940.9 L441.5 942 L443 943.1 L444.5 944.1 L446 945 L447.5 945.9 L449 946.7 L450.5 947.5 L452 948.2 L453.5 948.9 L455 949.5 L456.5 950.1 L458 950.7 L459.5 951.2 L461 951.7 L462.5 952.3 L464 952.7 L465.5 953.2 L467 953.7 L468.5 954.1 L470 954.5 L471.5 954.9 L473 955.2 L474.5 955.6 L476 955.9 L477.5 956.2 L479 956.5 L480.5 956.7 L482 957 L483.5 957.2 L485 957.4 L486.5 957.6 L488 957.8 L489.5 958 L491 958.2 L492.5 958.4 L494 958.6 L495.5 958.8 L497 958.9 L498.5 959.1 L500 959.2 L501.5 959.3 L503 959.4 L504.5 959.5 L506 959.6 L507.5 959.7 L509 959.8 L510.5 959.9 L512 960 L513.5 960.1 L515 960.2 L516.5 960.2 L518 960.3 L519.5 960.4 L521 960.5 L522.5 960.6 L524 960.6 L525.5 960.7 L527 960.8 L528.5 960.8 L530 960.9 L531.5 960.9 L533 961 L534.5 961 L536 961.1 L537.5 961.1 L539 961.1 L540.5 961.2 L542 961.2 L543.5 961.2 L545 961.3 L546.5 961.3 L548 961.3 L549.5 961.4 L551 961.4 L552.5 961.4 L554 961.5 L555.5 961.5 L557 961.6 L558.5 961.6 L560 961.7 L561.5 961.7 L563 961.8 L564.5 961.8 L566 961.9 L567.5 961.9 L569 962 L570.5 962 L572 962.1 L573.5 962.1 L575 962.2 L576.5 962.2 L578 962.2 L579.5 962.3 L580.7 962.3" fill="none" stroke="#000080" stroke-width="2.8" stroke-linejoin="round" stroke-linecap="butt" stroke-dasharray="6.2 4.4"/>
<path d="M41 961.4 L42.5 961.4 L44 961.4 L45.5 961.4 L47 961.4 L48.5 961.4 L50 961.4 L51.5 961.5 L53 961.5 L54.5 961.5 L56 961.5 L57.5 961.5 L59 961.5 L60.5 961.5 L62 961.5 L63.5 961.5 L65 961.5 L66.5 961.5 L68 961.5 L69.5 961.5 L71 961.6 L72.5 961.6 L74 961.6 L75.5 961.6 L77 961.6 L78.5 961.6 L80 961.6 L81.5 961.6 L83 961.6 L84.5 961.6 L86 961.6 L87.5 961.6 L89 961.6 L90.5 961.6 L92 961.7 L93.5 961.7 L95 961.7 L96.5 961.7 L98 961.7 L99.5 961.7 L101 961.7 L102.5 961.7 L104 961.7 L105.5 961.7 L107 961.7 L108.5 961.7 L110 961.7 L111.5 961.8 L113 961.8 L114.5 961.8 L116 961.8 L117.5 961.8 L119 961.8 L120.5 961.8 L122 961.8 L123.5 961.8 L125 961.8 L126.5 961.8 L128 961.8 L129.5 961.8 L131 961.9 L132.5 961.9 L134 961.9 L135.5 961.9 L137 961.9 L138.5 961.9 L140 961.9 L141.5 961.9 L143 961.9 L144.5 961.9 L146 961.9 L147.5 961.9 L149 961.9 L150.5 961.9 L152 962 L153.5 962 L155 962 L156.5 962 L158 962 L159.5 962 L161 962 L162.5 962 L164 962 L165.5 962 L167 962 L168.5 962 L170 962 L171.5 962.1 L173 962.1 L174.5 962.1 L176 962.1 L177.5 962.1 L179 962.1 L180.5 962.1 L182 962.1 L183.5 962.1 L185 962.1 L186.5 962.1 L188 962.1 L189.5 962.1 L191 962.2 L192.5 962.2 L194 962.2 L195.5 962.2 L197 962.2 L198.5 962.2 L200 962.2 L201.5 962.2 L203 962.2 L204.5 962.2 L206 962.2 L207.5 962.2 L209 962.2 L210.5 962.2 L212 962.3 L213.5 962.3 L215 962.3 L216.5 962.3 L218 962.3 L219.5 962.3 L221 962.3 L222.5 962.3 L224 962.3 L225.5 962.3 L227 962.3 L228.5 962.3 L230 962.3 L231.5 962.3 L233 962.4 L234.5 962.4 L236 962.4 L237.5 962.4 L239 962.4 L240.5 962.4 L242 962.4 L243.5 962.4 L245 962.4 L246.5 962.4 L248 962.4 L249.5 962.4 L251 962.4 L252.5 962.4 L254 962.3 L255.5 962.3 L257 962.3 L258.5 962.3 L260 962.3 L261.5 962.2 L263 962.2 L264.5 962.2 L266 962.1 L267.5 962.1 L269 962 L270.5 961.9 L272 961.9 L273.5 961.8 L275 961.7 L276.5 961.5 L278 961.4 L279.5 961.3 L281 961.1 L282.5 960.9 L284 960.8 L285.5 960.5 L287 960.3 L288.5 960.1 L290 959.8 L291.5 959.5 L293 959.2 L294.5 958.8 L296 958.4 L297.5 958 L299 957.6 L300.5 957.1 L302 956.7 L303.5 956.1 L305 955.6 L306.5 955 L308 954.4 L309.5 953.8 L311 953.1 L312.5 952.5 L314 951.8 L315.5 951 L317 950.3 L318.5 949.5 L320 948.7 L321.5 948 L323 947.2 L324.5 946.4 L326 945.6 L327.5 944.8 L329 944 L330.5 943.2 L332 942.4 L333.5 941.7 L335 940.9 L336.5 940.3 L338 939.6 L339.5 939 L341 938.4 L342.5 937.8 L344 937.3 L345.5 936.9 L347 936.5 L348.5 936.2 L350 935.9 L351.5 935.7 L353 935.5 L354.5 935.4 L356 935.4 L357.5 935.4 L359 935.5 L360.5 935.7 L362 935.9 L363.5 936.2 L365 936.6 L366.5 937 L368 937.5 L369.5 938 L371 938.5 L372.5 939.1 L374 939.8 L375.5 940.4 L377 941.2 L378.5 941.9 L380 942.7 L381.5 943.4 L383 944.2 L384.5 945 L386 945.9 L387.5 946.7 L389 947.5 L390.5 948.3 L392 949.1 L393.5 949.9 L395 950.7 L396.5 951.4 L398 952.2 L399.5 952.9 L401 953.6 L402.5 954.3 L404 954.9 L405.5 955.5 L407 956.1 L408.5 956.7 L410 957.2 L411.5 957.7 L413 958.2 L414.5 958.6 L416 959 L417.5 959.4 L419 959.8 L420.5 960.1 L422 960.4 L423.5 960.7 L425 961 L426.5 961.3 L428 961.5 L429.5 961.7 L431 961.9 L432.5 962 L434 962.2 L435.5 962.3 L437 962.5 L438.5 962.6 L440 962.7 L441.5 962.8 L443 962.9 L444.5 963 L446 963 L447.5 963.1 L449 963.1 L450.5 963.2 L452 963.2 L453.5 963.3 L455 963.3 L456.5 963.3 L458 963.4 L459.5 963.4 L461 963.4 L462.5 963.4 L464 963.5 L465.5 963.5 L467 963.5 L468.5 963.5 L470 963.5 L471.5 963.5 L473 963.5 L474.5 963.6 L476 963.6 L477.5 963.6 L479 963.6 L480.5 963.6 L482 963.6 L483.5 963.6 L485 963.6 L486.5 963.6 L488 963.6 L489.5 963.6 L491 963.6 L492.5 963.7 L494 963.7 L495.5 963.7 L497 963.7 L498.5 963.7 L500 963.7 L501.5 963.7 L503 963.7 L504.5 963.7 L506 963.7 L507.5 963.7 L509 963.7 L510.5 963.7 L512 963.8 L513.5 963.8 L515 963.8 L516.5 963.8 L518 963.8 L519.5 963.8 L521 963.8 L522.5 963.8 L524 963.8 L525.5 963.8 L527 963.8 L528.5 963.8 L530 963.8 L531.5 963.9 L533 963.9 L534.5 963.9 L536 963.9 L537.5 963.9 L539 963.9 L540.5 963.9 L542 963.9 L543.5 963.9 L545 963.9 L546.5 963.9 L548 963.9 L549.5 963.9 L551 964 L552.5 964 L554 964 L555.5 964 L557 964 L558.5 964 L560 964 L561.5 964 L563 964 L564.5 964 L566 964 L567.5 964 L569 964 L570.5 964 L572 964.1 L573.5 964.1 L575 964.1 L576.5 964.1 L578 964.1 L579.5 964.1 L580.7 964.1" fill="none" stroke="#14a0ff" stroke-width="2.8" stroke-linejoin="round" stroke-linecap="round"/>
</g>
<line x1="580.7" y1="970.8" x2="580.7" y2="982.9" stroke="#000" stroke-width="2.3"/>
<text transform="translate(580.7 1013.3) scale(1.0 1)" font-size="24.5" fill="#000" stroke="#000" stroke-width="0.3" text-anchor="middle">128</text>
<line x1="535.7" y1="970.8" x2="535.7" y2="976.9" stroke="#000" stroke-width="2.3"/>
<line x1="490.8" y1="970.8" x2="490.8" y2="982.9" stroke="#000" stroke-width="2.3"/>
<text transform="translate(490.75 1013.3) scale(1.0 1)" font-size="24.5" fill="#000" stroke="#000" stroke-width="0.3" text-anchor="middle">130</text>
<line x1="445.8" y1="970.8" x2="445.8" y2="976.9" stroke="#000" stroke-width="2.3"/>
<line x1="400.8" y1="970.8" x2="400.8" y2="982.9" stroke="#000" stroke-width="2.3"/>
<text transform="translate(400.8 1013.3) scale(1.0 1)" font-size="24.5" fill="#000" stroke="#000" stroke-width="0.3" text-anchor="middle">132</text>
<line x1="355.8" y1="970.8" x2="355.8" y2="976.9" stroke="#000" stroke-width="2.3"/>
<line x1="310.9" y1="970.8" x2="310.9" y2="982.9" stroke="#000" stroke-width="2.3"/>
<text transform="translate(310.85 1013.3) scale(1.0 1)" font-size="24.5" fill="#000" stroke="#000" stroke-width="0.3" text-anchor="middle">134</text>
<line x1="265.9" y1="970.8" x2="265.9" y2="976.9" stroke="#000" stroke-width="2.3"/>
<line x1="220.9" y1="970.8" x2="220.9" y2="982.9" stroke="#000" stroke-width="2.3"/>
<text transform="translate(220.9 1013.3) scale(1.0 1)" font-size="24.5" fill="#000" stroke="#000" stroke-width="0.3" text-anchor="middle">136</text>
<line x1="175.9" y1="970.8" x2="175.9" y2="976.9" stroke="#000" stroke-width="2.3"/>
<line x1="130.9" y1="970.8" x2="130.9" y2="982.9" stroke="#000" stroke-width="2.3"/>
<text transform="translate(130.95 1013.3) scale(1.0 1)" font-size="24.5" fill="#000" stroke="#000" stroke-width="0.3" text-anchor="middle">138</text>
<line x1="86" y1="970.8" x2="86" y2="976.9" stroke="#000" stroke-width="2.3"/>
<line x1="41" y1="970.8" x2="41" y2="982.9" stroke="#000" stroke-width="2.3"/>
<text transform="translate(41 1013.3) scale(1.0 1)" font-size="24.5" fill="#000" stroke="#000" stroke-width="0.3" text-anchor="middle">140</text>
<text transform="translate(309.8 1052.5) scale(1.0 1)" font-size="24.7" fill="#000" stroke="#000" stroke-width="0.3" text-anchor="middle">Binding energy (eV)</text>
<text transform="translate(21.2 523) rotate(-90) scale(1.0 1)" font-size="24.7" fill="#000" stroke="#000" stroke-width="0.3" text-anchor="middle">Intensity (a.u.)</text>
<text transform="translate(54.4 115.2) scale(0.985 1)" font-size="25.18" fill="#000" stroke="#000" stroke-width="0.3" text-anchor="start"><tspan dy="0" font-size="25.18">F</tspan><tspan dx="-0.91" dy="0" font-size="25.18">e–P</tspan><tspan dx="0.51" dy="8.8" font-size="16.75">700</tspan><tspan dx="0.81" dy="-8.8" font-size="25.18">–</tspan><tspan dx="0.41" dy="0" font-size="25.18">PCC</tspan></text>
<text transform="translate(54.4 156.45) scale(0.985 1)" font-size="25.18" fill="#000" stroke="#000" stroke-width="0.3" text-anchor="start"><tspan dy="0" font-size="25.18">P:</tspan><tspan dx="-1.62" dy="0" font-size="25.18"> 2.04</tspan><tspan dx="0.81" dy="0" font-size="25.18"> atomic %</tspan></text>
<text transform="translate(525 207.9) scale(0.985 1)" font-size="25.18" fill="#0000ff" stroke="#0000ff" stroke-width="0.3" text-anchor="middle">0%</text>
<text transform="translate(54.4 264.5) scale(0.985 1)" font-size="25.18" fill="#000" stroke="#000" stroke-width="0.3" text-anchor="start"><tspan dy="0" font-size="25.18">F</tspan><tspan dx="-0.91" dy="0" font-size="25.18">e–P</tspan><tspan dx="0.51" dy="8.8" font-size="16.75">800</tspan><tspan dx="0.81" dy="-8.8" font-size="25.18">–</tspan><tspan dx="0.41" dy="0" font-size="25.18">PCC</tspan></text>
<text transform="translate(54.4 305.45) scale(0.985 1)" font-size="25.18" fill="#000" stroke="#000" stroke-width="0.3" text-anchor="start"><tspan dy="0" font-size="25.18">P:</tspan><tspan dx="-1.62" dy="0" font-size="25.18"> 3.48</tspan><tspan dx="0.81" dy="0" font-size="25.18"> atomic %</tspan></text>
<text transform="translate(525 364.8) scale(0.985 1)" font-size="25.18" fill="#0000ff" stroke="#0000ff" stroke-width="0.3" text-anchor="middle">6.0%</text>
<text transform="translate(54.4 410.5) scale(0.985 1)" font-size="25.18" fill="#000" stroke="#000" stroke-width="0.3" text-anchor="start"><tspan dy="0" font-size="25.18">F</tspan><tspan dx="-0.91" dy="0" font-size="25.18">e–P</tspan><tspan dx="0.51" dy="8.8" font-size="16.75">900</tspan><tspan dx="0.81" dy="-8.8" font-size="25.18">–</tspan><tspan dx="0.41" dy="0" font-size="25.18">PCC</tspan></text>
<text transform="translate(54.4 451.15) scale(0.985 1)" font-size="25.18" fill="#000" stroke="#000" stroke-width="0.3" text-anchor="start"><tspan dy="0" font-size="25.18">P:</tspan><tspan dx="-1.62" dy="0" font-size="25.18"> 2.74</tspan><tspan dx="0.81" dy="0" font-size="25.18"> atomic %</tspan></text>
<text transform="translate(525 510.8) scale(0.985 1)" font-size="25.18" fill="#0000ff" stroke="#0000ff" stroke-width="0.3" text-anchor="middle">15.0%</text>
<text transform="translate(54.4 557) scale(0.985 1)" font-size="25.18" fill="#000" stroke="#000" stroke-width="0.3" text-anchor="start"><tspan dy="0" font-size="25.18">F</tspan><tspan dx="-0.91" dy="0" font-size="25.18">e–P</tspan><tspan dx="0.71" dy="8.8" font-size="16.75">1000</tspan><tspan dx="0.3" dy="-8.8" font-size="25.18">–</tspan><tspan dx="0.41" dy="0" font-size="25.18">PCC</tspan></text>
<text transform="translate(54.4 597.85) scale(0.985 1)" font-size="25.18" fill="#000" stroke="#000" stroke-width="0.3" text-anchor="start"><tspan dy="0" font-size="25.18">P:</tspan><tspan dx="-1.62" dy="0" font-size="25.18"> 2.04</tspan><tspan dx="0.81" dy="0" font-size="25.18"> atomic %</tspan></text>
<text transform="translate(525 660) scale(0.985 1)" font-size="25.18" fill="#0000ff" stroke="#0000ff" stroke-width="0.3" text-anchor="middle">17.4%</text>
<text transform="translate(54.4 705.1) scale(0.985 1)" font-size="25.18" fill="#000" stroke="#000" stroke-width="0.3" text-anchor="start"><tspan dy="0" font-size="25.18">F</tspan><tspan dx="-0.91" dy="0" font-size="25.18">e–P</tspan><tspan dx="0.51" dy="8.8" font-size="16.75">1100</tspan><tspan dx="0.81" dy="-8.8" font-size="25.18">–</tspan><tspan dx="0.41" dy="0" font-size="25.18">PCC</tspan></text>
<text transform="translate(54.4 745.95) scale(0.985 1)" font-size="25.18" fill="#000" stroke="#000" stroke-width="0.3" text-anchor="start"><tspan dy="0" font-size="25.18">P:</tspan><tspan dx="-1.62" dy="0" font-size="25.18"> 0.91</tspan><tspan dx="0.81" dy="0" font-size="25.18"> atomic %</tspan></text>
<text transform="translate(525 798.3) scale(0.985 1)" font-size="25.18" fill="#0000ff" stroke="#0000ff" stroke-width="0.3" text-anchor="middle">22.7%</text>
<text transform="translate(54.4 851.9) scale(0.985 1)" font-size="25.18" fill="#000" stroke="#000" stroke-width="0.3" text-anchor="start"><tspan dy="0" font-size="25.18">F</tspan><tspan dx="-0.91" dy="0" font-size="25.18">e–P</tspan><tspan dx="0.51" dy="8.8" font-size="16.75">900</tspan><tspan dx="0.81" dy="-8.8" font-size="25.18">–</tspan><tspan dx="0.41" dy="0" font-size="25.18">PCC–H</tspan></text>
<text transform="translate(54.4 892.45) scale(0.985 1)" font-size="25.18" fill="#000" stroke="#000" stroke-width="0.3" text-anchor="start"><tspan dy="0" font-size="25.18">P:</tspan><tspan dx="-1.62" dy="0" font-size="25.18"> 0.98</tspan><tspan dx="0.81" dy="0" font-size="25.18"> atomic %</tspan></text>
<text transform="translate(525 934.6) scale(0.985 1)" font-size="25.18" fill="#0000ff" stroke="#0000ff" stroke-width="0.3" text-anchor="middle">40.2%</text>
<text transform="translate(450.6 109.5) scale(0.985 1)" font-size="25.18" fill="#0000ff" stroke="#0000ff" stroke-width="0.3" text-anchor="start">Percentage</text>
<text transform="translate(450.6 138.8) scale(0.985 1)" font-size="25.18" fill="#0000ff" stroke="#0000ff" stroke-width="0.3" text-anchor="start"><tspan dy="0" font-size="25.18">of P</tspan><tspan dy="8.8" font-size="16.75">grap</tspan></text>
<text transform="translate(460.3 65.8) scale(0.985 1)" font-size="25.18" fill="#0000ff" stroke="#0000ff" stroke-width="0.3" text-anchor="start"><tspan dy="0" font-size="25.18">P</tspan><tspan dy="8.8" font-size="16.75">grap</tspan></text>
<path d="M244.4 1.3 H464.2 Q466.2 1.3 466.2 3.3 V34.5 Q466.2 36.5 464.2 36.5 H369.5 Q367.5 36.5 367.5 38.5 V59.5 Q367.5 61.5 365.5 61.5 H244.4 Q242.4 61.5 242.4 59.5 V3.3 Q242.4 1.3 244.4 1.3 Z" fill="none" stroke="#000" stroke-width="2.6" stroke-dasharray="5.4 3.8"/>
<text transform="translate(274.3 26) scale(0.985 1)" font-size="25.18" fill="#ff0000" stroke="#ff0000" stroke-width="0.3" text-anchor="start" letter-spacing="0.18"><tspan dy="0" font-size="25.18">C–PO</tspan><tspan dy="8.8" font-size="16.75">3</tspan><tspan dy="-8.8" font-size="25.18"> / C</tspan><tspan dy="8.8" font-size="16.75">2</tspan><tspan dy="-8.8" font-size="25.18">–PO</tspan><tspan dy="8.8" font-size="16.75">2</tspan></text>
<text transform="translate(242.9 58.8) scale(0.985 1)" font-size="25.18" fill="#ff00ff" stroke="#ff00ff" stroke-width="0.3" text-anchor="start" letter-spacing="0.2">C–O–P</text>
<text transform="translate(151.5 38.6) scale(0.985 1)" font-size="25.18" fill="#000" stroke="#000" stroke-width="0.3" text-anchor="start" letter-spacing="0.3"><tspan dy="0" font-size="25.18">PO</tspan><tspan dy="8.8" font-size="16.75" font-style="italic">x</tspan></text>
<line x1="242.4" y1="31.6" x2="215" y2="31.6" stroke="#000" stroke-width="2.6"/>
<path d="M198.8 31.6 L219.8 26.7 L219.8 36.5 Z" fill="#000"/>
<line x1="283.7" y1="61.5" x2="283.7" y2="189.5" stroke="#ff00ff" stroke-width="2.7"/>
<path d="M283.7 193.5 Q282.1 181.7 277.4 169.9 L283.7 179.3 L290 169.9 Q285.3 181.7 283.7 193.5 Z" fill="#ff00ff"/>
<line x1="350.6" y1="37" x2="350.6" y2="122.9" stroke="#ff0000" stroke-width="2.7"/>
<path d="M350.6 126.9 Q349 115.1 344.3 103.3 L350.6 112.7 L356.9 103.3 Q352.2 115.1 350.6 126.9 Z" fill="#ff0000"/>
<line x1="401" y1="60.6" x2="401" y2="364.4" stroke="#0000ff" stroke-width="2.7"/>
<path d="M401 368.4 Q399.4 356.6 394.7 344.8 L401 354.2 L407.3 344.8 Q402.6 356.6 401 368.4 Z" fill="#0000ff"/>
<line x1="399.6" y1="60.6" x2="454.8" y2="60.6" stroke="#0000ff" stroke-width="2.7"/>
<text transform="translate(-1.1 62.93) scale(0.97 1.069)" font-size="40" font-weight="bold" fill="#000">a</text>
<line x1="936.7" y1="92" x2="946.6" y2="432" stroke="#000" stroke-width="2.7" stroke-dasharray="5.6 4.4"/>
<line x1="947.3" y1="454" x2="947.3" y2="848" stroke="#000" stroke-width="2.7" stroke-dasharray="5.6 4.4"/>
<g id="panel-b" clip-path="url(#clipB)">
<path d="M678.8 229.1C679.6 229.4 681.7 229.6 683.3 230.7C684.8 231.8 685.8 235.1 687.2 235.2C688.7 235.3 690 232.3 691.2 231.2C692.4 230.1 692.9 228.6 693.9 229.1C694.8 229.6 695.5 231.8 696.5 233.9C697.6 235.9 698.5 240.3 699.7 240.5C700.9 240.7 702.1 236.5 703.2 235.2C704.3 233.9 704.6 232.9 705.8 233.3C707 233.8 708.6 236.6 709.8 237.9C711 239.1 711.3 240.1 712.4 240.2C713.6 240.4 715 239.2 716.4 238.7C717.9 238.1 719 237 720.4 237.1C721.8 237.2 723.2 238.5 724.4 239.2C725.6 239.9 725.9 241.5 727 241C728.1 240.6 729.4 238 730.5 236.5C731.6 235.1 732.1 233.2 733.1 232.8C734.2 232.5 735.4 234.1 736.3 234.7C737.3 235.2 737.5 236.6 738.4 236C739.4 235.4 740.5 232.9 741.6 231.2C742.8 229.5 743.6 227.3 744.8 226.4C746 225.6 747.2 227.3 748.3 226.4C749.4 225.6 749.8 223.7 750.9 221.9C752 220.2 753.2 217.7 754.4 216.6C755.6 215.5 756.3 217.1 757.6 215.8C758.8 214.5 760.2 211.5 761.5 209.5C762.9 207.5 763.8 205.2 765 204.7C766.2 204.2 767 207.5 768.2 206.8C769.4 206.1 770.4 202.6 771.6 200.7C772.8 198.8 773.6 196.8 774.8 196.2C776 195.6 777.1 197.6 778.2 197.3C779.4 197 780.5 195.4 781.4 194.6C782.4 193.8 782.6 192.7 783.6 193C784.5 193.3 785.8 195.4 786.7 196.2C787.7 197 787.9 198.1 788.9 197.3C789.8 196.4 791.1 192.9 792 191.4C793 190 793.2 189.3 794.2 189.3C795.1 189.3 796.1 190.7 797.3 191.4C798.6 192.2 799.9 193.3 801.3 193.6C802.8 193.8 803.9 192.7 805.3 193C806.7 193.4 807.9 194.2 809.3 195.4C810.7 196.6 812.1 198.2 813.3 199.9C814.5 201.6 814.9 202.6 815.9 204.7C817 206.7 818.1 209.4 819.1 211.3C820.1 213.2 820.1 214.5 821.2 215.3C822.3 216.1 824 215.1 825.2 215.8C826.4 216.6 826.9 217.7 827.9 219.3C828.8 220.9 829.4 222.7 830.5 224.6C831.6 226.5 832.8 228.8 834 229.9C835.2 230.9 836.1 230 837.1 230.4C838.2 230.9 838.6 231.4 839.8 232.6C841 233.7 842.3 236.2 843.8 237.1C845.2 237.9 846.6 236.9 847.8 237.1C848.9 237.2 849.2 236.8 850.4 237.9C851.6 239 853 241.6 854.4 243.2C855.8 244.7 857.1 245.8 858.4 246.6C859.7 247.4 860.4 248.1 861.6 247.7C862.7 247.3 863.9 245.6 865 244.5C866.1 243.3 866.6 242 867.7 241.3C868.8 240.6 870 240.9 871.1 240.8C872.2 240.7 872.7 241.8 873.8 240.8C874.8 239.8 875.8 237.2 876.9 235.2C878.1 233.2 878.9 231.3 880.1 229.9C881.3 228.5 882.5 228.2 883.6 227.2C884.7 226.3 885 226.7 886.2 224.6C887.4 222.4 889 217.8 890.2 215.3C891.4 212.8 891.7 212 892.9 210.5C894.1 209.1 895.5 208.8 896.8 207.3C898.2 205.9 899.1 204.4 900.3 202.6C901.5 200.8 902.4 198.7 903.5 197.3C904.5 195.8 905.1 195.4 906.1 194.6C907.2 193.8 908.3 194.3 909.3 192.8C910.4 191.2 910.9 189 912 186.1C913.1 183.3 914.1 179.9 915.4 176.8C916.7 173.7 918.2 172.5 919.4 168.9C920.6 165.3 921.1 162 922 156.9C923 151.9 923.7 146.8 924.7 141C925.6 135.3 926.3 130.1 927.3 125.1C928.4 120.1 929.3 116.5 930.5 113.2C931.7 109.8 932.9 108 934 106.5C935.1 105.1 935.7 105.2 936.6 105.2C937.6 105.2 938.3 105.1 939.3 106.5C940.2 108 941 110.1 941.9 113.2C942.9 116.3 943.6 119.5 944.6 123.8C945.5 128.1 946.3 132.3 947.2 137C948.2 141.8 948.9 145.3 949.9 150.3C950.9 155.3 951.6 159.9 952.6 164.9C953.5 169.9 954.2 174.1 955.2 178.2C956.2 182.2 956.7 184.5 957.9 187.4C959.1 190.4 960.4 191.7 961.8 194.6C963.3 197.5 964.4 200.5 965.8 203.4C967.2 206.2 968.1 208 969.8 210.5C971.5 213.1 973.2 215.1 975.1 217.4C977 219.7 978.5 221.2 980.4 223.3C982.3 225.4 984 226.7 985.7 229.1C987.4 231.5 988.4 234.5 989.7 236.5C991 238.6 991.7 240 993.1 240.5C994.6 241 996.4 238.9 997.7 239.2C998.9 239.4 999.2 240.2 1000.3 241.8C1001.4 243.5 1002.8 247.3 1003.8 248.5C1004.7 249.7 1004.8 249.6 1005.6 248.5C1006.4 247.4 1007.3 244.1 1008.3 242.4C1009.2 240.6 1009.7 239.1 1010.9 238.7C1012.1 238.2 1013.5 239.4 1014.9 239.7C1016.3 240 1017.4 240.5 1018.9 240.5C1020.3 240.5 1021.2 240.3 1022.9 239.7C1024.5 239.1 1026.5 237.5 1028.2 237.1C1029.8 236.6 1030.7 237.6 1032.1 237.1C1033.6 236.5 1034.7 235 1036.1 233.9C1037.6 232.7 1038.7 231.7 1040.1 230.7C1041.5 229.6 1042.8 229.1 1044.1 228C1045.4 226.9 1046.1 225 1047.3 224.6C1048.5 224.2 1049.6 225.8 1050.7 225.9C1051.8 226.1 1052.3 226.4 1053.4 225.4C1054.5 224.3 1055.7 221.3 1056.8 220.1C1057.9 218.8 1058.4 218.5 1059.5 218.5C1060.5 218.5 1061.5 220 1062.7 220.1C1063.8 220.2 1064.6 218.9 1065.8 219C1067 219.1 1067.9 219.8 1069.3 220.6C1070.6 221.4 1071.8 222.8 1073.3 223.3C1074.7 223.7 1075.8 222.9 1077.2 223.3C1078.7 223.6 1079.8 224.4 1081.2 225.4C1082.7 226.3 1083.8 227.6 1085.2 228.6C1086.6 229.5 1087.8 230.5 1089.2 230.7C1090.6 230.9 1091.8 230.3 1093.2 229.9C1094.5 229.5 1095.4 228.4 1096.6 228.6C1097.8 228.7 1098.5 229.7 1099.8 230.7C1101.1 231.6 1102.3 232.4 1103.8 233.9C1105.2 235.3 1106.5 237.3 1107.8 238.7C1109 240 1109.5 241.1 1110.9 241.3C1112.4 241.5 1114.1 240.2 1115.7 239.7C1117.3 239.2 1118 238.8 1119.7 238.7C1121.4 238.5 1123.1 238.3 1125 238.7C1126.9 239 1128.4 239.8 1130.3 240.5C1132.2 241.2 1133.9 241.3 1135.6 242.4C1137.3 243.5 1138.3 245.5 1139.6 246.6C1140.9 247.7 1141.3 248.5 1142.8 248.5C1144.2 248.5 1146 246.9 1147.6 246.6C1149.1 246.4 1150.1 247 1151.5 247.1C1153 247.2 1154.1 247.7 1155.5 247.1C1156.9 246.6 1158.1 245.4 1159.5 244C1160.9 242.5 1162.2 240.4 1163.5 239.2C1164.8 237.9 1165.5 237.1 1166.7 237.1C1167.8 237.1 1168.8 238.9 1170.1 239.2C1171.4 239.5 1172.6 239.4 1174.1 238.7C1175.5 237.9 1176.7 236.2 1178.1 235.2C1179.4 234.2 1180.9 233.7 1181.5 233.3" fill="none" stroke="#ff00ff" stroke-width="2.9" stroke-linejoin="round" stroke-linecap="round"/>
<path d="M678.8 412.1C679.6 412.6 681.7 414.7 683.3 415.2C684.8 415.8 685.6 415.6 687.2 415.2C688.9 414.9 690.9 413.6 692.6 413.4C694.2 413.2 694.9 413.7 696.5 414.2C698.2 414.7 699.7 415.8 701.8 416C704 416.3 706.1 415.7 708.5 415.5C710.9 415.3 712.7 414.7 715.1 415C717.5 415.3 719.3 416.9 721.7 417.1C724.1 417.3 726 416.3 728.4 416C730.8 415.8 732.6 415.7 735 415.8C737.4 415.8 739.5 416.6 741.6 416.3C743.8 416 745 414.6 746.9 414.2C748.8 413.8 750.3 414.5 752.2 414.2C754.2 413.8 755.9 412.8 757.6 412.3C759.2 411.8 760.1 412.2 761.5 411.5C763 410.8 763.8 409 765.5 408.3C767.2 407.7 768.9 408.6 770.8 407.8C772.7 407.1 774.2 405 776.1 404.1C778 403.2 779.5 403.3 781.4 402.8C783.3 402.2 785.1 401.2 786.7 400.9C788.4 400.7 789 402.1 790.7 401.4C792.4 400.8 793.9 398.2 796 397.5C798.2 396.7 800.5 397.3 802.7 397.2C804.8 397.1 805.8 396.8 808 396.9C810.1 397 812.7 397 814.6 397.7C816.5 398.5 817.1 399.8 818.6 400.9C820 402.1 820.9 403.3 822.6 404.1C824.2 404.9 825.9 404.9 827.9 405.4C829.8 406 831.3 407 833.2 407.3C835.1 407.6 836.8 406.6 838.5 407.3C840.1 408 841 410 842.4 411C843.9 412 845 412.5 846.4 412.9C847.9 413.2 848.7 412.3 850.4 413.1C852.1 413.9 853.8 416.9 855.7 417.4C857.6 417.8 859.1 416 861 415.8C862.9 415.6 864.4 416 866.3 416.3C868.2 416.6 870 416.8 871.6 417.4C873.3 417.9 874.2 419.5 875.6 419.5C877 419.5 878.2 418.2 879.6 417.4C881 416.5 882.1 415.4 883.6 414.7C885 414 886.1 413.5 887.6 413.4C889 413.3 890.2 413.8 891.5 414.2C892.9 414.6 893.8 416 895 415.5C896.2 415 897.1 412.8 898.2 411.5C899.2 410.2 899.6 409.1 900.8 408.3C902 407.6 903.4 408 904.8 407.6C906.2 407.1 907.3 406.6 908.8 405.7C910.2 404.8 911.3 403.8 912.8 402.5C914.2 401.2 915.5 400 916.7 398.3C917.9 396.5 918.4 395.3 919.4 393C920.3 390.6 921.1 388.3 922 385C923 381.7 923.7 378.7 924.7 374.4C925.6 370.1 926.4 366.4 927.3 361.1C928.3 355.9 929 351.4 930 345.2C931 339 931.7 333.6 932.7 326.6C933.6 319.7 934.4 312.9 935.3 306.7C936.2 300.5 936.7 296.3 937.4 292.1C938.2 288 938.8 285.7 939.6 283.7C940.3 281.6 940.9 281 941.7 281C942.4 281 943 281.6 943.8 283.7C944.6 285.7 945.2 288.2 945.9 292.1C946.7 296.1 947.2 299.7 948 305.4C948.9 311.1 949.7 317.3 950.7 324C951.6 330.7 952.3 336.1 953.3 342.6C954.4 349 955.4 354.3 956.5 359.8C957.7 365.3 958.5 368.8 959.7 373.1C960.9 377.4 961.8 380.7 963.2 383.7C964.5 386.7 965.7 387.7 967.1 389.8C968.6 391.8 969.7 393.5 971.1 395.1C972.6 396.7 973.7 397.8 975.1 398.8C976.5 399.8 977.6 399.3 979.1 400.4C980.5 401.5 981.4 403.5 983.1 404.9C984.7 406.3 986.5 407.4 988.4 408.3C990.3 409.3 991.8 409.7 993.7 410.2C995.6 410.7 997.1 410.3 999 411C1000.9 411.7 1002.4 413.5 1004.3 414.2C1006.2 414.9 1007.7 414.4 1009.6 415C1011.5 415.6 1013 417 1014.9 417.4C1016.8 417.7 1018.3 417 1020.2 416.8C1022.1 416.6 1023.6 416.3 1025.5 416.3C1027.4 416.3 1028.9 417 1030.8 416.8C1032.7 416.7 1034.2 415.8 1036.1 415.5C1038 415.2 1039.5 415.3 1041.4 415.2C1043.3 415.1 1044.8 415.6 1046.7 415C1048.6 414.3 1050.1 412.2 1052 411.5C1054 410.9 1055.4 411.6 1057.3 411.5C1059.3 411.4 1060.7 411.1 1062.7 411C1064.6 410.9 1066 410.8 1068 410.7C1069.9 410.6 1071.1 410.3 1073.3 410.5C1075.4 410.6 1077.7 410.9 1079.9 411.5C1082 412.2 1083.3 413.9 1085.2 414.2C1087.1 414.5 1088.6 413 1090.5 413.1C1092.4 413.2 1093.9 414.5 1095.8 414.7C1097.7 414.9 1099 414 1101.1 414.2C1103.3 414.4 1105.6 415.3 1107.8 415.8C1109.9 416.3 1111.2 416.8 1113.1 416.8C1115 416.8 1116.7 415.5 1118.4 415.8C1120 416 1120.8 417.2 1122.3 418.2C1123.9 419.2 1125.2 421 1126.9 421.3C1128.5 421.7 1130.1 420.5 1131.6 420C1133.2 419.6 1133.9 418.8 1135.6 419C1137.3 419.1 1139.2 420.7 1140.9 420.8C1142.6 420.9 1143.5 420.1 1144.9 419.5C1146.3 418.9 1147.4 417.6 1148.9 417.6C1150.3 417.6 1151.4 418.8 1152.9 419.5C1154.3 420.2 1155.4 421.3 1156.8 421.3C1158.3 421.4 1159.4 420.7 1160.8 420C1162.2 419.3 1163.4 417.9 1164.8 417.4C1166.2 416.8 1167.1 416.6 1168.8 416.8C1170.4 417 1171.8 418.1 1174.1 418.4C1176.4 418.7 1180.2 418.4 1181.5 418.4" fill="none" stroke="#ff0000" stroke-width="2.9" stroke-linejoin="round" stroke-linecap="round"/>
<path d="M678.8 591C679.3 590.6 680.7 589.4 681.9 588.7C683.1 587.9 684.1 587 685.4 587.1C686.7 587.2 687.8 588.9 689.1 589.2C690.4 589.5 691.2 588.7 692.6 588.7C693.9 588.7 695.1 588.5 696.5 589.2C698 589.9 699.1 591.4 700.5 592.4C701.9 593.3 703.1 594.3 704.5 594.5C705.9 594.6 707.3 594.4 708.5 593.2C709.7 592 710.2 589.1 711.1 587.9C712.1 586.7 712.7 585.9 713.8 586.5C714.9 587.2 716 589.8 717.2 591.3C718.4 592.8 719.1 595.1 720.4 595C721.7 595 723.1 591.2 724.4 591C725.7 590.8 726.5 593.8 727.8 594C729.1 594.1 730.3 593.3 731.6 591.8C732.8 590.4 733.8 586.6 735 586C736.2 585.4 737.4 587.5 738.4 588.7C739.5 589.8 740.1 592.1 741.1 592.4C742.2 592.6 743.1 589.4 744.3 590C745.4 590.6 746.3 593.7 747.5 595.8C748.7 598 749.7 602.2 750.9 601.9C752.2 601.7 753.2 596.9 754.4 594.5C755.6 592.1 756.3 589.8 757.6 588.7C758.8 587.5 760.2 588.5 761.5 587.9C762.9 587.2 763.5 585 765 585.2C766.4 585.4 768.1 590.1 769.5 589.2C770.9 588.2 771.7 582.2 772.9 579.9C774.1 577.6 775 576.3 776.1 576.4C777.3 576.6 778.1 580.3 779.3 580.7C780.5 581.1 781.6 579.6 782.8 578.6C783.9 577.5 784.7 574.9 785.9 574.9C787.1 574.9 788.2 578.1 789.4 578.6C790.6 579 791.4 577.9 792.6 577.2C793.8 576.6 794.7 574.5 796 574.9C797.4 575.2 798.6 579.1 800 579.1C801.4 579.1 802.6 575.8 804 574.6C805.3 573.4 806.1 572.4 807.4 572.5C808.7 572.5 809.9 573.4 811.1 574.9C812.4 576.3 813.4 579 814.6 580.7C815.8 582.4 816.9 585 818 584.4C819.1 583.8 819.7 579.1 820.7 577.2C821.6 575.4 822.4 573.8 823.3 574.1C824.3 574.3 824.9 575.8 826 578.6C827.1 581.3 828 587.1 829.2 589.2C830.3 591.2 831.2 590.6 832.4 590C833.6 589.4 834.5 586.4 835.8 586C837.2 585.6 838.4 587.9 839.8 587.9C841.2 587.9 842.3 586.5 843.8 586C845.2 585.5 846.3 584.4 847.8 585.2C849.2 586 850.3 588.5 851.7 590.5C853.2 592.6 854.4 596.3 855.7 596.6C857 596.9 857.8 593.6 858.9 592.4C859.9 591.2 860.5 589.8 861.6 590C862.6 590.1 863.9 592.1 865 593.2C866.1 594.2 866.5 595.6 867.7 595.8C868.8 596.1 870.2 594.3 871.6 594.5C873.1 594.6 874.3 596.9 875.6 596.6C876.9 596.4 877.9 594.3 879.1 593.2C880.3 592.1 881 590.5 882.2 590.5C883.5 590.5 884.8 593.5 886.2 593.2C887.7 592.8 888.9 589 890.2 588.7C891.5 588.3 892.2 590.3 893.4 591.3C894.6 592.4 895.5 594.7 896.8 594.5C898.2 594.3 899.4 590.1 900.8 590C902.2 589.9 903.5 594.8 904.8 594C906.1 593.1 907.1 587.8 908.2 585.2C909.4 582.6 910.3 579.6 911.4 579.4C912.6 579.1 913.5 582.3 914.6 583.9C915.7 585.5 916.4 589.3 917.5 588.4C918.6 587.4 919.5 582 920.7 578.6C921.9 575.1 923.1 571.9 924.2 569.3C925.3 566.7 925.9 567.6 926.8 564C927.8 560.4 928.5 555.8 929.5 549.4C930.4 542.9 931.2 536 932.1 528.2C933.1 520.3 933.8 513.5 934.8 505.6C935.7 497.7 936.5 491.1 937.4 484.4C938.4 477.7 939.1 473.2 940.1 468.5C941 463.7 941.7 460.4 942.7 457.9C943.8 455.3 944.9 455 945.9 454.4C947 453.8 947.6 453.5 948.6 454.4C949.5 455.3 950.4 456.4 951.2 459.2C952.1 462 952.6 464.8 953.3 469.8C954.1 474.8 954.7 480.4 955.5 487C956.2 493.7 956.8 500.3 957.6 506.9C958.4 513.6 959 519.2 959.7 524.2C960.5 529.2 961 531.2 961.8 534.8C962.7 538.4 963.5 540.3 964.5 544.1C965.4 547.9 966.2 552.3 967.1 556C968.1 559.7 968.7 562.6 969.8 564.8C970.8 566.9 971.8 566.7 973 568C974.2 569.2 975.2 570.3 976.4 571.9C977.7 573.6 978.7 575.3 979.9 577.2C981.1 579.2 981.9 580.8 983.1 582.6C984.2 584.3 985.1 586.8 986.2 587.1C987.4 587.3 988.5 585.5 989.7 583.9C990.9 582.2 991.8 578 992.9 577.8C994 577.5 994.7 580.6 995.8 582.6C996.9 584.5 997.7 587.1 999 588.4C1000.3 589.7 1001.5 589.5 1003 590C1004.4 590.5 1005.5 590.7 1006.9 591C1008.4 591.4 1009.5 591.2 1010.9 591.8C1012.4 592.5 1013.5 594.4 1014.9 594.5C1016.3 594.6 1017.7 593.1 1018.9 592.4C1020.1 591.7 1020.3 589.9 1021.5 590.5C1022.7 591.1 1024.1 595.8 1025.5 595.8C1026.9 595.8 1028.2 590.7 1029.5 590.5C1030.8 590.4 1031.7 593.7 1032.9 595C1034.1 596.3 1034.8 598.5 1036.1 597.7C1037.4 596.9 1038.8 592 1040.1 590.5C1041.4 589 1042.4 589.2 1043.6 589.2C1044.7 589.2 1045.4 591.1 1046.7 590.5C1048 589.9 1049.3 586.2 1050.7 586C1052.1 585.8 1053.1 589.3 1054.7 589.2C1056.3 589 1058 585.3 1059.5 585.2C1060.9 585.1 1061.4 587.7 1062.7 588.7C1063.9 589.6 1065.2 590.7 1066.6 590.5C1068.1 590.4 1069.2 588.5 1070.6 587.9C1072 587.2 1073.1 587.8 1074.6 587.1C1076.1 586.3 1077.7 584.1 1079.1 583.9C1080.5 583.7 1081.2 585.4 1082.6 586C1083.9 586.6 1085.1 586.1 1086.5 587.1C1088 588 1089.2 590.2 1090.5 591.3C1091.8 592.4 1092.7 593.7 1094 593.2C1095.2 592.6 1096.4 588.4 1097.7 588.4C1099 588.4 1100 592 1101.1 593.2C1102.2 594.4 1102.7 596.6 1103.8 595C1104.9 593.4 1106 585.9 1107.2 584.4C1108.4 582.9 1109.3 584.8 1110.4 586.5C1111.6 588.2 1112.2 593.8 1113.6 594C1115 594.1 1116.8 587.7 1118.4 587.3C1119.9 586.9 1120.9 590.2 1122.3 591.8C1123.8 593.5 1124.9 596.1 1126.3 596.6C1127.8 597.1 1128.9 594.5 1130.3 594.5C1131.7 594.5 1132.9 596.5 1134.3 596.6C1135.7 596.7 1136.6 596 1138.3 595C1139.9 594.1 1141.9 591.5 1143.6 591.3C1145.2 591.1 1146.1 593 1147.6 594C1149 594.9 1150.1 596 1151.5 596.6C1153 597.2 1154.1 597 1155.5 597.1C1156.9 597.3 1158 598.6 1159.5 597.7C1161 596.7 1162.4 592.3 1164 591.8C1165.6 591.4 1166.8 594.6 1168.2 595C1169.7 595.4 1170.7 594.5 1172 594C1173.2 593.4 1173.7 591.7 1175.4 591.8C1177.1 591.9 1180.4 594 1181.5 594.5" fill="none" stroke="#0000ff" stroke-width="2.9" stroke-linejoin="round" stroke-linecap="round"/>
<path d="M678.8 766.5C679.6 766.3 681.9 764.9 683.3 765.2C684.7 765.4 685.3 766.8 686.4 767.8C687.6 768.9 688.6 770.9 689.9 771C691.2 771.1 692.4 769.2 693.9 768.4C695.3 767.6 696.7 768 697.9 766.5C699.1 765 699.6 761.8 700.5 759.9C701.5 758 702.2 755.9 703.2 755.9C704.1 755.9 704.9 758 705.8 759.9C706.8 761.8 707.5 765 708.5 766.5C709.4 768 710 768.3 711.1 768.4C712.2 768.4 713.4 766.6 714.6 766.8C715.8 766.9 716.5 768.9 717.8 769.2C719 769.4 720.4 767.9 721.7 768.4C723.1 768.8 723.9 770.6 725.2 771.8C726.5 773.1 727.5 775.5 728.9 775.3C730.3 775 731.8 770.9 733.1 770.5C734.5 770.1 735.2 772.7 736.3 773.1C737.5 773.6 738.2 773.8 739.5 773.1C740.8 772.5 742.4 769.7 743.8 769.7C745.1 769.7 745.9 772.2 746.9 773.1C748 774.1 748.5 776.2 749.6 775C750.6 773.8 751.6 769.2 752.8 766.5C754 763.8 755 760.4 756.2 759.9C757.5 759.4 758.5 762.4 759.7 763.9C760.9 765.3 761.7 768.2 762.9 767.8C764 767.5 764.8 764.1 766 762C767.2 759.9 768.2 757.5 769.5 756.2C770.8 754.8 771.9 754.8 773.5 754.6C775 754.4 776.8 754.2 778.2 755.1C779.7 756 780.3 758 781.4 759.3C782.6 760.7 783.3 762.8 784.6 762.5C785.9 762.2 787.5 758.3 788.9 757.8C790.2 757.2 790.9 759.1 792 759.3C793.2 759.6 794 760.9 795.2 759.3C796.4 757.8 797.4 753.3 798.7 750.6C799.9 747.9 800.9 745 802.1 744.5C803.3 744 804.2 745.9 805.3 747.9C806.5 750 807.3 753.7 808.5 755.9C809.7 758 810.6 759.9 811.9 759.9C813.3 759.9 814.5 756.3 815.9 755.9C817.4 755.5 818.6 757 819.9 757.8C821.2 758.5 822.1 760.2 823.3 759.9C824.6 759.5 825.8 757 827.1 755.9C828.4 754.8 829.3 753.9 830.5 753.5C831.8 753.1 832.7 754.1 834 753.5C835.2 752.9 836.4 749.6 837.7 750.1C839 750.5 839.9 753.2 841.1 755.9C842.4 758.6 843.3 762.8 844.6 765.2C845.9 767.6 847 768.2 848.3 769.2C849.6 770.1 850.4 769.8 851.7 770.5C853.1 771.2 854.3 773.4 855.7 773.1C857.1 772.9 858.4 771.3 859.7 769.2C861 767 861.9 763.4 863.1 761.2C864.3 759.1 865.2 757.2 866.3 757.2C867.5 757.2 868.3 759.1 869.5 761.2C870.7 763.4 871.6 766.9 873 769.2C874.3 771.5 875.5 773.6 876.9 773.9C878.4 774.3 879.5 772.3 880.9 771C882.4 769.7 883.5 767.3 884.9 766.8C886.3 766.3 887.5 767.7 888.9 768.4C890.2 769 891 770.8 892.3 770.5C893.6 770.2 894.8 767.9 896 766.5C897.3 765.1 898.2 763.6 899.5 762.5C900.8 761.5 902.2 762.1 903.5 760.7C904.8 759.2 905.5 758.1 906.7 754.6C907.8 751.1 909 745.1 910.1 741.3C911.2 737.5 911.7 735.7 912.8 733.3C913.9 731 915 730.9 916.2 728C917.4 725.2 918.3 722.7 919.4 717.4C920.4 712.2 921.1 704.8 922 698.9C923 692.9 923.5 687.6 924.7 684.3C925.9 680.9 927.5 682.4 928.7 680.3C929.9 678.1 930.4 677.6 931.3 672.3C932.3 667.1 933 656.9 934 651.1C934.9 645.3 935.5 642.2 936.6 640C937.7 637.7 938.9 639.7 940.1 638.6C941.3 637.5 942.1 635.3 943.3 633.9C944.4 632.4 945.5 629.7 946.4 630.4C947.4 631.1 947.8 634.1 948.6 637.8C949.3 641.6 949.9 645.8 950.7 651.1C951.5 656.4 952 661.1 952.8 667C953.6 673 954.3 678.8 955.2 684.3C956.1 689.8 956.9 693.9 957.9 697.5C958.8 701.1 959.3 702.9 960.5 704.2C961.7 705.5 963.3 703.3 964.5 704.7C965.7 706.1 966.2 708.6 967.1 712.1C968.1 715.6 968.8 720 969.8 724.1C970.8 728.1 971.3 731.3 972.4 734.7C973.6 738 975.1 740 976.4 742.6C977.8 745.3 978.4 748.6 979.9 749.3C981.3 749.9 983.1 745.6 984.4 746.1C985.7 746.6 986.1 749 987 751.9C988 754.9 988.7 760 989.7 762.5C990.6 765 991.4 766.4 992.3 765.7C993.3 765 994 760.1 995 758.6C996 757 996.7 756 997.7 757.2C998.6 758.4 999.2 762.3 1000.3 765.2C1001.4 768 1002.3 771.7 1003.8 773.1C1005.2 774.6 1006.7 773 1008.3 773.1C1009.8 773.3 1010.8 774.2 1012.2 773.9C1013.7 773.7 1014.9 771.5 1016.2 771.8C1017.6 772.2 1018.5 774.4 1019.7 775.8C1020.9 777.2 1021.7 779.8 1022.9 779.8C1024 779.8 1025 778.4 1026 775.8C1027.1 773.2 1027.7 767.6 1028.7 765.2C1029.6 762.8 1030.4 761.8 1031.3 762.5C1032.3 763.2 1032.9 766.8 1034 769.2C1035.1 771.6 1036.2 775.6 1037.4 775.8C1038.7 776 1039.7 772.4 1040.9 770.5C1042.1 768.6 1042.8 765.8 1044.1 765.2C1045.4 764.6 1046.6 767.2 1048.1 767.3C1049.5 767.4 1050.8 765.5 1052 766C1053.3 766.5 1054 768.7 1055.2 770C1056.4 771.2 1057.4 775 1058.7 773.1C1059.9 771.3 1060.9 763.4 1062.1 759.9C1063.3 756.4 1064.2 754.3 1065.3 753.8C1066.5 753.2 1067.3 755.6 1068.5 756.7C1069.7 757.8 1070.6 758.9 1071.9 759.9C1073.3 760.8 1074.5 760.7 1075.9 762C1077.4 763.3 1078.6 767.2 1079.9 767.3C1081.2 767.4 1082.1 764.2 1083.3 762.5C1084.6 760.8 1085.8 757.4 1087.1 757.8C1088.4 758.1 1089.2 762.2 1090.5 764.7C1091.8 767.1 1093.1 770.1 1094.5 771.3C1095.9 772.4 1097 770.6 1098.5 771C1099.9 771.5 1101 772.1 1102.4 773.7C1103.9 775.2 1105.1 778.9 1106.4 779.8C1107.8 780.6 1108.7 780.6 1109.9 778.4C1111.1 776.3 1111.8 771.3 1113.1 767.8C1114.4 764.4 1115.8 759.8 1117 759.1C1118.2 758.4 1118.6 761.9 1119.7 763.9C1120.8 765.8 1121.9 769.6 1123.1 770C1124.4 770.3 1125.6 767 1126.9 766C1128.1 765 1129 764.3 1130.3 764.4C1131.6 764.5 1132.9 766 1134.3 766.5C1135.7 767 1136.8 767.2 1138.3 767.3C1139.7 767.4 1140.7 768 1142.2 767.3C1143.8 766.6 1145.5 763.2 1147 763.3C1148.5 763.4 1149.4 766.5 1150.7 767.8C1152 769.2 1152.8 770.9 1154.2 771C1155.5 771.1 1156.7 769.1 1158.2 768.4C1159.6 767.7 1160.7 767.6 1162.1 767C1163.6 766.5 1164.7 764.8 1166.1 765.2C1167.6 765.6 1168.9 768 1170.1 769.2C1171.3 770.4 1171.7 772.3 1172.8 771.8C1173.9 771.3 1175.1 768.1 1176.2 766.5C1177.3 764.9 1177.9 763.4 1178.9 763.1C1179.8 762.7 1181 764.4 1181.5 764.7" fill="none" stroke="#0000ff" stroke-width="2.9" stroke-linejoin="round" stroke-linecap="round"/>
<path d="M678.8 911.7C679.3 909.8 680.9 900.8 681.9 901.1C683 901.3 683.5 908.2 684.6 913C685.7 917.8 686.8 926.9 688 927.6C689.2 928.3 690.1 919.8 691.2 917C692.4 914.1 693.2 911.7 694.4 911.7C695.6 911.7 696.6 917.5 697.9 917C699.1 916.5 700.1 911.3 701.3 909C702.5 906.8 703.2 905.2 704.5 904.5C705.8 903.8 707.3 906.9 708.5 905C709.7 903.2 710.2 897.1 711.1 894.4C712.1 891.8 712.8 890 713.8 890.4C714.7 890.9 715.5 892.5 716.4 897.1C717.4 901.6 718.1 909.7 719.1 915.7C720 921.6 720.5 926.2 721.7 930.2C722.9 934.3 724.3 938.2 725.7 938.2C727.1 938.2 728.3 934.3 729.7 930.2C731.1 926.2 732.4 918.9 733.7 915.7C735 912.4 735.7 912.8 736.9 912.2C738.1 911.6 738.9 913.4 740.3 912.2C741.7 911 743.4 905.7 744.8 905.6C746.2 905.5 747 909.5 748.3 911.7C749.5 913.9 750.4 917.3 751.7 917.8C753 918.3 754.1 913.8 755.4 914.3C756.7 914.8 757.8 918.6 758.9 920.4C760 922.2 760.4 926.2 761.5 924.4C762.6 922.6 763.9 914.5 765 910.3C766.1 906.2 766.6 902.5 767.6 901.6C768.7 900.7 769.7 904.1 770.8 905.6C772 907.1 772.8 909 774 909.8C775.2 910.7 776.1 910 777.4 910.3C778.8 910.7 780 913.3 781.4 911.7C782.9 910 784 905.1 785.4 901.1C786.8 897 788 892.1 789.4 889.1C790.8 886.1 792 884.6 793.4 884.3C794.7 884.1 795.6 886.6 796.8 887.8C798 889 798.7 890.4 800 891C801.3 891.6 802.8 889.9 804 891.2C805.2 892.6 805.5 894.5 806.6 898.4C807.7 902.3 808.6 908 810.1 913C811.5 918 813.2 922.8 814.6 926.3C816 929.7 816.8 933.5 818 932.1C819.2 930.7 820.1 922.6 821.2 918.3C822.4 914 823.4 908.2 824.4 908.2C825.5 908.2 826 913.9 827.1 918.3C828.2 922.7 829.3 931.9 830.5 932.9C831.8 933.9 832.8 927.2 834 923.6C835.2 920 836.1 915.3 837.1 913C838.2 910.7 838.6 910.2 839.8 910.9C841 911.6 842.3 915 843.8 917C845.2 918.9 846.3 922 847.8 921.8C849.2 921.5 850.1 917.8 851.7 915.7C853.4 913.5 855.5 912.9 857 909.8C858.6 906.7 859.4 901.3 860.5 898.4C861.6 895.5 862.1 893.2 863.1 893.9C864.2 894.6 865.2 898.5 866.3 902.4C867.5 906.3 868.3 911.6 869.5 915.7C870.7 919.7 871.7 922.7 873 924.9C874.2 927.2 875.1 927.4 876.4 928.1C877.7 928.8 878.8 927.3 880.1 928.9C881.4 930.5 882.3 933.8 883.6 936.9C884.8 940 885.8 945.2 887 946.2C888.2 947.1 888.9 944.6 890.2 942.2C891.5 939.8 892.7 935.9 894.2 932.9C895.7 929.9 897.3 928.6 898.7 925.5C900.1 922.4 900.9 919.4 902.1 915.7C903.4 911.9 904.4 907.6 905.6 904.5C906.8 901.4 907.5 900 908.8 898.4C910.1 896.8 911.6 897.9 912.8 895.8C913.9 893.6 914.2 891.2 915.4 886.5C916.6 881.7 918 874.5 919.4 869.2C920.8 864 921.9 861.6 923.4 857.3C924.8 853 925.9 849.9 927.3 845.3C928.8 840.8 930 837.3 931.3 832.1C932.7 826.8 933.6 820.1 934.8 816.2C936 812.2 936.8 810.6 938 810.3C939.1 810.1 939.9 814.3 941.1 814.8C942.3 815.4 943.4 814.7 944.6 813.5C945.8 812.3 946.9 808.2 948 808.2C949.1 808.2 949.7 810.9 950.7 813.5C951.6 816.1 952.3 819.9 953.3 822.8C954.4 825.7 955.4 826.6 956.5 829.4C957.7 832.3 958.5 835.4 959.7 838.7C960.9 842.1 961.9 845.6 963.2 848C964.4 850.4 965.5 848.4 966.6 852C967.7 855.6 968.3 860.7 969.3 867.9C970.2 875.1 971 883.9 971.9 891.8C972.9 899.7 973.5 907.5 974.6 911.7C975.6 915.8 976.5 914.5 977.8 914.9C979 915.2 980.4 913.5 981.7 913.5C983.1 913.5 984 914.6 985.2 914.9C986.4 915.1 987.3 913.8 988.4 914.9C989.4 916 990.1 919.1 991 921C992 922.8 992.7 925.7 993.7 924.9C994.6 924.2 995.4 919.5 996.3 917C997.3 914.4 998 911.1 999 910.9C999.9 910.6 1000.6 913.7 1001.6 915.7C1002.7 917.6 1003.8 922.4 1004.8 921.5C1005.9 920.5 1006.5 913.5 1007.5 910.3C1008.4 907.1 1009.2 902.3 1010.1 903.7C1011.1 905.1 1011.8 912.3 1012.8 918.3C1013.7 924.3 1014.5 932.3 1015.4 936.9C1016.4 941.4 1017 944 1018.1 943.5C1019.2 943 1020.3 935.7 1021.5 934.2C1022.8 932.8 1023.8 934.9 1025 935.6C1026.2 936.2 1027 939.1 1028.2 937.7C1029.3 936.2 1030.2 931.3 1031.3 927.6C1032.5 923.9 1033.6 919.5 1034.8 917C1036 914.4 1037.1 913.3 1038.2 913.5C1039.4 913.8 1040.3 914.6 1041.4 918.3C1042.6 922 1043.4 928.5 1044.6 934.2C1045.8 940 1047 948.2 1048.1 950.1C1049.2 952.1 1049.6 948.4 1050.7 944.8C1051.8 941.3 1053 933.8 1054.2 930.2C1055.4 926.7 1056.1 925.5 1057.3 924.9C1058.6 924.4 1059.9 927.3 1061.3 927.1C1062.8 926.8 1063.9 924.8 1065.3 923.6C1066.7 922.4 1067.9 922.7 1069.3 920.4C1070.6 918.2 1071.6 913.3 1072.7 911.1C1073.8 908.9 1074.4 906 1075.4 908.2C1076.3 910.5 1077 918.8 1078 923.6C1079.1 928.4 1080.1 935.7 1081.2 934.8C1082.4 933.8 1083.2 922.8 1084.4 918.3C1085.6 913.8 1086.8 909.8 1087.9 909.6C1089 909.3 1089.4 914.8 1090.5 917C1091.6 919.2 1092.8 921.3 1094 921.8C1095.2 922.2 1095.9 919.1 1097.1 919.6C1098.4 920.2 1099.8 926.1 1101.1 924.9C1102.5 923.7 1103.5 917.1 1104.6 913C1105.7 908.9 1106.3 904.5 1107.2 902.4C1108.2 900.2 1108.8 899.4 1109.9 901.1C1110.9 902.7 1111.8 907.1 1113.1 911.7C1114.4 916.2 1115.7 921.3 1117 926.3C1118.4 931.3 1119.3 936.1 1120.5 939.5C1121.7 943 1122.5 946.3 1123.7 945.4C1124.8 944.4 1125.7 937.2 1126.9 934.2C1128.1 931.3 1129 928.8 1130.3 928.9C1131.6 929 1133 933.5 1134.3 934.8C1135.6 936 1136.3 936.3 1137.5 936.1C1138.7 935.8 1139.7 931.4 1140.9 933.4C1142.2 935.5 1143.2 943.8 1144.4 947.5C1145.6 951.2 1146.4 955.1 1147.6 954.1C1148.7 953.2 1149.5 948.4 1150.7 942.2C1151.9 936 1152.9 925.5 1154.2 919.6C1155.4 913.8 1156.4 910.5 1157.6 909.8C1158.8 909.1 1159.7 912.7 1160.8 915.7C1162 918.6 1162.7 923.2 1164 926.3C1165.3 929.4 1166.7 930.7 1168.2 932.9C1169.8 935 1171.1 936.6 1172.8 938.2C1174.4 939.8 1175.7 942.4 1177.3 941.7C1178.8 940.9 1180.7 935.6 1181.5 934.2" fill="none" stroke="#0000ff" stroke-width="2.9" stroke-linejoin="round" stroke-linecap="round"/>
</g>
<rect x="678.3" y="85.8" width="503.8" height="883.4" fill="none" stroke="#000" stroke-width="2.5"/>
<line x1="678.3" y1="262.6" x2="1182.1" y2="262.6" stroke="#000" stroke-width="2.5"/>
<line x1="678.3" y1="439.3" x2="1182.1" y2="439.3" stroke="#000" stroke-width="2.5"/>
<line x1="678.3" y1="615.9" x2="1182.1" y2="615.9" stroke="#000" stroke-width="2.5"/>
<line x1="678.3" y1="792.6" x2="1182.1" y2="792.6" stroke="#000" stroke-width="2.5"/>
<line x1="1150.6" y1="262.6" x2="1150.6" y2="269.4" stroke="#000" stroke-width="2.4"/>
<line x1="1119.1" y1="262.6" x2="1119.1" y2="276.1" stroke="#000" stroke-width="2.4"/>
<line x1="1087.6" y1="262.6" x2="1087.6" y2="269.4" stroke="#000" stroke-width="2.4"/>
<line x1="1056.1" y1="262.6" x2="1056.1" y2="276.1" stroke="#000" stroke-width="2.4"/>
<line x1="1024.7" y1="262.6" x2="1024.7" y2="269.4" stroke="#000" stroke-width="2.4"/>
<line x1="993.2" y1="262.6" x2="993.2" y2="276.1" stroke="#000" stroke-width="2.4"/>
<line x1="961.7" y1="262.6" x2="961.7" y2="269.4" stroke="#000" stroke-width="2.4"/>
<line x1="930.2" y1="262.6" x2="930.2" y2="276.1" stroke="#000" stroke-width="2.4"/>
<line x1="898.7" y1="262.6" x2="898.7" y2="269.4" stroke="#000" stroke-width="2.4"/>
<line x1="867.2" y1="262.6" x2="867.2" y2="276.1" stroke="#000" stroke-width="2.4"/>
<line x1="835.7" y1="262.6" x2="835.7" y2="269.4" stroke="#000" stroke-width="2.4"/>
<line x1="804.2" y1="262.6" x2="804.2" y2="276.1" stroke="#000" stroke-width="2.4"/>
<line x1="772.8" y1="262.6" x2="772.8" y2="269.4" stroke="#000" stroke-width="2.4"/>
<line x1="741.3" y1="262.6" x2="741.3" y2="276.1" stroke="#000" stroke-width="2.4"/>
<line x1="709.8" y1="262.6" x2="709.8" y2="269.4" stroke="#000" stroke-width="2.4"/>
<line x1="1150.6" y1="439.3" x2="1150.6" y2="446.1" stroke="#000" stroke-width="2.4"/>
<line x1="1119.1" y1="439.3" x2="1119.1" y2="452.8" stroke="#000" stroke-width="2.4"/>
<line x1="1087.6" y1="439.3" x2="1087.6" y2="446.1" stroke="#000" stroke-width="2.4"/>
<line x1="1056.1" y1="439.3" x2="1056.1" y2="452.8" stroke="#000" stroke-width="2.4"/>
<line x1="1024.7" y1="439.3" x2="1024.7" y2="446.1" stroke="#000" stroke-width="2.4"/>
<line x1="993.2" y1="439.3" x2="993.2" y2="452.8" stroke="#000" stroke-width="2.4"/>
<line x1="961.7" y1="439.3" x2="961.7" y2="446.1" stroke="#000" stroke-width="2.4"/>
<line x1="930.2" y1="439.3" x2="930.2" y2="452.8" stroke="#000" stroke-width="2.4"/>
<line x1="898.7" y1="439.3" x2="898.7" y2="446.1" stroke="#000" stroke-width="2.4"/>
<line x1="867.2" y1="439.3" x2="867.2" y2="452.8" stroke="#000" stroke-width="2.4"/>
<line x1="835.7" y1="439.3" x2="835.7" y2="446.1" stroke="#000" stroke-width="2.4"/>
<line x1="804.2" y1="439.3" x2="804.2" y2="452.8" stroke="#000" stroke-width="2.4"/>
<line x1="772.8" y1="439.3" x2="772.8" y2="446.1" stroke="#000" stroke-width="2.4"/>
<line x1="741.3" y1="439.3" x2="741.3" y2="452.8" stroke="#000" stroke-width="2.4"/>
<line x1="709.8" y1="439.3" x2="709.8" y2="446.1" stroke="#000" stroke-width="2.4"/>
<line x1="1150.6" y1="615.9" x2="1150.6" y2="622.7" stroke="#000" stroke-width="2.4"/>
<line x1="1119.1" y1="615.9" x2="1119.1" y2="629.4" stroke="#000" stroke-width="2.4"/>
<line x1="1087.6" y1="615.9" x2="1087.6" y2="622.7" stroke="#000" stroke-width="2.4"/>
<line x1="1056.1" y1="615.9" x2="1056.1" y2="629.4" stroke="#000" stroke-width="2.4"/>
<line x1="1024.7" y1="615.9" x2="1024.7" y2="622.7" stroke="#000" stroke-width="2.4"/>
<line x1="993.2" y1="615.9" x2="993.2" y2="629.4" stroke="#000" stroke-width="2.4"/>
<line x1="961.7" y1="615.9" x2="961.7" y2="622.7" stroke="#000" stroke-width="2.4"/>
<line x1="930.2" y1="615.9" x2="930.2" y2="629.4" stroke="#000" stroke-width="2.4"/>
<line x1="898.7" y1="615.9" x2="898.7" y2="622.7" stroke="#000" stroke-width="2.4"/>
<line x1="867.2" y1="615.9" x2="867.2" y2="629.4" stroke="#000" stroke-width="2.4"/>
<line x1="835.7" y1="615.9" x2="835.7" y2="622.7" stroke="#000" stroke-width="2.4"/>
<line x1="804.2" y1="615.9" x2="804.2" y2="629.4" stroke="#000" stroke-width="2.4"/>
<line x1="772.8" y1="615.9" x2="772.8" y2="622.7" stroke="#000" stroke-width="2.4"/>
<line x1="741.3" y1="615.9" x2="741.3" y2="629.4" stroke="#000" stroke-width="2.4"/>
<line x1="709.8" y1="615.9" x2="709.8" y2="622.7" stroke="#000" stroke-width="2.4"/>
<line x1="1150.6" y1="792.6" x2="1150.6" y2="799.4" stroke="#000" stroke-width="2.4"/>
<line x1="1119.1" y1="792.6" x2="1119.1" y2="806.1" stroke="#000" stroke-width="2.4"/>
<line x1="1087.6" y1="792.6" x2="1087.6" y2="799.4" stroke="#000" stroke-width="2.4"/>
<line x1="1056.1" y1="792.6" x2="1056.1" y2="806.1" stroke="#000" stroke-width="2.4"/>
<line x1="1024.7" y1="792.6" x2="1024.7" y2="799.4" stroke="#000" stroke-width="2.4"/>
<line x1="993.2" y1="792.6" x2="993.2" y2="806.1" stroke="#000" stroke-width="2.4"/>
<line x1="961.7" y1="792.6" x2="961.7" y2="799.4" stroke="#000" stroke-width="2.4"/>
<line x1="930.2" y1="792.6" x2="930.2" y2="806.1" stroke="#000" stroke-width="2.4"/>
<line x1="898.7" y1="792.6" x2="898.7" y2="799.4" stroke="#000" stroke-width="2.4"/>
<line x1="867.2" y1="792.6" x2="867.2" y2="806.1" stroke="#000" stroke-width="2.4"/>
<line x1="835.7" y1="792.6" x2="835.7" y2="799.4" stroke="#000" stroke-width="2.4"/>
<line x1="804.2" y1="792.6" x2="804.2" y2="806.1" stroke="#000" stroke-width="2.4"/>
<line x1="772.8" y1="792.6" x2="772.8" y2="799.4" stroke="#000" stroke-width="2.4"/>
<line x1="741.3" y1="792.6" x2="741.3" y2="806.1" stroke="#000" stroke-width="2.4"/>
<line x1="709.8" y1="792.6" x2="709.8" y2="799.4" stroke="#000" stroke-width="2.4"/>
<line x1="1182.1" y1="969.2" x2="1182.1" y2="982.7" stroke="#000" stroke-width="2.4"/>
<line x1="1150.6" y1="969.2" x2="1150.6" y2="976" stroke="#000" stroke-width="2.4"/>
<line x1="1119.1" y1="969.2" x2="1119.1" y2="982.7" stroke="#000" stroke-width="2.4"/>
<line x1="1087.6" y1="969.2" x2="1087.6" y2="976" stroke="#000" stroke-width="2.4"/>
<line x1="1056.1" y1="969.2" x2="1056.1" y2="982.7" stroke="#000" stroke-width="2.4"/>
<line x1="1024.7" y1="969.2" x2="1024.7" y2="976" stroke="#000" stroke-width="2.4"/>
<line x1="993.2" y1="969.2" x2="993.2" y2="982.7" stroke="#000" stroke-width="2.4"/>
<line x1="961.7" y1="969.2" x2="961.7" y2="976" stroke="#000" stroke-width="2.4"/>
<line x1="930.2" y1="969.2" x2="930.2" y2="982.7" stroke="#000" stroke-width="2.4"/>
<line x1="898.7" y1="969.2" x2="898.7" y2="976" stroke="#000" stroke-width="2.4"/>
<line x1="867.2" y1="969.2" x2="867.2" y2="982.7" stroke="#000" stroke-width="2.4"/>
<line x1="835.7" y1="969.2" x2="835.7" y2="976" stroke="#000" stroke-width="2.4"/>
<line x1="804.2" y1="969.2" x2="804.2" y2="982.7" stroke="#000" stroke-width="2.4"/>
<line x1="772.8" y1="969.2" x2="772.8" y2="976" stroke="#000" stroke-width="2.4"/>
<line x1="741.3" y1="969.2" x2="741.3" y2="982.7" stroke="#000" stroke-width="2.4"/>
<line x1="709.8" y1="969.2" x2="709.8" y2="976" stroke="#000" stroke-width="2.4"/>
<line x1="678.3" y1="969.2" x2="678.3" y2="982.7" stroke="#000" stroke-width="2.4"/>
<path d="M947.2 453 L942 431.5 L952.4 431.5 Z" fill="#000"/>
<text transform="translate(1182.1 1013.3) scale(1.0 1)" font-size="24.5" fill="#000" stroke="#000" stroke-width="0.3" text-anchor="middle">–80</text>
<text transform="translate(1119.12 1013.3) scale(1.0 1)" font-size="24.5" fill="#000" stroke="#000" stroke-width="0.3" text-anchor="middle">–60</text>
<text transform="translate(1056.15 1013.3) scale(1.0 1)" font-size="24.5" fill="#000" stroke="#000" stroke-width="0.3" text-anchor="middle">–40</text>
<text transform="translate(993.17 1013.3) scale(1.0 1)" font-size="24.5" fill="#000" stroke="#000" stroke-width="0.3" text-anchor="middle">–20</text>
<text transform="translate(930.2 1013.3) scale(1.0 1)" font-size="24.5" fill="#000" stroke="#000" stroke-width="0.3" text-anchor="middle">0</text>
<text transform="translate(867.22 1013.3) scale(1.0 1)" font-size="24.5" fill="#000" stroke="#000" stroke-width="0.3" text-anchor="middle">20</text>
<text transform="translate(804.25 1013.3) scale(1.0 1)" font-size="24.5" fill="#000" stroke="#000" stroke-width="0.3" text-anchor="middle">40</text>
<text transform="translate(741.27 1013.3) scale(1.0 1)" font-size="24.5" fill="#000" stroke="#000" stroke-width="0.3" text-anchor="middle">60</text>
<text transform="translate(678.3 1013.3) scale(1.0 1)" font-size="24.5" fill="#000" stroke="#000" stroke-width="0.3" text-anchor="middle">80</text>
<text transform="translate(930 1052.5) scale(1.0 1)" font-size="24.7" fill="#000" stroke="#000" stroke-width="0.3" text-anchor="middle">Chemical shift (ppm)</text>
<text transform="translate(687.4 117.6) scale(0.985 1)" font-size="25.18" fill="#000" stroke="#000" stroke-width="0.3" text-anchor="start"><tspan dy="0" font-size="25.18">F</tspan><tspan dx="-0.91" dy="0" font-size="25.18">e–P</tspan><tspan dx="0.51" dy="8.8" font-size="16.75">700</tspan><tspan dx="0.81" dy="-8.8" font-size="25.18">–</tspan><tspan dx="0.41" dy="0" font-size="25.18">PCC</tspan></text>
<text transform="translate(687.4 303.6) scale(0.985 1)" font-size="25.18" fill="#000" stroke="#000" stroke-width="0.3" text-anchor="start"><tspan dy="0" font-size="25.18">F</tspan><tspan dx="-0.91" dy="0" font-size="25.18">e–P</tspan><tspan dx="0.51" dy="8.8" font-size="16.75">800</tspan><tspan dx="0.81" dy="-8.8" font-size="25.18">–</tspan><tspan dx="0.41" dy="0" font-size="25.18">PCC</tspan></text>
<text transform="translate(687.4 480.3) scale(0.985 1)" font-size="25.18" fill="#000" stroke="#000" stroke-width="0.3" text-anchor="start"><tspan dy="0" font-size="25.18">F</tspan><tspan dx="-0.91" dy="0" font-size="25.18">e–P</tspan><tspan dx="0.51" dy="8.8" font-size="16.75">900</tspan><tspan dx="0.81" dy="-8.8" font-size="25.18">–</tspan><tspan dx="0.41" dy="0" font-size="25.18">PCC</tspan></text>
<text transform="translate(687.4 655.2) scale(0.985 1)" font-size="25.18" fill="#000" stroke="#000" stroke-width="0.3" text-anchor="start"><tspan dy="0" font-size="25.18">F</tspan><tspan dx="-0.91" dy="0" font-size="25.18">e–P</tspan><tspan dx="0.71" dy="8.8" font-size="16.75">1000</tspan><tspan dx="0.3" dy="-8.8" font-size="25.18">–</tspan><tspan dx="0.41" dy="0" font-size="25.18">PCC</tspan></text>
<text transform="translate(687.4 841) scale(0.985 1)" font-size="25.18" fill="#000" stroke="#000" stroke-width="0.3" text-anchor="start"><tspan dy="0" font-size="25.18">F</tspan><tspan dx="-0.91" dy="0" font-size="25.18">e–P</tspan><tspan dx="0.51" dy="8.8" font-size="16.75">1100</tspan><tspan dx="0.81" dy="-8.8" font-size="25.18">–</tspan><tspan dx="0.41" dy="0" font-size="25.18">PCC</tspan></text>
<text transform="translate(1113.6 119.2) scale(0.985 1)" font-size="25.18" fill="#000" stroke="#000" stroke-width="0.3" text-anchor="start">31</text>
<text transform="translate(1143.6 131) scale(0.985 1)" font-size="35.13" fill="#000" stroke="#000" stroke-width="0.3" text-anchor="start">P</text>
<text transform="translate(947.3 120) scale(0.985 1)" font-size="25.18" fill="#0000ff" stroke="#0000ff" stroke-width="0.3" text-anchor="start">–1.95</text>
<text transform="translate(953.8 307) scale(0.985 1)" font-size="25.18" fill="#0000ff" stroke="#0000ff" stroke-width="0.3" text-anchor="start">–3.60</text>
<text transform="translate(957.8 482) scale(0.985 1)" font-size="25.18" fill="#0000ff" stroke="#0000ff" stroke-width="0.3" text-anchor="start">–5.30</text>
<text transform="translate(795.4 176.5) scale(0.86 1)" x="-9.2" y="18.4" font-family="'Liberation Serif',serif" font-size="38" fill="#000" stroke="#000" stroke-width="0.45">*</text>
<text transform="translate(1063.5 202.6) scale(0.86 1)" x="-9.2" y="18.4" font-family="'Liberation Serif',serif" font-size="38" fill="#000" stroke="#000" stroke-width="0.45">*</text>
<text transform="translate(804.5 386.9) scale(0.86 1)" x="-9.2" y="18.4" font-family="'Liberation Serif',serif" font-size="38" fill="#000" stroke="#000" stroke-width="0.45">*</text>
<text transform="translate(1078.1 395.6) scale(0.86 1)" x="-9.2" y="18.4" font-family="'Liberation Serif',serif" font-size="38" fill="#000" stroke="#000" stroke-width="0.45">*</text>
<text transform="translate(800 560.8) scale(0.86 1)" x="-9.2" y="18.4" font-family="'Liberation Serif',serif" font-size="38" fill="#000" stroke="#000" stroke-width="0.45">*</text>
<text transform="translate(1078.6 572.7) scale(0.86 1)" x="-9.2" y="18.4" font-family="'Liberation Serif',serif" font-size="38" fill="#000" stroke="#000" stroke-width="0.45">*</text>
<text transform="translate(800 734.2) scale(0.86 1)" x="-9.2" y="18.4" font-family="'Liberation Serif',serif" font-size="38" fill="#000" stroke="#000" stroke-width="0.45">*</text>
<text transform="translate(1076 744.5) scale(0.86 1)" x="-9.2" y="18.4" font-family="'Liberation Serif',serif" font-size="38" fill="#000" stroke="#000" stroke-width="0.45">*</text>
<text transform="translate(639.84 62.73) scale(1.064 1.008)" font-size="40" font-weight="bold" fill="#000">b</text>
<g id="panel-c" clip-path="url(#clipC)">
<rect x="1448.9" y="234.4" width="34.5" height="292.8" fill="#0000a0"/>
<rect x="1483.4" y="238.6" width="34.5" height="288.6" fill="#ff8200"/>
<rect x="1465.7" y="527.2" width="35.4" height="207.5" fill="#800080"/>
<text transform="translate(1475.95 235.36) rotate(-90) scale(0.985 1)" font-size="25.18" fill="#0000a0" stroke="#0000a0" stroke-width="0.3" text-anchor="start" letter-spacing="-0.71">69</text>
<text transform="translate(1510.05 239.61) rotate(-90) scale(0.985 1)" font-size="25.18" fill="#ff8200" stroke="#ff8200" stroke-width="0.3" text-anchor="start" letter-spacing="-0.71">68</text>
<text transform="translate(1494.6 738.48) rotate(-90) scale(0.985 1)" font-size="25.18" fill="#800080" stroke="#800080" stroke-width="0.3" text-anchor="end" letter-spacing="-1.02">0.21</text>
<text transform="translate(1489 613.2) rotate(-90) scale(0.985 1)" font-size="25.18" fill="#fff" stroke="#fff" stroke-width="0.3" text-anchor="start"><tspan dy="0" font-size="25.18">F</tspan><tspan dx="-0.91" dy="0" font-size="25.18">e–P</tspan><tspan dx="0.51" dy="8.8" font-size="16.75">800</tspan><tspan dx="0.81" dy="-8.8" font-size="25.18">–</tspan><tspan dx="0.41" dy="0" font-size="25.18">PCC</tspan></text>
<rect x="1533.2" y="132.5" width="34.5" height="394.7" fill="#0000a0"/>
<rect x="1567.7" y="136.8" width="34.5" height="390.4" fill="#ff8200"/>
<rect x="1550" y="527.2" width="35.4" height="405.1" fill="#800080"/>
<text transform="translate(1560.55 133.51) rotate(-90) scale(0.985 1)" font-size="25.18" fill="#0000a0" stroke="#0000a0" stroke-width="0.3" text-anchor="start" letter-spacing="-0.71">93</text>
<text transform="translate(1594.95 137.75) rotate(-90) scale(0.985 1)" font-size="25.18" fill="#ff8200" stroke="#ff8200" stroke-width="0.3" text-anchor="start" letter-spacing="-0.71">92</text>
<text transform="translate(1578.9 936.08) rotate(-90) scale(0.985 1)" font-size="25.18" fill="#800080" stroke="#800080" stroke-width="0.3" text-anchor="end" letter-spacing="-1.02">0.41</text>
<text transform="translate(1573.3 613.2) rotate(-90) scale(0.985 1)" font-size="25.18" fill="#fff" stroke="#fff" stroke-width="0.3" text-anchor="start"><tspan dy="0" font-size="25.18">F</tspan><tspan dx="-0.91" dy="0" font-size="25.18">e–P</tspan><tspan dx="0.51" dy="8.8" font-size="16.75">900</tspan><tspan dx="0.81" dy="-8.8" font-size="25.18">–</tspan><tspan dx="0.41" dy="0" font-size="25.18">PCC</tspan></text>
<rect x="1617.9" y="141" width="34.5" height="386.2" fill="#0000a0"/>
<rect x="1652.4" y="141" width="34.5" height="386.2" fill="#ff8200"/>
<rect x="1634.7" y="527.2" width="35.4" height="345.8" fill="#800080"/>
<text transform="translate(1644.55 142) rotate(-90) scale(0.985 1)" font-size="25.18" fill="#0000a0" stroke="#0000a0" stroke-width="0.3" text-anchor="start" letter-spacing="-0.71">91</text>
<text transform="translate(1678.65 142) rotate(-90) scale(0.985 1)" font-size="25.18" fill="#ff8200" stroke="#ff8200" stroke-width="0.3" text-anchor="start" letter-spacing="-0.71">91</text>
<text transform="translate(1663.6 876.8) rotate(-90) scale(0.985 1)" font-size="25.18" fill="#800080" stroke="#800080" stroke-width="0.3" text-anchor="end" letter-spacing="-1.02">0.35</text>
<text transform="translate(1658 621.7) rotate(-90) scale(0.985 1)" font-size="25.18" fill="#fff" stroke="#fff" stroke-width="0.3" text-anchor="start"><tspan dy="0" font-size="25.18">F</tspan><tspan dx="-0.91" dy="0" font-size="25.18">e–P</tspan><tspan dx="0.71" dy="8.8" font-size="16.75">1000</tspan><tspan dx="0.3" dy="-8.8" font-size="25.18">–</tspan><tspan dx="0.41" dy="0" font-size="25.18">PCC</tspan></text>
<rect x="1702.6" y="217.4" width="34.5" height="309.8" fill="#0000a0"/>
<rect x="1737.1" y="221.6" width="34.5" height="305.6" fill="#ff8200"/>
<rect x="1719.4" y="527.2" width="35.4" height="207.5" fill="#800080"/>
<text transform="translate(1729.05 218.39) rotate(-90) scale(0.985 1)" font-size="25.18" fill="#0000a0" stroke="#0000a0" stroke-width="0.3" text-anchor="start" letter-spacing="-0.71">73</text>
<text transform="translate(1763.35 222.63) rotate(-90) scale(0.985 1)" font-size="25.18" fill="#ff8200" stroke="#ff8200" stroke-width="0.3" text-anchor="start" letter-spacing="-0.71">72</text>
<text transform="translate(1748.3 738.48) rotate(-90) scale(0.985 1)" font-size="25.18" fill="#800080" stroke="#800080" stroke-width="0.3" text-anchor="end" letter-spacing="-1.02">0.21</text>
<text transform="translate(1742.7 621.7) rotate(-90) scale(0.985 1)" font-size="25.18" fill="#fff" stroke="#fff" stroke-width="0.3" text-anchor="start"><tspan dy="0" font-size="25.18">F</tspan><tspan dx="-0.91" dy="0" font-size="25.18">e–P</tspan><tspan dx="0.51" dy="8.8" font-size="16.75">1100</tspan><tspan dx="0.81" dy="-8.8" font-size="25.18">–</tspan><tspan dx="0.41" dy="0" font-size="25.18">PCC</tspan></text>
<rect x="1787.3" y="136.8" width="34.5" height="390.4" fill="#0000a0"/>
<rect x="1821.8" y="136.8" width="34.5" height="390.4" fill="#ff8200"/>
<rect x="1804.1" y="527.2" width="35.4" height="385.3" fill="#800080"/>
<text transform="translate(1813.15 137.75) rotate(-90) scale(0.985 1)" font-size="25.18" fill="#0000a0" stroke="#0000a0" stroke-width="0.3" text-anchor="start" letter-spacing="-0.71">92</text>
<text transform="translate(1846.85 137.75) rotate(-90) scale(0.985 1)" font-size="25.18" fill="#ff8200" stroke="#ff8200" stroke-width="0.3" text-anchor="start" letter-spacing="-0.71">92</text>
<text transform="translate(1833 916.32) rotate(-90) scale(0.985 1)" font-size="25.18" fill="#800080" stroke="#800080" stroke-width="0.3" text-anchor="end" letter-spacing="-1.02">0.39</text>
<text transform="translate(1827.4 615.8) rotate(-90) scale(0.985 1)" font-size="25.18" fill="#fff" stroke="#fff" stroke-width="0.3" text-anchor="start"><tspan dy="0" font-size="25.18">F</tspan><tspan dx="-0.91" dy="0" font-size="25.18">e–P</tspan><tspan dx="0.51" dy="8.8" font-size="16.75">900</tspan><tspan dx="0.81" dy="-8.8" font-size="25.18">–</tspan><tspan dx="0.41" dy="0" font-size="25.18">PCC–H</tspan></text>
</g>
<rect x="1356.5" y="83.1" width="507.1" height="888.1" fill="none" stroke="#000" stroke-width="2.6"/>
<line x1="1348.3" y1="527.2" x2="1863.6" y2="527.2" stroke="#000" stroke-width="2.5"/>
<line x1="1855.4" y1="527.2" x2="1863.6" y2="527.2" stroke="#000" stroke-width="2.5"/>
<text transform="translate(1336.9 535.9) scale(1.0 1)" font-size="24.7" fill="#000" stroke="#000" stroke-width="0.3" text-anchor="end">0.0</text>
<text transform="translate(1876.2 536.2) scale(1.0 1)" font-size="24.7" fill="#000" stroke="#000" stroke-width="0.3" text-anchor="start">0</text>
<line x1="1351.9" y1="484.9" x2="1356.5" y2="484.9" stroke="#000" stroke-width="2.5"/>
<line x1="1859" y1="484.9" x2="1863.6" y2="484.9" stroke="#000" stroke-width="2.5"/>
<line x1="1348.3" y1="442.6" x2="1356.5" y2="442.6" stroke="#000" stroke-width="2.5"/>
<line x1="1855.4" y1="442.6" x2="1863.6" y2="442.6" stroke="#000" stroke-width="2.5"/>
<text transform="translate(1336.9 451.29) scale(1.0 1)" font-size="24.7" fill="#000" stroke="#000" stroke-width="0.3" text-anchor="end">20</text>
<text transform="translate(1876.2 451.59) scale(1.0 1)" font-size="24.7" fill="#000" stroke="#000" stroke-width="0.3" text-anchor="start">20</text>
<line x1="1351.9" y1="400.3" x2="1356.5" y2="400.3" stroke="#000" stroke-width="2.5"/>
<line x1="1859" y1="400.3" x2="1863.6" y2="400.3" stroke="#000" stroke-width="2.5"/>
<line x1="1348.3" y1="358" x2="1356.5" y2="358" stroke="#000" stroke-width="2.5"/>
<line x1="1855.4" y1="358" x2="1863.6" y2="358" stroke="#000" stroke-width="2.5"/>
<text transform="translate(1336.9 366.68) scale(1.0 1)" font-size="24.7" fill="#000" stroke="#000" stroke-width="0.3" text-anchor="end">40</text>
<text transform="translate(1876.2 366.98) scale(1.0 1)" font-size="24.7" fill="#000" stroke="#000" stroke-width="0.3" text-anchor="start">40</text>
<line x1="1351.9" y1="315.7" x2="1356.5" y2="315.7" stroke="#000" stroke-width="2.5"/>
<line x1="1859" y1="315.7" x2="1863.6" y2="315.7" stroke="#000" stroke-width="2.5"/>
<line x1="1348.3" y1="273.4" x2="1356.5" y2="273.4" stroke="#000" stroke-width="2.5"/>
<line x1="1855.4" y1="273.4" x2="1863.6" y2="273.4" stroke="#000" stroke-width="2.5"/>
<text transform="translate(1336.9 282.07) scale(1.0 1)" font-size="24.7" fill="#000" stroke="#000" stroke-width="0.3" text-anchor="end">60</text>
<text transform="translate(1876.2 282.37) scale(1.0 1)" font-size="24.7" fill="#000" stroke="#000" stroke-width="0.3" text-anchor="start">60</text>
<line x1="1351.9" y1="231.1" x2="1356.5" y2="231.1" stroke="#000" stroke-width="2.5"/>
<line x1="1859" y1="231.1" x2="1863.6" y2="231.1" stroke="#000" stroke-width="2.5"/>
<line x1="1348.3" y1="188.8" x2="1356.5" y2="188.8" stroke="#000" stroke-width="2.5"/>
<line x1="1855.4" y1="188.8" x2="1863.6" y2="188.8" stroke="#000" stroke-width="2.5"/>
<text transform="translate(1336.9 197.46) scale(1.0 1)" font-size="24.7" fill="#000" stroke="#000" stroke-width="0.3" text-anchor="end">80</text>
<text transform="translate(1876.2 197.76) scale(1.0 1)" font-size="24.7" fill="#000" stroke="#000" stroke-width="0.3" text-anchor="start">80</text>
<line x1="1351.9" y1="146.5" x2="1356.5" y2="146.5" stroke="#000" stroke-width="2.5"/>
<line x1="1859" y1="146.5" x2="1863.6" y2="146.5" stroke="#000" stroke-width="2.5"/>
<line x1="1348.3" y1="104.2" x2="1356.5" y2="104.2" stroke="#000" stroke-width="2.5"/>
<line x1="1855.4" y1="104.2" x2="1863.6" y2="104.2" stroke="#000" stroke-width="2.5"/>
<text transform="translate(1336.9 112.85) scale(1.0 1)" font-size="24.7" fill="#000" stroke="#000" stroke-width="0.3" text-anchor="end">100</text>
<text transform="translate(1876.2 113.15) scale(1.0 1)" font-size="24.7" fill="#000" stroke="#000" stroke-width="0.3" text-anchor="start">100</text>
<line x1="1351.9" y1="576.6" x2="1356.5" y2="576.6" stroke="#000" stroke-width="2.5"/>
<line x1="1348.3" y1="625.9" x2="1356.5" y2="625.9" stroke="#000" stroke-width="2.5"/>
<text transform="translate(1336.9 634.6) scale(1.0 1)" font-size="24.7" fill="#000" stroke="#000" stroke-width="0.3" text-anchor="end">0.1</text>
<line x1="1351.9" y1="675.2" x2="1356.5" y2="675.2" stroke="#000" stroke-width="2.5"/>
<line x1="1348.3" y1="724.6" x2="1356.5" y2="724.6" stroke="#000" stroke-width="2.5"/>
<text transform="translate(1336.9 733.3) scale(1.0 1)" font-size="24.7" fill="#000" stroke="#000" stroke-width="0.3" text-anchor="end">0.2</text>
<line x1="1351.9" y1="774" x2="1356.5" y2="774" stroke="#000" stroke-width="2.5"/>
<line x1="1348.3" y1="823.3" x2="1356.5" y2="823.3" stroke="#000" stroke-width="2.5"/>
<text transform="translate(1336.9 832) scale(1.0 1)" font-size="24.7" fill="#000" stroke="#000" stroke-width="0.3" text-anchor="end">0.3</text>
<line x1="1351.9" y1="872.7" x2="1356.5" y2="872.7" stroke="#000" stroke-width="2.5"/>
<line x1="1348.3" y1="922" x2="1356.5" y2="922" stroke="#000" stroke-width="2.5"/>
<text transform="translate(1336.9 930.7) scale(1.0 1)" font-size="24.7" fill="#000" stroke="#000" stroke-width="0.3" text-anchor="end">0.4</text>
<text transform="translate(1270.3 313.4) rotate(-90) scale(1.0 1)" font-size="24.7" fill="#000" stroke="#000" stroke-width="0.3" text-anchor="middle">Conversion of quinoline (%)</text>
<text transform="translate(1270.6 757.5) rotate(-90) scale(1.0 1)" font-size="24.7" fill="#000" stroke="#000" stroke-width="0.3" text-anchor="middle"><tspan dy="0" font-size="24.7">Content of P</tspan><tspan dy="8.77" font-size="16.43">grap</tspan><tspan dy="-8.77" font-size="24.7"> (atomic %)</tspan></text>
<text transform="translate(1955 309.2) rotate(-90) scale(1.0 1)" font-size="24.7" fill="#000" stroke="#000" stroke-width="0.3" text-anchor="middle">Yield of tetrahydroquinoline (%)</text>
<rect x="1365.8" y="344.3" width="66.8" height="363.8" fill="none" stroke="#ff0000" stroke-width="2.8" stroke-dasharray="5.8 4.2"/>
<text transform="translate(1405.5 505.7) rotate(-90) scale(0.985 1)" font-size="25.18" fill="#000" stroke="#000" stroke-width="0.3" text-anchor="start"><tspan dy="0" font-size="25.18">F</tspan><tspan dx="-0.91" dy="0" font-size="25.18">e–P</tspan><tspan dx="0.51" dy="8.8" font-size="16.75">700</tspan><tspan dx="0.81" dy="-8.8" font-size="25.18">–</tspan><tspan dx="0.41" dy="0" font-size="25.18">PCC</tspan></text>
<text transform="translate(1405.5 704) rotate(-90) scale(0.985 1)" font-size="25.18" fill="#000" stroke="#000" stroke-width="0.3" text-anchor="start"><tspan dy="0" font-size="25.18">F</tspan><tspan dx="-0.91" dy="0" font-size="25.18">e–P</tspan><tspan dx="0.51" dy="8.8" font-size="16.75">700</tspan><tspan dx="0.81" dy="-8.8" font-size="25.18">–</tspan><tspan dx="0.41" dy="0" font-size="25.18">PCC</tspan></text>
<text transform="translate(1390.9 527.2) rotate(-90) scale(0.985 1)" font-size="25.18" fill="#0000a0" stroke="#0000a0" stroke-width="0.3" text-anchor="start">0</text>
<text transform="translate(1425 527.2) rotate(-90) scale(0.985 1)" font-size="25.18" fill="#ff8200" stroke="#ff8200" stroke-width="0.3" text-anchor="start">0</text>
<text transform="translate(1406.5 545.6) rotate(-90) scale(0.985 1)" font-size="25.18" fill="#800080" stroke="#800080" stroke-width="0.3" text-anchor="start">0</text>
<path d="M1465.8 204.5 V179.6 H1394" fill="none" stroke="#0000a0" stroke-width="2.9"/>
<path d="M1373.4 179.6 L1396.4 173.8 L1396.4 185.4 Z" fill="#0000a0"/>
<path d="M1834 110 V99.3 H1842" fill="none" stroke="#ff8200" stroke-width="2.9"/>
<path d="M1862.2 99.3 L1840.8 93.7 L1840.8 104.9 Z" fill="#ff8200"/>
<path d="M1484.3 788 V812 H1413" fill="none" stroke="#800080" stroke-width="2.9"/>
<path d="M1390.7 812 L1414.3 806.4 L1414.3 817.6 Z" fill="#800080"/>
<text transform="translate(1248.94 62.95) scale(1.051 1.069)" font-size="40" font-weight="bold" fill="#000">c</text>
</svg>
</body></html>
